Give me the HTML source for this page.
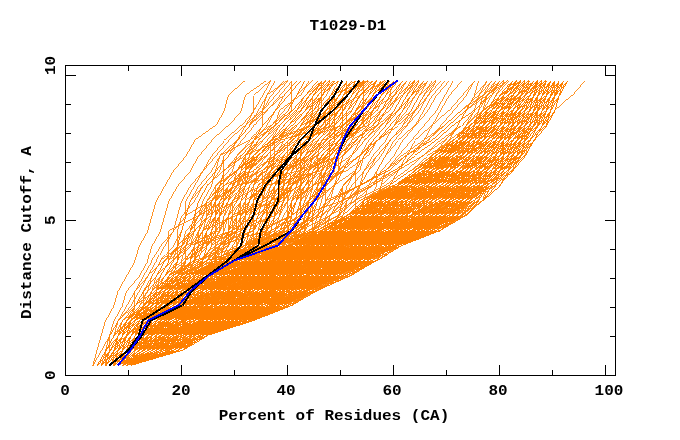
<!DOCTYPE html>
<html><head><meta charset="utf-8"><title>T1029-D1</title>
<style>
html,body{margin:0;padding:0;background:#fff;}
body{width:680px;height:440px;overflow:hidden;position:relative;font-family:"Liberation Mono",monospace;font-weight:bold;color:#000;}
svg{position:absolute;left:0;top:0;}
.t{position:absolute;white-space:pre;line-height:1;}
.t{will-change:transform;}
.big{font-size:14px;}
.big.c{transform:translateX(-50%) scaleX(1.143);}
.big.rot{transform-origin:0 0;transform:rotate(-90deg) scaleX(1.143);}
</style></head><body>
<svg width="680" height="440" viewBox="0 0 680 440" shape-rendering="crispEdges">
<g fill="none" stroke="#ff8000" stroke-width="0.85">
<polyline points="117.9,365.5 130.6,350.5 143.3,335.5 151.8,320.5 181.5,305.5 202.7,290.5 219.7,275.5 253.6,260.5 287.5,245.5 321.4,230.5 346.9,215.5 363.8,200.5 393.5,185.5 414.7,170.5 431.7,155.5 452.9,140.5 469.8,125.5 482.5,110.5 499.5,95.5 512.2,80.5"/>
<polyline points="117.9,365.5 134.9,350.5 143.3,335.5 151.8,320.5 198.5,305.5 202.7,290.5 232.4,275.5 266.3,260.5 300.2,245.5 334.1,230.5 351.1,215.5 368.1,200.5 393.5,185.5 414.7,170.5 440.1,155.5 461.3,140.5 474.1,125.5 486.8,110.5 499.5,95.5 512.2,80.5"/>
<polyline points="117.9,365.5 139.1,350.5 143.3,335.5 151.8,320.5 181.5,305.5 194.2,290.5 219.7,275.5 253.6,260.5 287.5,245.5 321.4,230.5 355.3,215.5 363.8,200.5 393.5,185.5 414.7,170.5 435.9,155.5 457.1,140.5 469.8,125.5 486.8,110.5 499.5,95.5 516.5,80.5"/>
<polyline points="117.9,365.5 134.9,350.5 147.6,335.5 168.8,320.5 194.2,305.5 206.9,290.5 219.7,275.5 262.1,260.5 304.5,245.5 334.1,230.5 355.3,215.5 376.5,200.5 393.5,185.5 414.7,170.5 431.7,155.5 452.9,140.5 469.8,125.5 491.0,110.5 503.7,95.5 516.5,80.5"/>
<polyline points="117.9,365.5 130.6,350.5 147.6,335.5 156.1,320.5 185.7,305.5 202.7,290.5 223.9,275.5 253.6,260.5 287.5,245.5 321.4,230.5 346.9,215.5 368.1,200.5 393.5,185.5 418.9,170.5 431.7,155.5 452.9,140.5 469.8,125.5 482.5,110.5 499.5,95.5 512.2,80.5"/>
<polyline points="117.9,365.5 130.6,350.5 139.1,335.5 168.8,320.5 185.7,305.5 219.7,290.5 219.7,275.5 253.6,260.5 287.5,245.5 321.4,230.5 346.9,215.5 368.1,200.5 393.5,185.5 414.7,170.5 435.9,155.5 457.1,140.5 469.8,125.5 482.5,110.5 499.5,95.5 512.2,80.5"/>
<polyline points="117.9,365.5 139.1,350.5 147.6,335.5 151.8,320.5 185.7,305.5 211.2,290.5 219.7,275.5 253.6,260.5 287.5,245.5 321.4,230.5 346.9,215.5 363.8,200.5 393.5,185.5 414.7,170.5 431.7,155.5 452.9,140.5 469.8,125.5 482.5,110.5 499.5,95.5 512.2,80.5"/>
<polyline points="117.9,365.5 134.9,350.5 151.8,335.5 160.3,320.5 181.5,305.5 194.2,290.5 223.9,275.5 266.3,260.5 291.7,245.5 321.4,230.5 346.9,215.5 368.1,200.5 393.5,185.5 418.9,170.5 435.9,155.5 452.9,140.5 469.8,125.5 486.8,110.5 499.5,95.5 512.2,80.5"/>
<polyline points="117.9,365.5 130.6,350.5 139.1,335.5 156.1,320.5 194.2,305.5 198.5,290.5 228.1,275.5 253.6,260.5 304.5,245.5 342.6,230.5 359.6,215.5 372.3,200.5 397.7,185.5 414.7,170.5 435.9,155.5 457.1,140.5 469.8,125.5 482.5,110.5 499.5,95.5 512.2,80.5"/>
<polyline points="117.9,365.5 134.9,350.5 147.6,335.5 151.8,320.5 181.5,305.5 206.9,290.5 228.1,275.5 253.6,260.5 287.5,245.5 321.4,230.5 346.9,215.5 363.8,200.5 393.5,185.5 414.7,170.5 431.7,155.5 452.9,140.5 469.8,125.5 482.5,110.5 499.5,95.5 512.2,80.5"/>
<polyline points="117.9,365.5 139.1,350.5 151.8,335.5 160.3,320.5 202.7,305.5 202.7,290.5 219.7,275.5 266.3,260.5 287.5,245.5 321.4,230.5 346.9,215.5 363.8,200.5 393.5,185.5 414.7,170.5 431.7,155.5 452.9,140.5 469.8,125.5 482.5,110.5 499.5,95.5 512.2,80.5"/>
<polyline points="117.9,365.5 130.6,350.5 139.1,335.5 156.1,320.5 194.2,305.5 198.5,290.5 240.9,275.5 270.5,260.5 308.7,245.5 325.7,230.5 346.9,215.5 372.3,200.5 393.5,185.5 418.9,170.5 440.1,155.5 452.9,140.5 474.1,125.5 491.0,110.5 508.0,95.5 516.5,80.5"/>
<polyline points="117.9,365.5 130.6,350.5 139.1,335.5 151.8,320.5 185.7,305.5 194.2,290.5 232.4,275.5 257.8,260.5 291.7,245.5 321.4,230.5 346.9,215.5 363.8,200.5 393.5,185.5 414.7,170.5 431.7,155.5 452.9,140.5 469.8,125.5 482.5,110.5 499.5,95.5 512.2,80.5"/>
<polyline points="117.9,365.5 130.6,350.5 143.3,335.5 151.8,320.5 185.7,305.5 194.2,290.5 228.1,275.5 257.8,260.5 287.5,245.5 325.7,230.5 346.9,215.5 363.8,200.5 393.5,185.5 414.7,170.5 435.9,155.5 457.1,140.5 474.1,125.5 486.8,110.5 503.7,95.5 516.5,80.5"/>
<polyline points="117.9,365.5 139.1,350.5 147.6,335.5 160.3,320.5 181.5,305.5 194.2,290.5 219.7,275.5 262.1,260.5 291.7,245.5 329.9,230.5 363.8,215.5 368.1,200.5 397.7,185.5 414.7,170.5 435.9,155.5 457.1,140.5 474.1,125.5 491.0,110.5 499.5,95.5 512.2,80.5"/>
<polyline points="117.9,365.5 143.3,350.5 147.6,335.5 156.1,320.5 190.0,305.5 202.7,290.5 219.7,275.5 253.6,260.5 296.0,245.5 321.4,230.5 346.9,215.5 363.8,200.5 397.7,185.5 414.7,170.5 431.7,155.5 452.9,140.5 469.8,125.5 482.5,110.5 499.5,95.5 512.2,80.5"/>
<polyline points="117.9,365.5 130.6,350.5 139.1,335.5 151.8,320.5 181.5,305.5 194.2,290.5 219.7,275.5 253.6,260.5 287.5,245.5 321.4,230.5 355.3,215.5 363.8,200.5 393.5,185.5 414.7,170.5 435.9,155.5 452.9,140.5 474.1,125.5 486.8,110.5 499.5,95.5 512.2,80.5"/>
<polyline points="117.9,365.5 134.9,350.5 143.3,335.5 160.3,320.5 190.0,305.5 198.5,290.5 219.7,275.5 266.3,260.5 287.5,245.5 329.9,230.5 351.1,215.5 368.1,200.5 393.5,185.5 414.7,170.5 435.9,155.5 461.3,140.5 478.3,125.5 491.0,110.5 503.7,95.5 516.5,80.5"/>
<polyline points="117.9,365.5 130.6,350.5 147.6,335.5 156.1,320.5 181.5,305.5 194.2,290.5 219.7,275.5 253.6,260.5 287.5,245.5 321.4,230.5 346.9,215.5 363.8,200.5 397.7,185.5 418.9,170.5 435.9,155.5 452.9,140.5 469.8,125.5 482.5,110.5 499.5,95.5 512.2,80.5"/>
<polyline points="117.9,365.5 134.9,350.5 151.8,335.5 156.1,320.5 181.5,305.5 202.7,290.5 232.4,275.5 257.8,260.5 296.0,245.5 321.4,230.5 346.9,215.5 368.1,200.5 393.5,185.5 414.7,170.5 435.9,155.5 452.9,140.5 469.8,125.5 482.5,110.5 499.5,95.5 516.5,80.5"/>
<polyline points="117.9,365.5 139.1,350.5 147.6,335.5 164.5,320.5 202.7,305.5 228.1,290.5 232.4,275.5 253.6,260.5 291.7,245.5 329.9,230.5 368.1,215.5 376.5,200.5 393.5,185.5 414.7,170.5 431.7,155.5 452.9,140.5 469.8,125.5 482.5,110.5 499.5,95.5 512.2,80.5"/>
<polyline points="117.9,365.5 130.6,350.5 139.1,335.5 151.8,320.5 181.5,305.5 198.5,290.5 240.9,275.5 274.8,260.5 291.7,245.5 325.7,230.5 359.6,215.5 363.8,200.5 393.5,185.5 414.7,170.5 440.1,155.5 457.1,140.5 474.1,125.5 491.0,110.5 503.7,95.5 516.5,80.5"/>
<polyline points="117.9,365.5 130.6,350.5 143.3,335.5 156.1,320.5 181.5,305.5 194.2,290.5 219.7,275.5 253.6,260.5 287.5,245.5 321.4,230.5 351.1,215.5 372.3,200.5 397.7,185.5 427.4,170.5 444.4,155.5 465.6,140.5 478.3,125.5 495.3,110.5 512.2,95.5 520.7,80.5"/>
<polyline points="117.9,365.5 130.6,350.5 139.1,335.5 160.3,320.5 185.7,305.5 194.2,290.5 219.7,275.5 253.6,260.5 287.5,245.5 321.4,230.5 346.9,215.5 363.8,200.5 393.5,185.5 414.7,170.5 431.7,155.5 452.9,140.5 469.8,125.5 482.5,110.5 499.5,95.5 516.5,80.5"/>
<polyline points="117.9,365.5 130.6,350.5 143.3,335.5 173.0,320.5 194.2,305.5 198.5,290.5 240.9,275.5 262.1,260.5 312.9,245.5 346.9,230.5 363.8,215.5 385.0,200.5 402.0,185.5 418.9,170.5 435.9,155.5 457.1,140.5 478.3,125.5 491.0,110.5 503.7,95.5 512.2,80.5"/>
<polyline points="117.9,365.5 134.9,350.5 139.1,335.5 156.1,320.5 181.5,305.5 198.5,290.5 240.9,275.5 262.1,260.5 291.7,245.5 321.4,230.5 346.9,215.5 372.3,200.5 397.7,185.5 423.2,170.5 431.7,155.5 457.1,140.5 474.1,125.5 486.8,110.5 503.7,95.5 512.2,80.5"/>
<polyline points="117.9,365.5 130.6,350.5 139.1,335.5 151.8,320.5 181.5,305.5 194.2,290.5 219.7,275.5 257.8,260.5 296.0,245.5 325.7,230.5 351.1,215.5 363.8,200.5 393.5,185.5 418.9,170.5 435.9,155.5 452.9,140.5 469.8,125.5 482.5,110.5 499.5,95.5 516.5,80.5"/>
<polyline points="117.9,365.5 130.6,350.5 139.1,335.5 151.8,320.5 181.5,305.5 206.9,290.5 232.4,275.5 266.3,260.5 296.0,245.5 321.4,230.5 351.1,215.5 368.1,200.5 402.0,185.5 427.4,170.5 435.9,155.5 452.9,140.5 469.8,125.5 482.5,110.5 499.5,95.5 512.2,80.5"/>
<polyline points="117.9,365.5 130.6,350.5 139.1,335.5 156.1,320.5 181.5,305.5 198.5,290.5 228.1,275.5 257.8,260.5 312.9,245.5 346.9,230.5 355.3,215.5 372.3,200.5 397.7,185.5 423.2,170.5 435.9,155.5 457.1,140.5 478.3,125.5 491.0,110.5 503.7,95.5 520.7,80.5"/>
<polyline points="117.9,365.5 130.6,350.5 139.1,335.5 156.1,320.5 181.5,305.5 194.2,290.5 228.1,275.5 253.6,260.5 291.7,245.5 329.9,230.5 351.1,215.5 380.8,200.5 402.0,185.5 423.2,170.5 435.9,155.5 461.3,140.5 478.3,125.5 491.0,110.5 503.7,95.5 520.7,80.5"/>
<polyline points="117.9,365.5 130.6,350.5 139.1,335.5 151.8,320.5 181.5,305.5 194.2,290.5 219.7,275.5 262.1,260.5 296.0,245.5 346.9,230.5 359.6,215.5 376.5,200.5 397.7,185.5 418.9,170.5 444.4,155.5 461.3,140.5 474.1,125.5 486.8,110.5 499.5,95.5 516.5,80.5"/>
<polyline points="117.9,365.5 143.3,350.5 147.6,335.5 151.8,320.5 185.7,305.5 194.2,290.5 219.7,275.5 253.6,260.5 287.5,245.5 321.4,230.5 351.1,215.5 368.1,200.5 393.5,185.5 414.7,170.5 435.9,155.5 452.9,140.5 469.8,125.5 486.8,110.5 499.5,95.5 512.2,80.5"/>
<polyline points="117.9,365.5 134.9,350.5 151.8,335.5 168.8,320.5 194.2,305.5 211.2,290.5 232.4,275.5 253.6,260.5 287.5,245.5 321.4,230.5 346.9,215.5 363.8,200.5 397.7,185.5 418.9,170.5 435.9,155.5 452.9,140.5 469.8,125.5 486.8,110.5 499.5,95.5 516.5,80.5"/>
<polyline points="117.9,365.5 130.6,350.5 143.3,335.5 160.3,320.5 198.5,305.5 206.9,290.5 228.1,275.5 257.8,260.5 296.0,245.5 321.4,230.5 351.1,215.5 372.3,200.5 402.0,185.5 418.9,170.5 440.1,155.5 457.1,140.5 469.8,125.5 482.5,110.5 499.5,95.5 512.2,80.5"/>
<polyline points="117.9,365.5 134.9,350.5 151.8,335.5 160.3,320.5 190.0,305.5 211.2,290.5 236.6,275.5 279.0,260.5 308.7,245.5 338.4,230.5 346.9,215.5 368.1,200.5 393.5,185.5 414.7,170.5 435.9,155.5 457.1,140.5 474.1,125.5 495.3,110.5 503.7,95.5 512.2,80.5"/>
<polyline points="122.1,365.5 139.1,350.5 151.8,335.5 156.1,320.5 181.5,305.5 194.2,290.5 228.1,275.5 253.6,260.5 287.5,245.5 321.4,230.5 346.9,215.5 363.8,200.5 393.5,185.5 414.7,170.5 431.7,155.5 452.9,140.5 469.8,125.5 482.5,110.5 499.5,95.5 512.2,80.5"/>
<polyline points="117.9,365.5 130.6,350.5 139.1,335.5 151.8,320.5 181.5,305.5 194.2,290.5 219.7,275.5 253.6,260.5 287.5,245.5 321.4,230.5 346.9,215.5 363.8,200.5 393.5,185.5 418.9,170.5 440.1,155.5 457.1,140.5 469.8,125.5 486.8,110.5 499.5,95.5 516.5,80.5"/>
<polyline points="117.9,365.5 130.6,350.5 143.3,335.5 151.8,320.5 181.5,305.5 194.2,290.5 219.7,275.5 253.6,260.5 291.7,245.5 325.7,230.5 346.9,215.5 363.8,200.5 393.5,185.5 414.7,170.5 431.7,155.5 452.9,140.5 474.1,125.5 491.0,110.5 508.0,95.5 520.7,80.5"/>
<polyline points="117.9,365.5 143.3,350.5 151.8,335.5 168.8,320.5 185.7,305.5 202.7,290.5 232.4,275.5 266.3,260.5 296.0,245.5 325.7,230.5 346.9,215.5 363.8,200.5 397.7,185.5 418.9,170.5 435.9,155.5 452.9,140.5 474.1,125.5 486.8,110.5 503.7,95.5 512.2,80.5"/>
<polyline points="117.9,365.5 130.6,350.5 139.1,335.5 151.8,320.5 181.5,305.5 194.2,290.5 219.7,275.5 253.6,260.5 291.7,245.5 334.1,230.5 359.6,215.5 368.1,200.5 397.7,185.5 418.9,170.5 440.1,155.5 461.3,140.5 474.1,125.5 491.0,110.5 503.7,95.5 516.5,80.5"/>
<polyline points="117.9,365.5 130.6,350.5 139.1,335.5 168.8,320.5 202.7,305.5 219.7,290.5 228.1,275.5 257.8,260.5 287.5,245.5 325.7,230.5 351.1,215.5 385.0,200.5 402.0,185.5 418.9,170.5 440.1,155.5 452.9,140.5 469.8,125.5 491.0,110.5 503.7,95.5 520.7,80.5"/>
<polyline points="117.9,365.5 130.6,350.5 143.3,335.5 168.8,320.5 185.7,305.5 206.9,290.5 236.6,275.5 253.6,260.5 291.7,245.5 334.1,230.5 351.1,215.5 380.8,200.5 397.7,185.5 427.4,170.5 444.4,155.5 457.1,140.5 474.1,125.5 486.8,110.5 503.7,95.5 520.7,80.5"/>
<polyline points="117.9,365.5 130.6,350.5 147.6,335.5 164.5,320.5 190.0,305.5 202.7,290.5 219.7,275.5 262.1,260.5 287.5,245.5 321.4,230.5 346.9,215.5 372.3,200.5 406.2,185.5 427.4,170.5 448.6,155.5 465.6,140.5 478.3,125.5 486.8,110.5 503.7,95.5 516.5,80.5"/>
<polyline points="117.9,365.5 134.9,350.5 147.6,335.5 173.0,320.5 202.7,305.5 202.7,290.5 232.4,275.5 262.1,260.5 291.7,245.5 342.6,230.5 363.8,215.5 380.8,200.5 406.2,185.5 431.7,170.5 444.4,155.5 457.1,140.5 474.1,125.5 486.8,110.5 499.5,95.5 512.2,80.5"/>
<polyline points="117.9,365.5 130.6,350.5 139.1,335.5 151.8,320.5 181.5,305.5 194.2,290.5 228.1,275.5 253.6,260.5 287.5,245.5 321.4,230.5 346.9,215.5 368.1,200.5 393.5,185.5 414.7,170.5 435.9,155.5 452.9,140.5 474.1,125.5 486.8,110.5 503.7,95.5 516.5,80.5"/>
<polyline points="117.9,365.5 130.6,350.5 139.1,335.5 151.8,320.5 181.5,305.5 194.2,290.5 219.7,275.5 257.8,260.5 304.5,245.5 342.6,230.5 363.8,215.5 376.5,200.5 406.2,185.5 435.9,170.5 448.6,155.5 461.3,140.5 482.5,125.5 495.3,110.5 512.2,95.5 529.2,80.5"/>
<polyline points="117.9,365.5 139.1,350.5 151.8,335.5 151.8,320.5 181.5,305.5 194.2,290.5 219.7,275.5 257.8,260.5 300.2,245.5 338.4,230.5 351.1,215.5 368.1,200.5 402.0,185.5 418.9,170.5 435.9,155.5 461.3,140.5 478.3,125.5 486.8,110.5 499.5,95.5 516.5,80.5"/>
<polyline points="117.9,365.5 130.6,350.5 139.1,335.5 160.3,320.5 181.5,305.5 198.5,290.5 223.9,275.5 266.3,260.5 300.2,245.5 342.6,230.5 359.6,215.5 389.3,200.5 414.7,185.5 427.4,170.5 440.1,155.5 465.6,140.5 474.1,125.5 491.0,110.5 508.0,95.5 520.7,80.5"/>
<polyline points="117.9,365.5 130.6,350.5 143.3,335.5 160.3,320.5 185.7,305.5 202.7,290.5 228.1,275.5 253.6,260.5 287.5,245.5 338.4,230.5 351.1,215.5 385.0,200.5 410.5,185.5 431.7,170.5 444.4,155.5 465.6,140.5 478.3,125.5 491.0,110.5 499.5,95.5 520.7,80.5"/>
<polyline points="117.9,365.5 134.9,350.5 139.1,335.5 156.1,320.5 181.5,305.5 194.2,290.5 219.7,275.5 257.8,260.5 287.5,245.5 334.1,230.5 355.3,215.5 376.5,200.5 393.5,185.5 418.9,170.5 435.9,155.5 457.1,140.5 469.8,125.5 491.0,110.5 499.5,95.5 516.5,80.5"/>
<polyline points="117.9,365.5 143.3,350.5 143.3,335.5 173.0,320.5 185.7,305.5 194.2,290.5 228.1,275.5 274.8,260.5 296.0,245.5 321.4,230.5 346.9,215.5 376.5,200.5 402.0,185.5 427.4,170.5 444.4,155.5 461.3,140.5 482.5,125.5 495.3,110.5 508.0,95.5 520.7,80.5"/>
<polyline points="117.9,365.5 139.1,350.5 143.3,335.5 164.5,320.5 181.5,305.5 194.2,290.5 228.1,275.5 257.8,260.5 291.7,245.5 325.7,230.5 346.9,215.5 363.8,200.5 393.5,185.5 414.7,170.5 431.7,155.5 452.9,140.5 469.8,125.5 482.5,110.5 499.5,95.5 512.2,80.5"/>
<polyline points="117.9,365.5 134.9,350.5 143.3,335.5 151.8,320.5 181.5,305.5 198.5,290.5 219.7,275.5 266.3,260.5 300.2,245.5 329.9,230.5 346.9,215.5 376.5,200.5 393.5,185.5 423.2,170.5 440.1,155.5 457.1,140.5 474.1,125.5 486.8,110.5 503.7,95.5 520.7,80.5"/>
<polyline points="117.9,365.5 134.9,350.5 139.1,335.5 151.8,320.5 181.5,305.5 194.2,290.5 219.7,275.5 266.3,260.5 300.2,245.5 329.9,230.5 346.9,215.5 368.1,200.5 402.0,185.5 423.2,170.5 444.4,155.5 457.1,140.5 482.5,125.5 495.3,110.5 512.2,95.5 529.2,80.5"/>
<polyline points="117.9,365.5 134.9,350.5 143.3,335.5 156.1,320.5 185.7,305.5 206.9,290.5 240.9,275.5 274.8,260.5 304.5,245.5 334.1,230.5 359.6,215.5 372.3,200.5 406.2,185.5 427.4,170.5 448.6,155.5 465.6,140.5 482.5,125.5 491.0,110.5 508.0,95.5 524.9,80.5"/>
<polyline points="117.9,365.5 134.9,350.5 147.6,335.5 151.8,320.5 181.5,305.5 194.2,290.5 219.7,275.5 262.1,260.5 300.2,245.5 334.1,230.5 355.3,215.5 376.5,200.5 402.0,185.5 418.9,170.5 444.4,155.5 461.3,140.5 478.3,125.5 495.3,110.5 503.7,95.5 520.7,80.5"/>
<polyline points="117.9,365.5 139.1,350.5 156.1,335.5 177.3,320.5 198.5,305.5 228.1,290.5 257.8,275.5 287.5,260.5 308.7,245.5 321.4,230.5 346.9,215.5 363.8,200.5 397.7,185.5 418.9,170.5 440.1,155.5 452.9,140.5 469.8,125.5 482.5,110.5 499.5,95.5 512.2,80.5"/>
<polyline points="117.9,365.5 130.6,350.5 143.3,335.5 168.8,320.5 202.7,305.5 211.2,290.5 228.1,275.5 274.8,260.5 308.7,245.5 342.6,230.5 368.1,215.5 372.3,200.5 397.7,185.5 418.9,170.5 435.9,155.5 461.3,140.5 474.1,125.5 491.0,110.5 503.7,95.5 516.5,80.5"/>
<polyline points="122.1,365.5 143.3,350.5 143.3,335.5 156.1,320.5 185.7,305.5 211.2,290.5 249.3,275.5 274.8,260.5 308.7,245.5 329.9,230.5 351.1,215.5 372.3,200.5 393.5,185.5 414.7,170.5 431.7,155.5 457.1,140.5 474.1,125.5 486.8,110.5 503.7,95.5 516.5,80.5"/>
<polyline points="117.9,365.5 139.1,350.5 147.6,335.5 164.5,320.5 198.5,305.5 198.5,290.5 219.7,275.5 262.1,260.5 287.5,245.5 325.7,230.5 351.1,215.5 363.8,200.5 397.7,185.5 423.2,170.5 444.4,155.5 461.3,140.5 478.3,125.5 491.0,110.5 508.0,95.5 516.5,80.5"/>
<polyline points="117.9,365.5 134.9,350.5 151.8,335.5 164.5,320.5 194.2,305.5 211.2,290.5 236.6,275.5 279.0,260.5 291.7,245.5 334.1,230.5 351.1,215.5 363.8,200.5 402.0,185.5 423.2,170.5 435.9,155.5 457.1,140.5 469.8,125.5 482.5,110.5 499.5,95.5 516.5,80.5"/>
<polyline points="117.9,365.5 143.3,350.5 156.1,335.5 168.8,320.5 198.5,305.5 206.9,290.5 232.4,275.5 270.5,260.5 291.7,245.5 329.9,230.5 359.6,215.5 385.0,200.5 406.2,185.5 431.7,170.5 448.6,155.5 461.3,140.5 474.1,125.5 486.8,110.5 499.5,95.5 512.2,80.5"/>
<polyline points="117.9,365.5 143.3,350.5 164.5,335.5 181.5,320.5 190.0,305.5 206.9,290.5 240.9,275.5 270.5,260.5 291.7,245.5 325.7,230.5 359.6,215.5 376.5,200.5 402.0,185.5 418.9,170.5 435.9,155.5 452.9,140.5 469.8,125.5 486.8,110.5 499.5,95.5 516.5,80.5"/>
<polyline points="122.1,365.5 143.3,350.5 151.8,335.5 173.0,320.5 202.7,305.5 211.2,290.5 228.1,275.5 266.3,260.5 304.5,245.5 342.6,230.5 355.3,215.5 368.1,200.5 393.5,185.5 414.7,170.5 435.9,155.5 461.3,140.5 469.8,125.5 482.5,110.5 499.5,95.5 512.2,80.5"/>
<polyline points="117.9,365.5 130.6,350.5 139.1,335.5 151.8,320.5 181.5,305.5 194.2,290.5 228.1,275.5 266.3,260.5 296.0,245.5 329.9,230.5 355.3,215.5 376.5,200.5 402.0,185.5 423.2,170.5 448.6,155.5 461.3,140.5 478.3,125.5 495.3,110.5 512.2,95.5 524.9,80.5"/>
<polyline points="117.9,365.5 143.3,350.5 143.3,335.5 156.1,320.5 185.7,305.5 211.2,290.5 240.9,275.5 274.8,260.5 317.2,245.5 342.6,230.5 359.6,215.5 385.0,200.5 414.7,185.5 427.4,170.5 444.4,155.5 461.3,140.5 478.3,125.5 491.0,110.5 508.0,95.5 516.5,80.5"/>
<polyline points="117.9,365.5 134.9,350.5 147.6,335.5 173.0,320.5 198.5,305.5 219.7,290.5 240.9,275.5 262.1,260.5 308.7,245.5 338.4,230.5 363.8,215.5 376.5,200.5 402.0,185.5 431.7,170.5 444.4,155.5 465.6,140.5 478.3,125.5 491.0,110.5 508.0,95.5 516.5,80.5"/>
<polyline points="117.9,365.5 143.3,350.5 156.1,335.5 168.8,320.5 198.5,305.5 206.9,290.5 232.4,275.5 262.1,260.5 300.2,245.5 338.4,230.5 363.8,215.5 385.0,200.5 410.5,185.5 423.2,170.5 440.1,155.5 457.1,140.5 474.1,125.5 486.8,110.5 499.5,95.5 512.2,80.5"/>
<polyline points="117.9,365.5 134.9,350.5 151.8,335.5 177.3,320.5 190.0,305.5 219.7,290.5 245.1,275.5 274.8,260.5 287.5,245.5 329.9,230.5 372.3,215.5 376.5,200.5 406.2,185.5 427.4,170.5 448.6,155.5 461.3,140.5 478.3,125.5 491.0,110.5 508.0,95.5 516.5,80.5"/>
<polyline points="117.9,365.5 134.9,350.5 147.6,335.5 168.8,320.5 194.2,305.5 206.9,290.5 232.4,275.5 266.3,260.5 300.2,245.5 334.1,230.5 355.3,215.5 380.8,200.5 406.2,185.5 423.2,170.5 444.4,155.5 465.6,140.5 482.5,125.5 495.3,110.5 508.0,95.5 520.7,80.5"/>
<polyline points="117.9,365.5 130.6,350.5 143.3,335.5 160.3,320.5 194.2,305.5 223.9,290.5 249.3,275.5 283.3,260.5 304.5,245.5 338.4,230.5 376.5,215.5 385.0,200.5 410.5,185.5 427.4,170.5 444.4,155.5 457.1,140.5 474.1,125.5 482.5,110.5 499.5,95.5 516.5,80.5"/>
<polyline points="117.9,365.5 139.1,350.5 147.6,335.5 151.8,320.5 181.5,305.5 206.9,290.5 236.6,275.5 279.0,260.5 321.4,245.5 342.6,230.5 363.8,215.5 376.5,200.5 397.7,185.5 423.2,170.5 444.4,155.5 457.1,140.5 469.8,125.5 486.8,110.5 499.5,95.5 516.5,80.5"/>
<polyline points="117.9,365.5 134.9,350.5 143.3,335.5 177.3,320.5 206.9,305.5 223.9,290.5 236.6,275.5 266.3,260.5 321.4,245.5 351.1,230.5 372.3,215.5 376.5,200.5 406.2,185.5 431.7,170.5 448.6,155.5 461.3,140.5 474.1,125.5 486.8,110.5 503.7,95.5 516.5,80.5"/>
<polyline points="117.9,365.5 130.6,350.5 151.8,335.5 173.0,320.5 194.2,305.5 211.2,290.5 236.6,275.5 270.5,260.5 308.7,245.5 329.9,230.5 346.9,215.5 372.3,200.5 402.0,185.5 418.9,170.5 444.4,155.5 461.3,140.5 474.1,125.5 491.0,110.5 508.0,95.5 520.7,80.5"/>
<polyline points="117.9,365.5 139.1,350.5 151.8,335.5 160.3,320.5 185.7,305.5 198.5,290.5 232.4,275.5 266.3,260.5 287.5,245.5 334.1,230.5 355.3,215.5 372.3,200.5 410.5,185.5 427.4,170.5 448.6,155.5 461.3,140.5 478.3,125.5 491.0,110.5 503.7,95.5 520.7,80.5"/>
<polyline points="117.9,365.5 134.9,350.5 143.3,335.5 160.3,320.5 194.2,305.5 206.9,290.5 236.6,275.5 270.5,260.5 304.5,245.5 346.9,230.5 355.3,215.5 368.1,200.5 393.5,185.5 423.2,170.5 448.6,155.5 465.6,140.5 478.3,125.5 495.3,110.5 508.0,95.5 520.7,80.5"/>
<polyline points="117.9,365.5 139.1,350.5 151.8,335.5 173.0,320.5 194.2,305.5 211.2,290.5 236.6,275.5 274.8,260.5 296.0,245.5 338.4,230.5 359.6,215.5 380.8,200.5 406.2,185.5 427.4,170.5 440.1,155.5 465.6,140.5 474.1,125.5 486.8,110.5 503.7,95.5 520.7,80.5"/>
<polyline points="117.9,365.5 134.9,350.5 147.6,335.5 168.8,320.5 202.7,305.5 215.4,290.5 228.1,275.5 279.0,260.5 317.2,245.5 338.4,230.5 359.6,215.5 363.8,200.5 393.5,185.5 414.7,170.5 435.9,155.5 457.1,140.5 469.8,125.5 482.5,110.5 499.5,95.5 516.5,80.5"/>
<polyline points="117.9,365.5 139.1,350.5 143.3,335.5 151.8,320.5 181.5,305.5 215.4,290.5 249.3,275.5 274.8,260.5 300.2,245.5 329.9,230.5 376.5,215.5 385.0,200.5 410.5,185.5 431.7,170.5 452.9,155.5 469.8,140.5 482.5,125.5 495.3,110.5 508.0,95.5 520.7,80.5"/>
<polyline points="117.9,365.5 139.1,350.5 143.3,335.5 151.8,320.5 181.5,305.5 194.2,290.5 228.1,275.5 253.6,260.5 312.9,245.5 334.1,230.5 359.6,215.5 376.5,200.5 402.0,185.5 427.4,170.5 440.1,155.5 457.1,140.5 478.3,125.5 491.0,110.5 508.0,95.5 516.5,80.5"/>
<polyline points="122.1,365.5 147.6,350.5 160.3,335.5 181.5,320.5 215.4,305.5 215.4,290.5 236.6,275.5 287.5,260.5 308.7,245.5 338.4,230.5 372.3,215.5 389.3,200.5 410.5,185.5 418.9,170.5 444.4,155.5 461.3,140.5 474.1,125.5 486.8,110.5 503.7,95.5 520.7,80.5"/>
<polyline points="117.9,365.5 134.9,350.5 147.6,335.5 164.5,320.5 202.7,305.5 219.7,290.5 240.9,275.5 283.3,260.5 321.4,245.5 346.9,230.5 368.1,215.5 380.8,200.5 406.2,185.5 423.2,170.5 448.6,155.5 461.3,140.5 474.1,125.5 495.3,110.5 508.0,95.5 524.9,80.5"/>
<polyline points="117.9,365.5 134.9,350.5 147.6,335.5 168.8,320.5 202.7,305.5 215.4,290.5 236.6,275.5 266.3,260.5 296.0,245.5 321.4,230.5 351.1,215.5 368.1,200.5 406.2,185.5 431.7,170.5 448.6,155.5 465.6,140.5 482.5,125.5 491.0,110.5 503.7,95.5 516.5,80.5"/>
<polyline points="117.9,365.5 134.9,350.5 156.1,335.5 177.3,320.5 211.2,305.5 215.4,290.5 253.6,275.5 287.5,260.5 312.9,245.5 346.9,230.5 372.3,215.5 385.0,200.5 406.2,185.5 431.7,170.5 448.6,155.5 457.1,140.5 478.3,125.5 495.3,110.5 508.0,95.5 520.7,80.5"/>
<polyline points="117.9,365.5 139.1,350.5 156.1,335.5 173.0,320.5 194.2,305.5 219.7,290.5 240.9,275.5 279.0,260.5 300.2,245.5 329.9,230.5 363.8,215.5 385.0,200.5 410.5,185.5 431.7,170.5 448.6,155.5 465.6,140.5 482.5,125.5 495.3,110.5 508.0,95.5 520.7,80.5"/>
<polyline points="117.9,365.5 134.9,350.5 139.1,335.5 164.5,320.5 185.7,305.5 194.2,290.5 223.9,275.5 257.8,260.5 300.2,245.5 338.4,230.5 368.1,215.5 393.5,200.5 414.7,185.5 431.7,170.5 444.4,155.5 461.3,140.5 474.1,125.5 491.0,110.5 512.2,95.5 520.7,80.5"/>
<polyline points="117.9,365.5 134.9,350.5 143.3,335.5 156.1,320.5 185.7,305.5 198.5,290.5 236.6,275.5 270.5,260.5 300.2,245.5 334.1,230.5 355.3,215.5 380.8,200.5 410.5,185.5 431.7,170.5 452.9,155.5 469.8,140.5 482.5,125.5 499.5,110.5 508.0,95.5 520.7,80.5"/>
<polyline points="117.9,365.5 143.3,350.5 143.3,335.5 160.3,320.5 181.5,305.5 198.5,290.5 223.9,275.5 266.3,260.5 304.5,245.5 334.1,230.5 355.3,215.5 385.0,200.5 414.7,185.5 431.7,170.5 444.4,155.5 461.3,140.5 478.3,125.5 495.3,110.5 508.0,95.5 520.7,80.5"/>
<polyline points="117.9,365.5 147.6,350.5 156.1,335.5 164.5,320.5 202.7,305.5 215.4,290.5 223.9,275.5 257.8,260.5 296.0,245.5 329.9,230.5 351.1,215.5 372.3,200.5 410.5,185.5 435.9,170.5 444.4,155.5 465.6,140.5 478.3,125.5 495.3,110.5 503.7,95.5 520.7,80.5"/>
<polyline points="122.1,365.5 143.3,350.5 160.3,335.5 173.0,320.5 198.5,305.5 223.9,290.5 240.9,275.5 283.3,260.5 308.7,245.5 329.9,230.5 351.1,215.5 368.1,200.5 402.0,185.5 427.4,170.5 448.6,155.5 465.6,140.5 482.5,125.5 491.0,110.5 503.7,95.5 520.7,80.5"/>
<polyline points="122.1,365.5 139.1,350.5 151.8,335.5 173.0,320.5 198.5,305.5 211.2,290.5 240.9,275.5 270.5,260.5 317.2,245.5 355.3,230.5 376.5,215.5 389.3,200.5 414.7,185.5 435.9,170.5 448.6,155.5 457.1,140.5 474.1,125.5 486.8,110.5 503.7,95.5 516.5,80.5"/>
<polyline points="117.9,365.5 130.6,350.5 139.1,335.5 151.8,320.5 185.7,305.5 215.4,290.5 240.9,275.5 287.5,260.5 296.0,245.5 338.4,230.5 355.3,215.5 368.1,200.5 410.5,185.5 435.9,170.5 448.6,155.5 461.3,140.5 478.3,125.5 486.8,110.5 503.7,95.5 516.5,80.5"/>
<polyline points="117.9,365.5 139.1,350.5 151.8,335.5 173.0,320.5 194.2,305.5 206.9,290.5 236.6,275.5 266.3,260.5 304.5,245.5 342.6,230.5 380.8,215.5 385.0,200.5 406.2,185.5 423.2,170.5 444.4,155.5 465.6,140.5 482.5,125.5 491.0,110.5 508.0,95.5 524.9,80.5"/>
<polyline points="117.9,365.5 134.9,350.5 151.8,335.5 177.3,320.5 206.9,305.5 223.9,290.5 257.8,275.5 279.0,260.5 312.9,245.5 329.9,230.5 359.6,215.5 380.8,200.5 406.2,185.5 435.9,170.5 452.9,155.5 465.6,140.5 478.3,125.5 495.3,110.5 503.7,95.5 520.7,80.5"/>
<polyline points="117.9,365.5 139.1,350.5 147.6,335.5 168.8,320.5 198.5,305.5 219.7,290.5 249.3,275.5 283.3,260.5 317.2,245.5 363.8,230.5 402.0,215.5 402.0,200.5 418.9,185.5 431.7,170.5 448.6,155.5 465.6,140.5 478.3,125.5 491.0,110.5 503.7,95.5 516.5,80.5"/>
<polyline points="117.9,365.5 143.3,350.5 151.8,335.5 151.8,320.5 181.5,305.5 198.5,290.5 232.4,275.5 274.8,260.5 300.2,245.5 338.4,230.5 359.6,215.5 385.0,200.5 406.2,185.5 427.4,170.5 448.6,155.5 465.6,140.5 482.5,125.5 495.3,110.5 508.0,95.5 520.7,80.5"/>
<polyline points="117.9,365.5 139.1,350.5 147.6,335.5 164.5,320.5 202.7,305.5 223.9,290.5 236.6,275.5 279.0,260.5 325.7,245.5 359.6,230.5 389.3,215.5 397.7,200.5 406.2,185.5 431.7,170.5 448.6,155.5 461.3,140.5 474.1,125.5 491.0,110.5 508.0,95.5 520.7,80.5"/>
<polyline points="117.9,365.5 143.3,350.5 151.8,335.5 173.0,320.5 194.2,305.5 206.9,290.5 219.7,275.5 266.3,260.5 300.2,245.5 334.1,230.5 363.8,215.5 380.8,200.5 406.2,185.5 427.4,170.5 444.4,155.5 461.3,140.5 478.3,125.5 491.0,110.5 503.7,95.5 516.5,80.5"/>
<polyline points="122.1,365.5 143.3,350.5 143.3,335.5 173.0,320.5 194.2,305.5 211.2,290.5 245.1,275.5 287.5,260.5 304.5,245.5 325.7,230.5 351.1,215.5 368.1,200.5 402.0,185.5 423.2,170.5 440.1,155.5 461.3,140.5 474.1,125.5 486.8,110.5 508.0,95.5 516.5,80.5"/>
<polyline points="117.9,365.5 139.1,350.5 151.8,335.5 160.3,320.5 202.7,305.5 211.2,290.5 232.4,275.5 279.0,260.5 312.9,245.5 342.6,230.5 368.1,215.5 389.3,200.5 406.2,185.5 418.9,170.5 448.6,155.5 461.3,140.5 478.3,125.5 499.5,110.5 508.0,95.5 524.9,80.5"/>
<polyline points="117.9,365.5 134.9,350.5 143.3,335.5 160.3,320.5 181.5,305.5 194.2,290.5 219.7,275.5 266.3,260.5 296.0,245.5 329.9,230.5 355.3,215.5 380.8,200.5 406.2,185.5 427.4,170.5 448.6,155.5 461.3,140.5 482.5,125.5 491.0,110.5 512.2,95.5 524.9,80.5"/>
<polyline points="117.9,365.5 139.1,350.5 156.1,335.5 173.0,320.5 202.7,305.5 236.6,290.5 266.3,275.5 291.7,260.5 308.7,245.5 346.9,230.5 372.3,215.5 380.8,200.5 406.2,185.5 423.2,170.5 448.6,155.5 465.6,140.5 486.8,125.5 499.5,110.5 512.2,95.5 524.9,80.5"/>
<polyline points="117.9,365.5 134.9,350.5 147.6,335.5 168.8,320.5 202.7,305.5 215.4,290.5 240.9,275.5 266.3,260.5 304.5,245.5 334.1,230.5 368.1,215.5 380.8,200.5 410.5,185.5 431.7,170.5 440.1,155.5 457.1,140.5 474.1,125.5 491.0,110.5 508.0,95.5 520.7,80.5"/>
<polyline points="122.1,365.5 139.1,350.5 160.3,335.5 177.3,320.5 211.2,305.5 219.7,290.5 253.6,275.5 287.5,260.5 312.9,245.5 346.9,230.5 363.8,215.5 385.0,200.5 414.7,185.5 427.4,170.5 435.9,155.5 452.9,140.5 469.8,125.5 486.8,110.5 499.5,95.5 512.2,80.5"/>
<polyline points="122.1,365.5 143.3,350.5 147.6,335.5 164.5,320.5 215.4,305.5 215.4,290.5 232.4,275.5 283.3,260.5 308.7,245.5 346.9,230.5 376.5,215.5 393.5,200.5 414.7,185.5 435.9,170.5 452.9,155.5 469.8,140.5 486.8,125.5 499.5,110.5 512.2,95.5 524.9,80.5"/>
<polyline points="122.1,365.5 143.3,350.5 156.1,335.5 168.8,320.5 202.7,305.5 215.4,290.5 228.1,275.5 270.5,260.5 296.0,245.5 338.4,230.5 376.5,215.5 389.3,200.5 414.7,185.5 435.9,170.5 448.6,155.5 461.3,140.5 478.3,125.5 495.3,110.5 503.7,95.5 520.7,80.5"/>
<polyline points="117.9,365.5 143.3,350.5 143.3,335.5 160.3,320.5 185.7,305.5 202.7,290.5 236.6,275.5 287.5,260.5 312.9,245.5 342.6,230.5 363.8,215.5 380.8,200.5 397.7,185.5 431.7,170.5 448.6,155.5 465.6,140.5 491.0,125.5 499.5,110.5 508.0,95.5 524.9,80.5"/>
<polyline points="117.9,365.5 130.6,350.5 139.1,335.5 151.8,320.5 190.0,305.5 194.2,290.5 219.7,275.5 253.6,260.5 300.2,245.5 329.9,230.5 359.6,215.5 372.3,200.5 406.2,185.5 431.7,170.5 452.9,155.5 469.8,140.5 482.5,125.5 499.5,110.5 516.5,95.5 524.9,80.5"/>
<polyline points="122.1,365.5 139.1,350.5 151.8,335.5 164.5,320.5 198.5,305.5 211.2,290.5 232.4,275.5 283.3,260.5 321.4,245.5 334.1,230.5 368.1,215.5 389.3,200.5 418.9,185.5 435.9,170.5 448.6,155.5 469.8,140.5 482.5,125.5 491.0,110.5 503.7,95.5 520.7,80.5"/>
<polyline points="117.9,365.5 143.3,350.5 156.1,335.5 173.0,320.5 194.2,305.5 206.9,290.5 232.4,275.5 257.8,260.5 296.0,245.5 334.1,230.5 359.6,215.5 380.8,200.5 406.2,185.5 431.7,170.5 448.6,155.5 469.8,140.5 486.8,125.5 499.5,110.5 512.2,95.5 520.7,80.5"/>
<polyline points="122.1,365.5 143.3,350.5 164.5,335.5 177.3,320.5 211.2,305.5 219.7,290.5 253.6,275.5 283.3,260.5 317.2,245.5 351.1,230.5 363.8,215.5 385.0,200.5 402.0,185.5 423.2,170.5 452.9,155.5 465.6,140.5 478.3,125.5 491.0,110.5 503.7,95.5 520.7,80.5"/>
<polyline points="117.9,365.5 143.3,350.5 151.8,335.5 156.1,320.5 198.5,305.5 211.2,290.5 249.3,275.5 287.5,260.5 304.5,245.5 346.9,230.5 363.8,215.5 380.8,200.5 402.0,185.5 423.2,170.5 448.6,155.5 465.6,140.5 478.3,125.5 495.3,110.5 512.2,95.5 524.9,80.5"/>
<polyline points="117.9,365.5 143.3,350.5 151.8,335.5 168.8,320.5 202.7,305.5 202.7,290.5 232.4,275.5 253.6,260.5 287.5,245.5 338.4,230.5 363.8,215.5 380.8,200.5 410.5,185.5 440.1,170.5 457.1,155.5 465.6,140.5 486.8,125.5 503.7,110.5 512.2,95.5 524.9,80.5"/>
<polyline points="122.1,365.5 147.6,350.5 156.1,335.5 181.5,320.5 211.2,305.5 240.9,290.5 253.6,275.5 283.3,260.5 291.7,245.5 338.4,230.5 359.6,215.5 372.3,200.5 402.0,185.5 427.4,170.5 448.6,155.5 469.8,140.5 478.3,125.5 491.0,110.5 508.0,95.5 516.5,80.5"/>
<polyline points="117.9,365.5 139.1,350.5 164.5,335.5 185.7,320.5 206.9,305.5 211.2,290.5 219.7,275.5 262.1,260.5 304.5,245.5 346.9,230.5 376.5,215.5 385.0,200.5 406.2,185.5 431.7,170.5 448.6,155.5 465.6,140.5 478.3,125.5 491.0,110.5 503.7,95.5 512.2,80.5"/>
<polyline points="117.9,365.5 139.1,350.5 151.8,335.5 160.3,320.5 190.0,305.5 215.4,290.5 240.9,275.5 270.5,260.5 304.5,245.5 338.4,230.5 372.3,215.5 385.0,200.5 410.5,185.5 431.7,170.5 452.9,155.5 469.8,140.5 486.8,125.5 495.3,110.5 508.0,95.5 520.7,80.5"/>
<polyline points="117.9,365.5 143.3,350.5 151.8,335.5 173.0,320.5 215.4,305.5 228.1,290.5 236.6,275.5 262.1,260.5 304.5,245.5 351.1,230.5 376.5,215.5 393.5,200.5 406.2,185.5 423.2,170.5 448.6,155.5 461.3,140.5 478.3,125.5 495.3,110.5 503.7,95.5 516.5,80.5"/>
<polyline points="122.1,365.5 143.3,350.5 164.5,335.5 181.5,320.5 219.7,305.5 228.1,290.5 266.3,275.5 287.5,260.5 321.4,245.5 363.8,230.5 393.5,215.5 393.5,200.5 406.2,185.5 423.2,170.5 444.4,155.5 461.3,140.5 478.3,125.5 499.5,110.5 512.2,95.5 520.7,80.5"/>
<polyline points="117.9,365.5 143.3,350.5 156.1,335.5 177.3,320.5 211.2,305.5 223.9,290.5 245.1,275.5 283.3,260.5 308.7,245.5 338.4,230.5 368.1,215.5 389.3,200.5 402.0,185.5 427.4,170.5 452.9,155.5 465.6,140.5 482.5,125.5 495.3,110.5 512.2,95.5 524.9,80.5"/>
<polyline points="122.1,365.5 139.1,350.5 156.1,335.5 164.5,320.5 202.7,305.5 215.4,290.5 249.3,275.5 291.7,260.5 325.7,245.5 342.6,230.5 363.8,215.5 372.3,200.5 402.0,185.5 423.2,170.5 448.6,155.5 465.6,140.5 478.3,125.5 491.0,110.5 503.7,95.5 516.5,80.5"/>
<polyline points="122.1,365.5 139.1,350.5 151.8,335.5 185.7,320.5 202.7,305.5 215.4,290.5 245.1,275.5 279.0,260.5 300.2,245.5 342.6,230.5 363.8,215.5 385.0,200.5 402.0,185.5 427.4,170.5 448.6,155.5 469.8,140.5 486.8,125.5 499.5,110.5 508.0,95.5 516.5,80.5"/>
<polyline points="122.1,365.5 143.3,350.5 164.5,335.5 194.2,320.5 215.4,305.5 223.9,290.5 249.3,275.5 283.3,260.5 312.9,245.5 342.6,230.5 363.8,215.5 385.0,200.5 414.7,185.5 431.7,170.5 448.6,155.5 469.8,140.5 482.5,125.5 486.8,110.5 503.7,95.5 516.5,80.5"/>
<polyline points="117.9,365.5 134.9,350.5 156.1,335.5 168.8,320.5 202.7,305.5 223.9,290.5 245.1,275.5 279.0,260.5 312.9,245.5 355.3,230.5 380.8,215.5 389.3,200.5 414.7,185.5 435.9,170.5 457.1,155.5 474.1,140.5 491.0,125.5 503.7,110.5 516.5,95.5 529.2,80.5"/>
<polyline points="122.1,365.5 143.3,350.5 164.5,335.5 198.5,320.5 223.9,305.5 249.3,290.5 262.1,275.5 283.3,260.5 321.4,245.5 342.6,230.5 368.1,215.5 389.3,200.5 402.0,185.5 427.4,170.5 448.6,155.5 457.1,140.5 474.1,125.5 491.0,110.5 503.7,95.5 516.5,80.5"/>
<polyline points="117.9,365.5 139.1,350.5 151.8,335.5 173.0,320.5 202.7,305.5 232.4,290.5 257.8,275.5 279.0,260.5 312.9,245.5 342.6,230.5 376.5,215.5 393.5,200.5 418.9,185.5 440.1,170.5 461.3,155.5 474.1,140.5 491.0,125.5 499.5,110.5 516.5,95.5 529.2,80.5"/>
<polyline points="117.9,365.5 134.9,350.5 147.6,335.5 177.3,320.5 215.4,305.5 228.1,290.5 249.3,275.5 287.5,260.5 329.9,245.5 372.3,230.5 372.3,215.5 397.7,200.5 423.2,185.5 435.9,170.5 452.9,155.5 469.8,140.5 478.3,125.5 495.3,110.5 508.0,95.5 520.7,80.5"/>
<polyline points="117.9,365.5 139.1,350.5 156.1,335.5 168.8,320.5 185.7,305.5 198.5,290.5 219.7,275.5 253.6,260.5 300.2,245.5 338.4,230.5 359.6,215.5 389.3,200.5 414.7,185.5 435.9,170.5 461.3,155.5 474.1,140.5 491.0,125.5 503.7,110.5 520.7,95.5 529.2,80.5"/>
<polyline points="117.9,365.5 139.1,350.5 160.3,335.5 168.8,320.5 194.2,305.5 215.4,290.5 240.9,275.5 287.5,260.5 321.4,245.5 355.3,230.5 385.0,215.5 402.0,200.5 423.2,185.5 444.4,170.5 461.3,155.5 474.1,140.5 491.0,125.5 508.0,110.5 520.7,95.5 524.9,80.5"/>
<polyline points="122.1,365.5 139.1,350.5 156.1,335.5 185.7,320.5 228.1,305.5 240.9,290.5 253.6,275.5 270.5,260.5 308.7,245.5 334.1,230.5 363.8,215.5 393.5,200.5 423.2,185.5 431.7,170.5 444.4,155.5 465.6,140.5 478.3,125.5 495.3,110.5 508.0,95.5 520.7,80.5"/>
<polyline points="117.9,365.5 143.3,350.5 151.8,335.5 160.3,320.5 181.5,305.5 206.9,290.5 228.1,275.5 279.0,260.5 317.2,245.5 329.9,230.5 346.9,215.5 372.3,200.5 406.2,185.5 427.4,170.5 448.6,155.5 461.3,140.5 478.3,125.5 495.3,110.5 508.0,95.5 524.9,80.5"/>
<polyline points="117.9,365.5 139.1,350.5 143.3,335.5 168.8,320.5 194.2,305.5 219.7,290.5 262.1,275.5 287.5,260.5 312.9,245.5 351.1,230.5 359.6,215.5 376.5,200.5 410.5,185.5 431.7,170.5 461.3,155.5 482.5,140.5 491.0,125.5 508.0,110.5 516.5,95.5 533.4,80.5"/>
<polyline points="117.9,365.5 139.1,350.5 160.3,335.5 181.5,320.5 211.2,305.5 232.4,290.5 240.9,275.5 283.3,260.5 321.4,245.5 351.1,230.5 376.5,215.5 393.5,200.5 414.7,185.5 440.1,170.5 461.3,155.5 469.8,140.5 482.5,125.5 491.0,110.5 508.0,95.5 524.9,80.5"/>
<polyline points="117.9,365.5 139.1,350.5 147.6,335.5 156.1,320.5 206.9,305.5 228.1,290.5 257.8,275.5 283.3,260.5 317.2,245.5 355.3,230.5 368.1,215.5 385.0,200.5 406.2,185.5 435.9,170.5 457.1,155.5 474.1,140.5 491.0,125.5 499.5,110.5 512.2,95.5 529.2,80.5"/>
<polyline points="117.9,365.5 130.6,350.5 139.1,335.5 173.0,320.5 198.5,305.5 223.9,290.5 249.3,275.5 291.7,260.5 317.2,245.5 342.6,230.5 368.1,215.5 380.8,200.5 410.5,185.5 440.1,170.5 465.6,155.5 474.1,140.5 491.0,125.5 503.7,110.5 516.5,95.5 529.2,80.5"/>
<polyline points="117.9,365.5 134.9,350.5 151.8,335.5 168.8,320.5 202.7,305.5 202.7,290.5 232.4,275.5 266.3,260.5 312.9,245.5 351.1,230.5 359.6,215.5 376.5,200.5 406.2,185.5 427.4,170.5 444.4,155.5 461.3,140.5 482.5,125.5 495.3,110.5 508.0,95.5 524.9,80.5"/>
<polyline points="117.9,365.5 130.6,350.5 151.8,335.5 164.5,320.5 202.7,305.5 219.7,290.5 253.6,275.5 283.3,260.5 325.7,245.5 372.3,230.5 385.0,215.5 402.0,200.5 418.9,185.5 440.1,170.5 457.1,155.5 474.1,140.5 491.0,125.5 503.7,110.5 516.5,95.5 524.9,80.5"/>
<polyline points="122.1,365.5 147.6,350.5 168.8,335.5 194.2,320.5 228.1,305.5 228.1,290.5 245.1,275.5 283.3,260.5 308.7,245.5 351.1,230.5 385.0,215.5 402.0,200.5 418.9,185.5 435.9,170.5 452.9,155.5 465.6,140.5 478.3,125.5 495.3,110.5 508.0,95.5 520.7,80.5"/>
<polyline points="117.9,365.5 139.1,350.5 160.3,335.5 177.3,320.5 190.0,305.5 194.2,290.5 219.7,275.5 253.6,260.5 291.7,245.5 342.6,230.5 359.6,215.5 376.5,200.5 397.7,185.5 427.4,170.5 448.6,155.5 465.6,140.5 482.5,125.5 495.3,110.5 512.2,95.5 524.9,80.5"/>
<polyline points="122.1,365.5 147.6,350.5 156.1,335.5 177.3,320.5 223.9,305.5 240.9,290.5 245.1,275.5 283.3,260.5 312.9,245.5 346.9,230.5 363.8,215.5 389.3,200.5 414.7,185.5 427.4,170.5 444.4,155.5 465.6,140.5 482.5,125.5 499.5,110.5 508.0,95.5 524.9,80.5"/>
<polyline points="122.1,365.5 139.1,350.5 147.6,335.5 168.8,320.5 202.7,305.5 202.7,290.5 228.1,275.5 291.7,260.5 317.2,245.5 355.3,230.5 376.5,215.5 393.5,200.5 410.5,185.5 427.4,170.5 452.9,155.5 469.8,140.5 482.5,125.5 499.5,110.5 512.2,95.5 520.7,80.5"/>
<polyline points="122.1,365.5 143.3,350.5 160.3,335.5 185.7,320.5 206.9,305.5 232.4,290.5 257.8,275.5 304.5,260.5 334.1,245.5 359.6,230.5 372.3,215.5 393.5,200.5 414.7,185.5 431.7,170.5 457.1,155.5 469.8,140.5 478.3,125.5 495.3,110.5 508.0,95.5 520.7,80.5"/>
<polyline points="122.1,365.5 147.6,350.5 156.1,335.5 177.3,320.5 206.9,305.5 206.9,290.5 240.9,275.5 270.5,260.5 308.7,245.5 346.9,230.5 376.5,215.5 393.5,200.5 423.2,185.5 440.1,170.5 448.6,155.5 465.6,140.5 482.5,125.5 495.3,110.5 512.2,95.5 520.7,80.5"/>
<polyline points="117.9,365.5 134.9,350.5 156.1,335.5 168.8,320.5 198.5,305.5 236.6,290.5 262.1,275.5 287.5,260.5 329.9,245.5 355.3,230.5 363.8,215.5 380.8,200.5 402.0,185.5 427.4,170.5 452.9,155.5 469.8,140.5 482.5,125.5 495.3,110.5 508.0,95.5 516.5,80.5"/>
<polyline points="122.1,365.5 143.3,350.5 160.3,335.5 181.5,320.5 219.7,305.5 240.9,290.5 249.3,275.5 287.5,260.5 308.7,245.5 338.4,230.5 355.3,215.5 372.3,200.5 402.0,185.5 427.4,170.5 448.6,155.5 461.3,140.5 478.3,125.5 491.0,110.5 512.2,95.5 520.7,80.5"/>
<polyline points="122.1,365.5 139.1,350.5 156.1,335.5 173.0,320.5 190.0,305.5 206.9,290.5 245.1,275.5 287.5,260.5 325.7,245.5 351.1,230.5 368.1,215.5 389.3,200.5 414.7,185.5 431.7,170.5 444.4,155.5 469.8,140.5 482.5,125.5 499.5,110.5 512.2,95.5 524.9,80.5"/>
<polyline points="122.1,365.5 143.3,350.5 151.8,335.5 168.8,320.5 185.7,305.5 202.7,290.5 245.1,275.5 279.0,260.5 308.7,245.5 346.9,230.5 368.1,215.5 393.5,200.5 414.7,185.5 431.7,170.5 448.6,155.5 465.6,140.5 486.8,125.5 495.3,110.5 508.0,95.5 524.9,80.5"/>
<polyline points="122.1,365.5 143.3,350.5 147.6,335.5 168.8,320.5 185.7,305.5 211.2,290.5 245.1,275.5 274.8,260.5 308.7,245.5 338.4,230.5 372.3,215.5 393.5,200.5 418.9,185.5 435.9,170.5 452.9,155.5 465.6,140.5 482.5,125.5 499.5,110.5 512.2,95.5 524.9,80.5"/>
<polyline points="117.9,365.5 134.9,350.5 151.8,335.5 160.3,320.5 194.2,305.5 228.1,290.5 253.6,275.5 270.5,260.5 308.7,245.5 342.6,230.5 376.5,215.5 393.5,200.5 414.7,185.5 440.1,170.5 461.3,155.5 469.8,140.5 495.3,125.5 503.7,110.5 516.5,95.5 529.2,80.5"/>
<polyline points="117.9,365.5 139.1,350.5 151.8,335.5 160.3,320.5 190.0,305.5 202.7,290.5 228.1,275.5 283.3,260.5 308.7,245.5 355.3,230.5 385.0,215.5 393.5,200.5 418.9,185.5 444.4,170.5 457.1,155.5 474.1,140.5 491.0,125.5 503.7,110.5 516.5,95.5 524.9,80.5"/>
<polyline points="122.1,365.5 143.3,350.5 156.1,335.5 168.8,320.5 202.7,305.5 215.4,290.5 240.9,275.5 274.8,260.5 312.9,245.5 342.6,230.5 376.5,215.5 389.3,200.5 427.4,185.5 440.1,170.5 465.6,155.5 474.1,140.5 482.5,125.5 495.3,110.5 512.2,95.5 524.9,80.5"/>
<polyline points="122.1,365.5 134.9,350.5 151.8,335.5 177.3,320.5 202.7,305.5 219.7,290.5 236.6,275.5 279.0,260.5 300.2,245.5 338.4,230.5 376.5,215.5 402.0,200.5 418.9,185.5 440.1,170.5 461.3,155.5 474.1,140.5 491.0,125.5 499.5,110.5 516.5,95.5 524.9,80.5"/>
<polyline points="122.1,365.5 147.6,350.5 160.3,335.5 194.2,320.5 228.1,305.5 236.6,290.5 262.1,275.5 283.3,260.5 325.7,245.5 351.1,230.5 368.1,215.5 393.5,200.5 423.2,185.5 444.4,170.5 457.1,155.5 474.1,140.5 486.8,125.5 503.7,110.5 512.2,95.5 524.9,80.5"/>
<polyline points="122.1,365.5 147.6,350.5 164.5,335.5 181.5,320.5 215.4,305.5 228.1,290.5 253.6,275.5 279.0,260.5 325.7,245.5 334.1,230.5 376.5,215.5 389.3,200.5 410.5,185.5 431.7,170.5 444.4,155.5 465.6,140.5 482.5,125.5 491.0,110.5 503.7,95.5 520.7,80.5"/>
<polyline points="117.9,365.5 139.1,350.5 151.8,335.5 164.5,320.5 211.2,305.5 228.1,290.5 253.6,275.5 283.3,260.5 317.2,245.5 351.1,230.5 380.8,215.5 393.5,200.5 418.9,185.5 440.1,170.5 457.1,155.5 474.1,140.5 491.0,125.5 503.7,110.5 512.2,95.5 524.9,80.5"/>
<polyline points="122.1,365.5 147.6,350.5 156.1,335.5 168.8,320.5 194.2,305.5 202.7,290.5 236.6,275.5 279.0,260.5 312.9,245.5 346.9,230.5 376.5,215.5 389.3,200.5 406.2,185.5 431.7,170.5 452.9,155.5 469.8,140.5 482.5,125.5 495.3,110.5 508.0,95.5 524.9,80.5"/>
<polyline points="122.1,365.5 143.3,350.5 160.3,335.5 190.0,320.5 215.4,305.5 223.9,290.5 253.6,275.5 287.5,260.5 329.9,245.5 363.8,230.5 380.8,215.5 393.5,200.5 414.7,185.5 431.7,170.5 448.6,155.5 469.8,140.5 491.0,125.5 503.7,110.5 516.5,95.5 529.2,80.5"/>
<polyline points="122.1,365.5 143.3,350.5 164.5,335.5 185.7,320.5 198.5,305.5 219.7,290.5 236.6,275.5 291.7,260.5 308.7,245.5 342.6,230.5 363.8,215.5 380.8,200.5 414.7,185.5 435.9,170.5 457.1,155.5 474.1,140.5 491.0,125.5 508.0,110.5 516.5,95.5 529.2,80.5"/>
<polyline points="117.9,365.5 139.1,350.5 160.3,335.5 177.3,320.5 206.9,305.5 219.7,290.5 240.9,275.5 283.3,260.5 312.9,245.5 329.9,230.5 351.1,215.5 380.8,200.5 414.7,185.5 435.9,170.5 448.6,155.5 469.8,140.5 486.8,125.5 503.7,110.5 516.5,95.5 529.2,80.5"/>
<polyline points="117.9,365.5 139.1,350.5 147.6,335.5 177.3,320.5 215.4,305.5 240.9,290.5 253.6,275.5 287.5,260.5 304.5,245.5 334.1,230.5 363.8,215.5 385.0,200.5 414.7,185.5 427.4,170.5 448.6,155.5 469.8,140.5 491.0,125.5 503.7,110.5 512.2,95.5 524.9,80.5"/>
<polyline points="122.1,365.5 147.6,350.5 156.1,335.5 168.8,320.5 198.5,305.5 206.9,290.5 245.1,275.5 283.3,260.5 308.7,245.5 351.1,230.5 368.1,215.5 389.3,200.5 423.2,185.5 440.1,170.5 461.3,155.5 478.3,140.5 495.3,125.5 503.7,110.5 516.5,95.5 533.4,80.5"/>
<polyline points="122.1,365.5 147.6,350.5 160.3,335.5 177.3,320.5 190.0,305.5 206.9,290.5 236.6,275.5 266.3,260.5 312.9,245.5 359.6,230.5 376.5,215.5 376.5,200.5 410.5,185.5 435.9,170.5 452.9,155.5 474.1,140.5 486.8,125.5 499.5,110.5 512.2,95.5 520.7,80.5"/>
<polyline points="117.9,365.5 130.6,350.5 143.3,335.5 160.3,320.5 194.2,305.5 232.4,290.5 240.9,275.5 287.5,260.5 312.9,245.5 351.1,230.5 376.5,215.5 397.7,200.5 423.2,185.5 444.4,170.5 461.3,155.5 474.1,140.5 486.8,125.5 503.7,110.5 520.7,95.5 533.4,80.5"/>
<polyline points="117.9,365.5 143.3,350.5 160.3,335.5 173.0,320.5 206.9,305.5 232.4,290.5 257.8,275.5 287.5,260.5 308.7,245.5 359.6,230.5 380.8,215.5 397.7,200.5 427.4,185.5 448.6,170.5 465.6,155.5 482.5,140.5 491.0,125.5 499.5,110.5 512.2,95.5 524.9,80.5"/>
<polyline points="117.9,365.5 130.6,350.5 147.6,335.5 160.3,320.5 185.7,305.5 211.2,290.5 240.9,275.5 279.0,260.5 304.5,245.5 329.9,230.5 368.1,215.5 397.7,200.5 418.9,185.5 444.4,170.5 457.1,155.5 474.1,140.5 491.0,125.5 503.7,110.5 520.7,95.5 533.4,80.5"/>
<polyline points="122.1,365.5 147.6,350.5 164.5,335.5 177.3,320.5 202.7,305.5 206.9,290.5 236.6,275.5 279.0,260.5 308.7,245.5 363.8,230.5 376.5,215.5 393.5,200.5 410.5,185.5 440.1,170.5 461.3,155.5 478.3,140.5 491.0,125.5 508.0,110.5 520.7,95.5 529.2,80.5"/>
<polyline points="122.1,365.5 147.6,350.5 160.3,335.5 185.7,320.5 223.9,305.5 228.1,290.5 257.8,275.5 300.2,260.5 342.6,245.5 376.5,230.5 389.3,215.5 389.3,200.5 414.7,185.5 435.9,170.5 448.6,155.5 465.6,140.5 482.5,125.5 495.3,110.5 508.0,95.5 524.9,80.5"/>
<polyline points="122.1,365.5 143.3,350.5 164.5,335.5 185.7,320.5 198.5,305.5 219.7,290.5 236.6,275.5 262.1,260.5 308.7,245.5 346.9,230.5 368.1,215.5 389.3,200.5 414.7,185.5 435.9,170.5 452.9,155.5 465.6,140.5 478.3,125.5 491.0,110.5 503.7,95.5 512.2,80.5"/>
<polyline points="122.1,365.5 147.6,350.5 151.8,335.5 185.7,320.5 215.4,305.5 232.4,290.5 257.8,275.5 274.8,260.5 321.4,245.5 359.6,230.5 368.1,215.5 385.0,200.5 418.9,185.5 435.9,170.5 457.1,155.5 474.1,140.5 495.3,125.5 503.7,110.5 512.2,95.5 524.9,80.5"/>
<polyline points="122.1,365.5 143.3,350.5 156.1,335.5 181.5,320.5 211.2,305.5 228.1,290.5 257.8,275.5 291.7,260.5 321.4,245.5 338.4,230.5 368.1,215.5 393.5,200.5 423.2,185.5 440.1,170.5 461.3,155.5 474.1,140.5 491.0,125.5 503.7,110.5 516.5,95.5 529.2,80.5"/>
<polyline points="122.1,365.5 143.3,350.5 156.1,335.5 177.3,320.5 206.9,305.5 228.1,290.5 240.9,275.5 274.8,260.5 321.4,245.5 372.3,230.5 376.5,215.5 389.3,200.5 406.2,185.5 431.7,170.5 448.6,155.5 469.8,140.5 482.5,125.5 499.5,110.5 512.2,95.5 520.7,80.5"/>
<polyline points="117.9,365.5 143.3,350.5 156.1,335.5 177.3,320.5 185.7,305.5 211.2,290.5 223.9,275.5 266.3,260.5 296.0,245.5 338.4,230.5 359.6,215.5 397.7,200.5 431.7,185.5 448.6,170.5 461.3,155.5 478.3,140.5 491.0,125.5 503.7,110.5 516.5,95.5 529.2,80.5"/>
<polyline points="117.9,365.5 139.1,350.5 156.1,335.5 173.0,320.5 211.2,305.5 223.9,290.5 249.3,275.5 296.0,260.5 317.2,245.5 346.9,230.5 380.8,215.5 402.0,200.5 423.2,185.5 444.4,170.5 461.3,155.5 482.5,140.5 495.3,125.5 503.7,110.5 520.7,95.5 529.2,80.5"/>
<polyline points="122.1,365.5 143.3,350.5 160.3,335.5 173.0,320.5 198.5,305.5 206.9,290.5 240.9,275.5 274.8,260.5 304.5,245.5 338.4,230.5 372.3,215.5 402.0,200.5 418.9,185.5 440.1,170.5 457.1,155.5 469.8,140.5 491.0,125.5 499.5,110.5 516.5,95.5 524.9,80.5"/>
<polyline points="117.9,365.5 143.3,350.5 143.3,335.5 164.5,320.5 194.2,305.5 215.4,290.5 249.3,275.5 279.0,260.5 308.7,245.5 334.1,230.5 351.1,215.5 385.0,200.5 418.9,185.5 435.9,170.5 465.6,155.5 482.5,140.5 495.3,125.5 508.0,110.5 520.7,95.5 529.2,80.5"/>
<polyline points="122.1,365.5 147.6,350.5 164.5,335.5 185.7,320.5 202.7,305.5 219.7,290.5 240.9,275.5 262.1,260.5 300.2,245.5 342.6,230.5 372.3,215.5 389.3,200.5 406.2,185.5 423.2,170.5 444.4,155.5 469.8,140.5 482.5,125.5 495.3,110.5 508.0,95.5 524.9,80.5"/>
<polyline points="122.1,365.5 147.6,350.5 160.3,335.5 181.5,320.5 206.9,305.5 223.9,290.5 257.8,275.5 287.5,260.5 338.4,245.5 368.1,230.5 380.8,215.5 397.7,200.5 418.9,185.5 444.4,170.5 461.3,155.5 478.3,140.5 486.8,125.5 508.0,110.5 516.5,95.5 524.9,80.5"/>
<polyline points="122.1,365.5 147.6,350.5 160.3,335.5 181.5,320.5 219.7,305.5 228.1,290.5 249.3,275.5 283.3,260.5 312.9,245.5 346.9,230.5 380.8,215.5 402.0,200.5 423.2,185.5 440.1,170.5 461.3,155.5 478.3,140.5 491.0,125.5 499.5,110.5 512.2,95.5 524.9,80.5"/>
<polyline points="122.1,365.5 147.6,350.5 160.3,335.5 181.5,320.5 215.4,305.5 232.4,290.5 249.3,275.5 287.5,260.5 300.2,245.5 346.9,230.5 372.3,215.5 389.3,200.5 410.5,185.5 435.9,170.5 452.9,155.5 469.8,140.5 482.5,125.5 495.3,110.5 508.0,95.5 524.9,80.5"/>
<polyline points="122.1,365.5 143.3,350.5 160.3,335.5 177.3,320.5 202.7,305.5 240.9,290.5 270.5,275.5 304.5,260.5 329.9,245.5 359.6,230.5 385.0,215.5 406.2,200.5 418.9,185.5 444.4,170.5 461.3,155.5 478.3,140.5 491.0,125.5 512.2,110.5 520.7,95.5 529.2,80.5"/>
<polyline points="117.9,365.5 134.9,350.5 160.3,335.5 190.0,320.5 194.2,305.5 228.1,290.5 245.1,275.5 287.5,260.5 329.9,245.5 355.3,230.5 372.3,215.5 389.3,200.5 418.9,185.5 444.4,170.5 457.1,155.5 478.3,140.5 486.8,125.5 499.5,110.5 512.2,95.5 529.2,80.5"/>
<polyline points="122.1,365.5 147.6,350.5 164.5,335.5 181.5,320.5 223.9,305.5 236.6,290.5 262.1,275.5 291.7,260.5 317.2,245.5 346.9,230.5 372.3,215.5 389.3,200.5 414.7,185.5 444.4,170.5 461.3,155.5 474.1,140.5 486.8,125.5 499.5,110.5 512.2,95.5 529.2,80.5"/>
<polyline points="122.1,365.5 147.6,350.5 160.3,335.5 181.5,320.5 215.4,305.5 236.6,290.5 262.1,275.5 279.0,260.5 308.7,245.5 351.1,230.5 376.5,215.5 393.5,200.5 418.9,185.5 435.9,170.5 457.1,155.5 478.3,140.5 486.8,125.5 499.5,110.5 512.2,95.5 520.7,80.5"/>
<polyline points="117.9,365.5 143.3,350.5 151.8,335.5 177.3,320.5 215.4,305.5 232.4,290.5 249.3,275.5 296.0,260.5 334.1,245.5 355.3,230.5 376.5,215.5 397.7,200.5 418.9,185.5 452.9,170.5 465.6,155.5 482.5,140.5 495.3,125.5 512.2,110.5 520.7,95.5 533.4,80.5"/>
<polyline points="122.1,365.5 139.1,350.5 160.3,335.5 185.7,320.5 211.2,305.5 245.1,290.5 262.1,275.5 296.0,260.5 304.5,245.5 342.6,230.5 372.3,215.5 397.7,200.5 423.2,185.5 444.4,170.5 457.1,155.5 469.8,140.5 495.3,125.5 508.0,110.5 512.2,95.5 524.9,80.5"/>
<polyline points="122.1,365.5 147.6,350.5 156.1,335.5 173.0,320.5 215.4,305.5 232.4,290.5 266.3,275.5 296.0,260.5 334.1,245.5 355.3,230.5 393.5,215.5 393.5,200.5 427.4,185.5 440.1,170.5 461.3,155.5 474.1,140.5 491.0,125.5 508.0,110.5 512.2,95.5 524.9,80.5"/>
<polyline points="122.1,365.5 143.3,350.5 156.1,335.5 177.3,320.5 185.7,305.5 206.9,290.5 240.9,275.5 266.3,260.5 312.9,245.5 359.6,230.5 376.5,215.5 385.0,200.5 414.7,185.5 435.9,170.5 457.1,155.5 478.3,140.5 491.0,125.5 508.0,110.5 520.7,95.5 533.4,80.5"/>
<polyline points="117.9,365.5 143.3,350.5 160.3,335.5 190.0,320.5 215.4,305.5 228.1,290.5 274.8,275.5 304.5,260.5 321.4,245.5 346.9,230.5 372.3,215.5 389.3,200.5 418.9,185.5 435.9,170.5 448.6,155.5 465.6,140.5 482.5,125.5 495.3,110.5 512.2,95.5 524.9,80.5"/>
<polyline points="122.1,365.5 147.6,350.5 160.3,335.5 181.5,320.5 206.9,305.5 219.7,290.5 245.1,275.5 274.8,260.5 291.7,245.5 334.1,230.5 359.6,215.5 389.3,200.5 423.2,185.5 452.9,170.5 465.6,155.5 486.8,140.5 495.3,125.5 503.7,110.5 520.7,95.5 533.4,80.5"/>
<polyline points="117.9,365.5 139.1,350.5 151.8,335.5 177.3,320.5 223.9,305.5 245.1,290.5 270.5,275.5 296.0,260.5 325.7,245.5 359.6,230.5 376.5,215.5 397.7,200.5 414.7,185.5 440.1,170.5 452.9,155.5 478.3,140.5 495.3,125.5 508.0,110.5 516.5,95.5 529.2,80.5"/>
<polyline points="122.1,365.5 151.8,350.5 156.1,335.5 185.7,320.5 194.2,305.5 223.9,290.5 253.6,275.5 257.8,260.5 304.5,245.5 363.8,230.5 376.5,215.5 393.5,200.5 418.9,185.5 440.1,170.5 457.1,155.5 474.1,140.5 491.0,125.5 508.0,110.5 520.7,95.5 529.2,80.5"/>
<polyline points="117.9,365.5 139.1,350.5 160.3,335.5 173.0,320.5 202.7,305.5 232.4,290.5 249.3,275.5 296.0,260.5 338.4,245.5 380.8,230.5 410.5,215.5 418.9,200.5 431.7,185.5 444.4,170.5 461.3,155.5 474.1,140.5 495.3,125.5 508.0,110.5 516.5,95.5 524.9,80.5"/>
<polyline points="122.1,365.5 147.6,350.5 164.5,335.5 185.7,320.5 215.4,305.5 228.1,290.5 257.8,275.5 287.5,260.5 317.2,245.5 351.1,230.5 385.0,215.5 402.0,200.5 427.4,185.5 448.6,170.5 457.1,155.5 469.8,140.5 491.0,125.5 499.5,110.5 516.5,95.5 524.9,80.5"/>
<polyline points="122.1,365.5 147.6,350.5 160.3,335.5 185.7,320.5 219.7,305.5 232.4,290.5 266.3,275.5 300.2,260.5 329.9,245.5 359.6,230.5 389.3,215.5 402.0,200.5 418.9,185.5 435.9,170.5 457.1,155.5 478.3,140.5 491.0,125.5 503.7,110.5 516.5,95.5 529.2,80.5"/>
<polyline points="122.1,365.5 147.6,350.5 160.3,335.5 181.5,320.5 219.7,305.5 236.6,290.5 262.1,275.5 296.0,260.5 321.4,245.5 376.5,230.5 385.0,215.5 397.7,200.5 427.4,185.5 444.4,170.5 465.6,155.5 478.3,140.5 482.5,125.5 499.5,110.5 508.0,95.5 529.2,80.5"/>
<polyline points="122.1,365.5 151.8,350.5 168.8,335.5 198.5,320.5 223.9,305.5 249.3,290.5 279.0,275.5 308.7,260.5 338.4,245.5 368.1,230.5 380.8,215.5 397.7,200.5 414.7,185.5 435.9,170.5 448.6,155.5 465.6,140.5 478.3,125.5 491.0,110.5 512.2,95.5 520.7,80.5"/>
<polyline points="122.1,365.5 139.1,350.5 147.6,335.5 173.0,320.5 202.7,305.5 228.1,290.5 266.3,275.5 296.0,260.5 346.9,245.5 359.6,230.5 380.8,215.5 397.7,200.5 423.2,185.5 444.4,170.5 465.6,155.5 482.5,140.5 495.3,125.5 508.0,110.5 520.7,95.5 529.2,80.5"/>
<polyline points="122.1,365.5 143.3,350.5 156.1,335.5 177.3,320.5 194.2,305.5 219.7,290.5 270.5,275.5 283.3,260.5 334.1,245.5 359.6,230.5 389.3,215.5 397.7,200.5 427.4,185.5 444.4,170.5 465.6,155.5 478.3,140.5 495.3,125.5 508.0,110.5 516.5,95.5 524.9,80.5"/>
<polyline points="122.1,365.5 147.6,350.5 168.8,335.5 202.7,320.5 219.7,305.5 223.9,290.5 257.8,275.5 296.0,260.5 317.2,245.5 359.6,230.5 393.5,215.5 410.5,200.5 431.7,185.5 452.9,170.5 461.3,155.5 474.1,140.5 486.8,125.5 495.3,110.5 516.5,95.5 529.2,80.5"/>
<polyline points="122.1,365.5 151.8,350.5 160.3,335.5 185.7,320.5 219.7,305.5 228.1,290.5 240.9,275.5 287.5,260.5 338.4,245.5 359.6,230.5 372.3,215.5 385.0,200.5 414.7,185.5 440.1,170.5 465.6,155.5 482.5,140.5 491.0,125.5 503.7,110.5 516.5,95.5 529.2,80.5"/>
<polyline points="122.1,365.5 151.8,350.5 164.5,335.5 185.7,320.5 219.7,305.5 249.3,290.5 262.1,275.5 296.0,260.5 308.7,245.5 355.3,230.5 385.0,215.5 397.7,200.5 410.5,185.5 435.9,170.5 457.1,155.5 469.8,140.5 478.3,125.5 495.3,110.5 508.0,95.5 516.5,80.5"/>
<polyline points="122.1,365.5 151.8,350.5 168.8,335.5 181.5,320.5 206.9,305.5 236.6,290.5 274.8,275.5 308.7,260.5 334.1,245.5 355.3,230.5 385.0,215.5 397.7,200.5 423.2,185.5 431.7,170.5 452.9,155.5 465.6,140.5 486.8,125.5 503.7,110.5 516.5,95.5 529.2,80.5"/>
<polyline points="122.1,365.5 143.3,350.5 151.8,335.5 168.8,320.5 198.5,305.5 215.4,290.5 249.3,275.5 287.5,260.5 321.4,245.5 359.6,230.5 380.8,215.5 402.0,200.5 423.2,185.5 444.4,170.5 461.3,155.5 478.3,140.5 491.0,125.5 508.0,110.5 516.5,95.5 533.4,80.5"/>
<polyline points="126.4,365.5 156.1,350.5 173.0,335.5 190.0,320.5 211.2,305.5 223.9,290.5 257.8,275.5 296.0,260.5 329.9,245.5 355.3,230.5 389.3,215.5 423.2,200.5 427.4,185.5 444.4,170.5 461.3,155.5 474.1,140.5 486.8,125.5 499.5,110.5 512.2,95.5 524.9,80.5"/>
<polyline points="122.1,365.5 147.6,350.5 168.8,335.5 206.9,320.5 236.6,305.5 245.1,290.5 283.3,275.5 312.9,260.5 334.1,245.5 363.8,230.5 389.3,215.5 402.0,200.5 418.9,185.5 440.1,170.5 457.1,155.5 478.3,140.5 491.0,125.5 495.3,110.5 512.2,95.5 520.7,80.5"/>
<polyline points="122.1,365.5 147.6,350.5 173.0,335.5 202.7,320.5 228.1,305.5 240.9,290.5 262.1,275.5 287.5,260.5 321.4,245.5 380.8,230.5 397.7,215.5 414.7,200.5 427.4,185.5 440.1,170.5 461.3,155.5 474.1,140.5 486.8,125.5 503.7,110.5 512.2,95.5 524.9,80.5"/>
<polyline points="122.1,365.5 139.1,350.5 160.3,335.5 177.3,320.5 198.5,305.5 215.4,290.5 249.3,275.5 287.5,260.5 325.7,245.5 359.6,230.5 385.0,215.5 397.7,200.5 427.4,185.5 444.4,170.5 461.3,155.5 478.3,140.5 495.3,125.5 503.7,110.5 520.7,95.5 529.2,80.5"/>
<polyline points="117.9,365.5 147.6,350.5 160.3,335.5 181.5,320.5 211.2,305.5 228.1,290.5 245.1,275.5 279.0,260.5 321.4,245.5 351.1,230.5 380.8,215.5 389.3,200.5 418.9,185.5 444.4,170.5 461.3,155.5 478.3,140.5 495.3,125.5 503.7,110.5 520.7,95.5 533.4,80.5"/>
<polyline points="122.1,365.5 143.3,350.5 156.1,335.5 190.0,320.5 206.9,305.5 206.9,290.5 228.1,275.5 270.5,260.5 321.4,245.5 363.8,230.5 389.3,215.5 397.7,200.5 427.4,185.5 444.4,170.5 461.3,155.5 482.5,140.5 491.0,125.5 503.7,110.5 516.5,95.5 529.2,80.5"/>
<polyline points="122.1,365.5 147.6,350.5 160.3,335.5 185.7,320.5 206.9,305.5 236.6,290.5 253.6,275.5 283.3,260.5 329.9,245.5 372.3,230.5 393.5,215.5 410.5,200.5 431.7,185.5 448.6,170.5 465.6,155.5 478.3,140.5 491.0,125.5 503.7,110.5 516.5,95.5 529.2,80.5"/>
<polyline points="122.1,365.5 139.1,350.5 151.8,335.5 185.7,320.5 215.4,305.5 228.1,290.5 270.5,275.5 291.7,260.5 312.9,245.5 359.6,230.5 376.5,215.5 397.7,200.5 414.7,185.5 440.1,170.5 457.1,155.5 469.8,140.5 482.5,125.5 495.3,110.5 512.2,95.5 524.9,80.5"/>
<polyline points="126.4,365.5 151.8,350.5 168.8,335.5 202.7,320.5 219.7,305.5 232.4,290.5 274.8,275.5 304.5,260.5 312.9,245.5 342.6,230.5 380.8,215.5 397.7,200.5 418.9,185.5 440.1,170.5 457.1,155.5 478.3,140.5 491.0,125.5 495.3,110.5 503.7,95.5 520.7,80.5"/>
<polyline points="122.1,365.5 143.3,350.5 151.8,335.5 185.7,320.5 211.2,305.5 232.4,290.5 253.6,275.5 291.7,260.5 321.4,245.5 368.1,230.5 397.7,215.5 406.2,200.5 427.4,185.5 448.6,170.5 461.3,155.5 478.3,140.5 499.5,125.5 512.2,110.5 520.7,95.5 529.2,80.5"/>
<polyline points="122.1,365.5 147.6,350.5 168.8,335.5 181.5,320.5 198.5,305.5 223.9,290.5 236.6,275.5 270.5,260.5 317.2,245.5 351.1,230.5 385.0,215.5 397.7,200.5 423.2,185.5 448.6,170.5 461.3,155.5 478.3,140.5 491.0,125.5 508.0,110.5 520.7,95.5 537.7,80.5"/>
<polyline points="122.1,365.5 143.3,350.5 156.1,335.5 181.5,320.5 223.9,305.5 249.3,290.5 257.8,275.5 300.2,260.5 317.2,245.5 338.4,230.5 359.6,215.5 389.3,200.5 418.9,185.5 440.1,170.5 465.6,155.5 482.5,140.5 495.3,125.5 508.0,110.5 516.5,95.5 529.2,80.5"/>
<polyline points="122.1,365.5 147.6,350.5 160.3,335.5 181.5,320.5 198.5,305.5 228.1,290.5 240.9,275.5 279.0,260.5 312.9,245.5 342.6,230.5 380.8,215.5 397.7,200.5 423.2,185.5 440.1,170.5 465.6,155.5 486.8,140.5 499.5,125.5 508.0,110.5 520.7,95.5 529.2,80.5"/>
<polyline points="122.1,365.5 147.6,350.5 156.1,335.5 185.7,320.5 202.7,305.5 240.9,290.5 249.3,275.5 274.8,260.5 308.7,245.5 355.3,230.5 389.3,215.5 402.0,200.5 431.7,185.5 448.6,170.5 461.3,155.5 478.3,140.5 491.0,125.5 503.7,110.5 516.5,95.5 529.2,80.5"/>
<polyline points="122.1,365.5 143.3,350.5 168.8,335.5 202.7,320.5 232.4,305.5 253.6,290.5 279.0,275.5 291.7,260.5 325.7,245.5 368.1,230.5 393.5,215.5 418.9,200.5 427.4,185.5 448.6,170.5 469.8,155.5 486.8,140.5 499.5,125.5 503.7,110.5 516.5,95.5 529.2,80.5"/>
<polyline points="122.1,365.5 151.8,350.5 160.3,335.5 185.7,320.5 223.9,305.5 232.4,290.5 257.8,275.5 283.3,260.5 325.7,245.5 342.6,230.5 368.1,215.5 397.7,200.5 427.4,185.5 435.9,170.5 457.1,155.5 478.3,140.5 491.0,125.5 508.0,110.5 520.7,95.5 533.4,80.5"/>
<polyline points="122.1,365.5 147.6,350.5 160.3,335.5 181.5,320.5 228.1,305.5 228.1,290.5 253.6,275.5 291.7,260.5 317.2,245.5 346.9,230.5 368.1,215.5 393.5,200.5 418.9,185.5 440.1,170.5 461.3,155.5 482.5,140.5 491.0,125.5 503.7,110.5 520.7,95.5 533.4,80.5"/>
<polyline points="122.1,365.5 143.3,350.5 160.3,335.5 177.3,320.5 206.9,305.5 215.4,290.5 240.9,275.5 274.8,260.5 308.7,245.5 355.3,230.5 368.1,215.5 397.7,200.5 414.7,185.5 435.9,170.5 457.1,155.5 469.8,140.5 486.8,125.5 499.5,110.5 520.7,95.5 533.4,80.5"/>
<polyline points="122.1,365.5 143.3,350.5 160.3,335.5 185.7,320.5 223.9,305.5 245.1,290.5 257.8,275.5 304.5,260.5 329.9,245.5 372.3,230.5 393.5,215.5 406.2,200.5 427.4,185.5 448.6,170.5 469.8,155.5 478.3,140.5 491.0,125.5 503.7,110.5 516.5,95.5 529.2,80.5"/>
<polyline points="122.1,365.5 151.8,350.5 168.8,335.5 194.2,320.5 223.9,305.5 228.1,290.5 266.3,275.5 300.2,260.5 329.9,245.5 380.8,230.5 406.2,215.5 414.7,200.5 435.9,185.5 457.1,170.5 469.8,155.5 482.5,140.5 491.0,125.5 503.7,110.5 520.7,95.5 529.2,80.5"/>
<polyline points="122.1,365.5 147.6,350.5 160.3,335.5 181.5,320.5 215.4,305.5 249.3,290.5 266.3,275.5 283.3,260.5 325.7,245.5 368.1,230.5 389.3,215.5 406.2,200.5 423.2,185.5 444.4,170.5 465.6,155.5 482.5,140.5 495.3,125.5 508.0,110.5 520.7,95.5 533.4,80.5"/>
<polyline points="122.1,365.5 156.1,350.5 173.0,335.5 194.2,320.5 215.4,305.5 245.1,290.5 262.1,275.5 296.0,260.5 329.9,245.5 376.5,230.5 402.0,215.5 410.5,200.5 431.7,185.5 452.9,170.5 461.3,155.5 474.1,140.5 486.8,125.5 495.3,110.5 508.0,95.5 520.7,80.5"/>
<polyline points="122.1,365.5 151.8,350.5 160.3,335.5 181.5,320.5 223.9,305.5 236.6,290.5 270.5,275.5 296.0,260.5 321.4,245.5 351.1,230.5 380.8,215.5 406.2,200.5 423.2,185.5 444.4,170.5 461.3,155.5 478.3,140.5 495.3,125.5 508.0,110.5 520.7,95.5 529.2,80.5"/>
<polyline points="122.1,365.5 147.6,350.5 164.5,335.5 190.0,320.5 202.7,305.5 236.6,290.5 262.1,275.5 321.4,260.5 338.4,245.5 359.6,230.5 380.8,215.5 397.7,200.5 423.2,185.5 448.6,170.5 465.6,155.5 478.3,140.5 491.0,125.5 508.0,110.5 516.5,95.5 529.2,80.5"/>
<polyline points="122.1,365.5 143.3,350.5 160.3,335.5 185.7,320.5 202.7,305.5 228.1,290.5 270.5,275.5 300.2,260.5 325.7,245.5 372.3,230.5 380.8,215.5 385.0,200.5 410.5,185.5 435.9,170.5 461.3,155.5 478.3,140.5 491.0,125.5 508.0,110.5 524.9,95.5 533.4,80.5"/>
<polyline points="122.1,365.5 143.3,350.5 164.5,335.5 190.0,320.5 211.2,305.5 228.1,290.5 257.8,275.5 274.8,260.5 329.9,245.5 372.3,230.5 393.5,215.5 414.7,200.5 431.7,185.5 448.6,170.5 465.6,155.5 482.5,140.5 499.5,125.5 512.2,110.5 520.7,95.5 533.4,80.5"/>
<polyline points="122.1,365.5 147.6,350.5 160.3,335.5 181.5,320.5 223.9,305.5 236.6,290.5 257.8,275.5 300.2,260.5 325.7,245.5 363.8,230.5 393.5,215.5 397.7,200.5 418.9,185.5 444.4,170.5 457.1,155.5 474.1,140.5 486.8,125.5 499.5,110.5 516.5,95.5 529.2,80.5"/>
<polyline points="122.1,365.5 147.6,350.5 156.1,335.5 177.3,320.5 232.4,305.5 249.3,290.5 257.8,275.5 291.7,260.5 325.7,245.5 363.8,230.5 376.5,215.5 402.0,200.5 427.4,185.5 444.4,170.5 461.3,155.5 478.3,140.5 495.3,125.5 508.0,110.5 520.7,95.5 537.7,80.5"/>
<polyline points="122.1,365.5 147.6,350.5 156.1,335.5 185.7,320.5 219.7,305.5 236.6,290.5 253.6,275.5 279.0,260.5 312.9,245.5 363.8,230.5 389.3,215.5 406.2,200.5 427.4,185.5 452.9,170.5 461.3,155.5 482.5,140.5 495.3,125.5 512.2,110.5 524.9,95.5 533.4,80.5"/>
<polyline points="122.1,365.5 143.3,350.5 151.8,335.5 181.5,320.5 202.7,305.5 219.7,290.5 257.8,275.5 296.0,260.5 325.7,245.5 372.3,230.5 397.7,215.5 414.7,200.5 431.7,185.5 448.6,170.5 465.6,155.5 482.5,140.5 495.3,125.5 508.0,110.5 520.7,95.5 529.2,80.5"/>
<polyline points="122.1,365.5 143.3,350.5 164.5,335.5 185.7,320.5 215.4,305.5 236.6,290.5 262.1,275.5 304.5,260.5 329.9,245.5 363.8,230.5 393.5,215.5 402.0,200.5 431.7,185.5 452.9,170.5 474.1,155.5 486.8,140.5 499.5,125.5 512.2,110.5 520.7,95.5 533.4,80.5"/>
<polyline points="122.1,365.5 143.3,350.5 160.3,335.5 181.5,320.5 211.2,305.5 228.1,290.5 257.8,275.5 296.0,260.5 325.7,245.5 346.9,230.5 376.5,215.5 393.5,200.5 418.9,185.5 440.1,170.5 461.3,155.5 482.5,140.5 495.3,125.5 508.0,110.5 516.5,95.5 529.2,80.5"/>
<polyline points="122.1,365.5 151.8,350.5 160.3,335.5 177.3,320.5 232.4,305.5 240.9,290.5 253.6,275.5 283.3,260.5 312.9,245.5 346.9,230.5 380.8,215.5 393.5,200.5 418.9,185.5 448.6,170.5 461.3,155.5 474.1,140.5 491.0,125.5 503.7,110.5 516.5,95.5 524.9,80.5"/>
<polyline points="122.1,365.5 156.1,350.5 168.8,335.5 202.7,320.5 240.9,305.5 245.1,290.5 287.5,275.5 308.7,260.5 329.9,245.5 368.1,230.5 402.0,215.5 410.5,200.5 427.4,185.5 448.6,170.5 465.6,155.5 478.3,140.5 491.0,125.5 503.7,110.5 516.5,95.5 529.2,80.5"/>
<polyline points="122.1,365.5 147.6,350.5 160.3,335.5 177.3,320.5 198.5,305.5 223.9,290.5 249.3,275.5 283.3,260.5 317.2,245.5 355.3,230.5 397.7,215.5 406.2,200.5 427.4,185.5 448.6,170.5 461.3,155.5 478.3,140.5 491.0,125.5 503.7,110.5 516.5,95.5 529.2,80.5"/>
<polyline points="122.1,365.5 156.1,350.5 164.5,335.5 194.2,320.5 228.1,305.5 236.6,290.5 262.1,275.5 308.7,260.5 342.6,245.5 376.5,230.5 393.5,215.5 414.7,200.5 444.4,185.5 457.1,170.5 469.8,155.5 486.8,140.5 499.5,125.5 508.0,110.5 520.7,95.5 533.4,80.5"/>
<polyline points="122.1,365.5 147.6,350.5 160.3,335.5 181.5,320.5 215.4,305.5 240.9,290.5 262.1,275.5 287.5,260.5 321.4,245.5 376.5,230.5 397.7,215.5 414.7,200.5 435.9,185.5 452.9,170.5 465.6,155.5 486.8,140.5 495.3,125.5 508.0,110.5 520.7,95.5 529.2,80.5"/>
<polyline points="122.1,365.5 147.6,350.5 168.8,335.5 194.2,320.5 236.6,305.5 240.9,290.5 266.3,275.5 287.5,260.5 329.9,245.5 359.6,230.5 380.8,215.5 397.7,200.5 427.4,185.5 448.6,170.5 465.6,155.5 478.3,140.5 495.3,125.5 508.0,110.5 516.5,95.5 529.2,80.5"/>
<polyline points="122.1,365.5 156.1,350.5 168.8,335.5 190.0,320.5 215.4,305.5 240.9,290.5 270.5,275.5 279.0,260.5 304.5,245.5 351.1,230.5 385.0,215.5 406.2,200.5 431.7,185.5 444.4,170.5 461.3,155.5 478.3,140.5 499.5,125.5 508.0,110.5 520.7,95.5 529.2,80.5"/>
<polyline points="122.1,365.5 151.8,350.5 164.5,335.5 190.0,320.5 215.4,305.5 232.4,290.5 257.8,275.5 300.2,260.5 342.6,245.5 368.1,230.5 397.7,215.5 410.5,200.5 431.7,185.5 444.4,170.5 461.3,155.5 478.3,140.5 495.3,125.5 508.0,110.5 520.7,95.5 529.2,80.5"/>
<polyline points="122.1,365.5 151.8,350.5 164.5,335.5 190.0,320.5 211.2,305.5 228.1,290.5 279.0,275.5 300.2,260.5 308.7,245.5 346.9,230.5 376.5,215.5 397.7,200.5 418.9,185.5 440.1,170.5 461.3,155.5 478.3,140.5 491.0,125.5 503.7,110.5 516.5,95.5 529.2,80.5"/>
<polyline points="122.1,365.5 139.1,350.5 156.1,335.5 190.0,320.5 219.7,305.5 232.4,290.5 240.9,275.5 287.5,260.5 329.9,245.5 376.5,230.5 385.0,215.5 402.0,200.5 431.7,185.5 452.9,170.5 465.6,155.5 482.5,140.5 495.3,125.5 508.0,110.5 520.7,95.5 533.4,80.5"/>
<polyline points="122.1,365.5 156.1,350.5 177.3,335.5 198.5,320.5 228.1,305.5 262.1,290.5 287.5,275.5 312.9,260.5 334.1,245.5 380.8,230.5 406.2,215.5 418.9,200.5 427.4,185.5 448.6,170.5 469.8,155.5 486.8,140.5 499.5,125.5 508.0,110.5 516.5,95.5 533.4,80.5"/>
<polyline points="122.1,365.5 151.8,350.5 160.3,335.5 181.5,320.5 223.9,305.5 249.3,290.5 274.8,275.5 308.7,260.5 325.7,245.5 372.3,230.5 389.3,215.5 402.0,200.5 418.9,185.5 444.4,170.5 465.6,155.5 491.0,140.5 499.5,125.5 512.2,110.5 524.9,95.5 537.7,80.5"/>
<polyline points="122.1,365.5 151.8,350.5 160.3,335.5 185.7,320.5 211.2,305.5 228.1,290.5 253.6,275.5 283.3,260.5 329.9,245.5 346.9,230.5 385.0,215.5 397.7,200.5 431.7,185.5 452.9,170.5 461.3,155.5 478.3,140.5 495.3,125.5 503.7,110.5 516.5,95.5 529.2,80.5"/>
<polyline points="122.1,365.5 147.6,350.5 160.3,335.5 181.5,320.5 206.9,305.5 236.6,290.5 262.1,275.5 300.2,260.5 338.4,245.5 376.5,230.5 397.7,215.5 414.7,200.5 431.7,185.5 444.4,170.5 465.6,155.5 486.8,140.5 499.5,125.5 508.0,110.5 520.7,95.5 529.2,80.5"/>
<polyline points="126.4,365.5 160.3,350.5 168.8,335.5 206.9,320.5 228.1,305.5 240.9,290.5 283.3,275.5 321.4,260.5 329.9,245.5 372.3,230.5 389.3,215.5 410.5,200.5 435.9,185.5 457.1,170.5 474.1,155.5 482.5,140.5 499.5,125.5 512.2,110.5 520.7,95.5 537.7,80.5"/>
<polyline points="122.1,365.5 147.6,350.5 173.0,335.5 198.5,320.5 240.9,305.5 240.9,290.5 253.6,275.5 274.8,260.5 321.4,245.5 372.3,230.5 393.5,215.5 418.9,200.5 448.6,185.5 461.3,170.5 469.8,155.5 486.8,140.5 499.5,125.5 508.0,110.5 520.7,95.5 533.4,80.5"/>
<polyline points="122.1,365.5 160.3,350.5 164.5,335.5 177.3,320.5 215.4,305.5 232.4,290.5 266.3,275.5 296.0,260.5 329.9,245.5 359.6,230.5 393.5,215.5 418.9,200.5 431.7,185.5 448.6,170.5 469.8,155.5 478.3,140.5 486.8,125.5 503.7,110.5 516.5,95.5 529.2,80.5"/>
<polyline points="122.1,365.5 151.8,350.5 168.8,335.5 190.0,320.5 206.9,305.5 219.7,290.5 262.1,275.5 287.5,260.5 334.1,245.5 363.8,230.5 393.5,215.5 414.7,200.5 427.4,185.5 440.1,170.5 461.3,155.5 478.3,140.5 495.3,125.5 503.7,110.5 516.5,95.5 524.9,80.5"/>
<polyline points="122.1,365.5 143.3,350.5 156.1,335.5 185.7,320.5 215.4,305.5 240.9,290.5 257.8,275.5 312.9,260.5 338.4,245.5 363.8,230.5 389.3,215.5 410.5,200.5 418.9,185.5 448.6,170.5 465.6,155.5 482.5,140.5 499.5,125.5 512.2,110.5 524.9,95.5 533.4,80.5"/>
<polyline points="122.1,365.5 151.8,350.5 164.5,335.5 190.0,320.5 228.1,305.5 236.6,290.5 266.3,275.5 300.2,260.5 329.9,245.5 363.8,230.5 389.3,215.5 406.2,200.5 423.2,185.5 448.6,170.5 465.6,155.5 482.5,140.5 499.5,125.5 508.0,110.5 524.9,95.5 533.4,80.5"/>
<polyline points="122.1,365.5 151.8,350.5 156.1,335.5 177.3,320.5 215.4,305.5 232.4,290.5 266.3,275.5 308.7,260.5 346.9,245.5 380.8,230.5 393.5,215.5 414.7,200.5 435.9,185.5 448.6,170.5 465.6,155.5 482.5,140.5 495.3,125.5 508.0,110.5 524.9,95.5 533.4,80.5"/>
<polyline points="122.1,365.5 147.6,350.5 160.3,335.5 181.5,320.5 211.2,305.5 232.4,290.5 249.3,275.5 274.8,260.5 325.7,245.5 346.9,230.5 380.8,215.5 410.5,200.5 431.7,185.5 448.6,170.5 465.6,155.5 486.8,140.5 499.5,125.5 516.5,110.5 520.7,95.5 537.7,80.5"/>
<polyline points="122.1,365.5 151.8,350.5 177.3,335.5 206.9,320.5 228.1,305.5 245.1,290.5 279.0,275.5 304.5,260.5 321.4,245.5 359.6,230.5 376.5,215.5 402.0,200.5 423.2,185.5 440.1,170.5 461.3,155.5 478.3,140.5 491.0,125.5 508.0,110.5 516.5,95.5 529.2,80.5"/>
<polyline points="122.1,365.5 139.1,350.5 164.5,335.5 194.2,320.5 223.9,305.5 249.3,290.5 270.5,275.5 304.5,260.5 329.9,245.5 372.3,230.5 397.7,215.5 414.7,200.5 440.1,185.5 461.3,170.5 474.1,155.5 491.0,140.5 499.5,125.5 508.0,110.5 524.9,95.5 533.4,80.5"/>
<polyline points="122.1,365.5 156.1,350.5 173.0,335.5 194.2,320.5 232.4,305.5 245.1,290.5 287.5,275.5 325.7,260.5 342.6,245.5 380.8,230.5 393.5,215.5 414.7,200.5 431.7,185.5 452.9,170.5 465.6,155.5 478.3,140.5 491.0,125.5 508.0,110.5 512.2,95.5 529.2,80.5"/>
<polyline points="122.1,365.5 151.8,350.5 168.8,335.5 194.2,320.5 211.2,305.5 245.1,290.5 266.3,275.5 300.2,260.5 325.7,245.5 363.8,230.5 380.8,215.5 397.7,200.5 427.4,185.5 452.9,170.5 469.8,155.5 482.5,140.5 499.5,125.5 508.0,110.5 524.9,95.5 533.4,80.5"/>
<polyline points="122.1,365.5 151.8,350.5 160.3,335.5 202.7,320.5 228.1,305.5 236.6,290.5 262.1,275.5 279.0,260.5 321.4,245.5 346.9,230.5 389.3,215.5 410.5,200.5 435.9,185.5 461.3,170.5 474.1,155.5 486.8,140.5 503.7,125.5 516.5,110.5 529.2,95.5 537.7,80.5"/>
<polyline points="122.1,365.5 156.1,350.5 164.5,335.5 202.7,320.5 223.9,305.5 249.3,290.5 274.8,275.5 308.7,260.5 338.4,245.5 402.0,230.5 414.7,215.5 423.2,200.5 435.9,185.5 457.1,170.5 474.1,155.5 486.8,140.5 503.7,125.5 512.2,110.5 524.9,95.5 529.2,80.5"/>
<polyline points="126.4,365.5 151.8,350.5 173.0,335.5 190.0,320.5 232.4,305.5 262.1,290.5 283.3,275.5 300.2,260.5 329.9,245.5 355.3,230.5 389.3,215.5 410.5,200.5 431.7,185.5 457.1,170.5 474.1,155.5 486.8,140.5 499.5,125.5 508.0,110.5 524.9,95.5 533.4,80.5"/>
<polyline points="122.1,365.5 156.1,350.5 168.8,335.5 202.7,320.5 228.1,305.5 240.9,290.5 279.0,275.5 312.9,260.5 325.7,245.5 355.3,230.5 393.5,215.5 406.2,200.5 440.1,185.5 452.9,170.5 469.8,155.5 486.8,140.5 499.5,125.5 508.0,110.5 520.7,95.5 533.4,80.5"/>
<polyline points="122.1,365.5 143.3,350.5 160.3,335.5 181.5,320.5 219.7,305.5 240.9,290.5 262.1,275.5 300.2,260.5 312.9,245.5 346.9,230.5 380.8,215.5 402.0,200.5 427.4,185.5 448.6,170.5 474.1,155.5 486.8,140.5 503.7,125.5 516.5,110.5 529.2,95.5 537.7,80.5"/>
<polyline points="122.1,365.5 156.1,350.5 164.5,335.5 190.0,320.5 232.4,305.5 253.6,290.5 274.8,275.5 304.5,260.5 338.4,245.5 385.0,230.5 406.2,215.5 414.7,200.5 435.9,185.5 452.9,170.5 465.6,155.5 482.5,140.5 499.5,125.5 512.2,110.5 524.9,95.5 537.7,80.5"/>
<polyline points="122.1,365.5 151.8,350.5 168.8,335.5 185.7,320.5 223.9,305.5 232.4,290.5 257.8,275.5 312.9,260.5 351.1,245.5 376.5,230.5 389.3,215.5 406.2,200.5 435.9,185.5 448.6,170.5 465.6,155.5 478.3,140.5 499.5,125.5 516.5,110.5 529.2,95.5 537.7,80.5"/>
<polyline points="122.1,365.5 147.6,350.5 147.6,335.5 177.3,320.5 215.4,305.5 236.6,290.5 279.0,275.5 312.9,260.5 342.6,245.5 380.8,230.5 402.0,215.5 427.4,200.5 440.1,185.5 457.1,170.5 478.3,155.5 491.0,140.5 499.5,125.5 508.0,110.5 516.5,95.5 529.2,80.5"/>
<polyline points="122.1,365.5 151.8,350.5 164.5,335.5 181.5,320.5 206.9,305.5 240.9,290.5 249.3,275.5 300.2,260.5 346.9,245.5 372.3,230.5 393.5,215.5 410.5,200.5 440.1,185.5 461.3,170.5 482.5,155.5 491.0,140.5 503.7,125.5 512.2,110.5 524.9,95.5 537.7,80.5"/>
<polyline points="122.1,365.5 156.1,350.5 168.8,335.5 202.7,320.5 228.1,305.5 249.3,290.5 257.8,275.5 283.3,260.5 325.7,245.5 363.8,230.5 393.5,215.5 406.2,200.5 418.9,185.5 448.6,170.5 461.3,155.5 478.3,140.5 495.3,125.5 508.0,110.5 520.7,95.5 529.2,80.5"/>
<polyline points="126.4,365.5 151.8,350.5 164.5,335.5 181.5,320.5 211.2,305.5 228.1,290.5 274.8,275.5 304.5,260.5 338.4,245.5 372.3,230.5 393.5,215.5 418.9,200.5 435.9,185.5 461.3,170.5 474.1,155.5 486.8,140.5 499.5,125.5 516.5,110.5 529.2,95.5 537.7,80.5"/>
<polyline points="122.1,365.5 147.6,350.5 164.5,335.5 173.0,320.5 211.2,305.5 223.9,290.5 274.8,275.5 312.9,260.5 346.9,245.5 376.5,230.5 402.0,215.5 414.7,200.5 435.9,185.5 457.1,170.5 469.8,155.5 486.8,140.5 503.7,125.5 508.0,110.5 520.7,95.5 537.7,80.5"/>
<polyline points="122.1,365.5 156.1,350.5 168.8,335.5 181.5,320.5 223.9,305.5 245.1,290.5 262.1,275.5 291.7,260.5 334.1,245.5 368.1,230.5 372.3,215.5 402.0,200.5 427.4,185.5 452.9,170.5 474.1,155.5 486.8,140.5 499.5,125.5 503.7,110.5 516.5,95.5 529.2,80.5"/>
<polyline points="122.1,365.5 156.1,350.5 168.8,335.5 185.7,320.5 219.7,305.5 236.6,290.5 266.3,275.5 312.9,260.5 338.4,245.5 376.5,230.5 406.2,215.5 423.2,200.5 444.4,185.5 457.1,170.5 474.1,155.5 486.8,140.5 503.7,125.5 512.2,110.5 520.7,95.5 533.4,80.5"/>
<polyline points="122.1,365.5 151.8,350.5 173.0,335.5 177.3,320.5 206.9,305.5 236.6,290.5 270.5,275.5 304.5,260.5 325.7,245.5 380.8,230.5 389.3,215.5 410.5,200.5 435.9,185.5 457.1,170.5 469.8,155.5 486.8,140.5 499.5,125.5 512.2,110.5 524.9,95.5 533.4,80.5"/>
<polyline points="122.1,365.5 156.1,350.5 173.0,335.5 206.9,320.5 232.4,305.5 245.1,290.5 279.0,275.5 321.4,260.5 342.6,245.5 389.3,230.5 402.0,215.5 427.4,200.5 448.6,185.5 465.6,170.5 474.1,155.5 486.8,140.5 499.5,125.5 508.0,110.5 520.7,95.5 533.4,80.5"/>
<polyline points="122.1,365.5 151.8,350.5 181.5,335.5 206.9,320.5 232.4,305.5 249.3,290.5 274.8,275.5 317.2,260.5 342.6,245.5 393.5,230.5 414.7,215.5 423.2,200.5 440.1,185.5 452.9,170.5 465.6,155.5 478.3,140.5 486.8,125.5 503.7,110.5 520.7,95.5 529.2,80.5"/>
<polyline points="122.1,365.5 156.1,350.5 173.0,335.5 177.3,320.5 202.7,305.5 228.1,290.5 257.8,275.5 296.0,260.5 329.9,245.5 372.3,230.5 406.2,215.5 414.7,200.5 435.9,185.5 448.6,170.5 457.1,155.5 482.5,140.5 499.5,125.5 512.2,110.5 520.7,95.5 537.7,80.5"/>
<polyline points="122.1,365.5 151.8,350.5 168.8,335.5 198.5,320.5 223.9,305.5 240.9,290.5 283.3,275.5 304.5,260.5 346.9,245.5 380.8,230.5 410.5,215.5 427.4,200.5 444.4,185.5 461.3,170.5 474.1,155.5 491.0,140.5 499.5,125.5 516.5,110.5 524.9,95.5 537.7,80.5"/>
<polyline points="122.1,365.5 156.1,350.5 160.3,335.5 190.0,320.5 223.9,305.5 249.3,290.5 274.8,275.5 317.2,260.5 338.4,245.5 376.5,230.5 385.0,215.5 402.0,200.5 431.7,185.5 452.9,170.5 469.8,155.5 482.5,140.5 499.5,125.5 512.2,110.5 524.9,95.5 537.7,80.5"/>
<polyline points="126.4,365.5 151.8,350.5 168.8,335.5 190.0,320.5 215.4,305.5 249.3,290.5 279.0,275.5 317.2,260.5 342.6,245.5 372.3,230.5 397.7,215.5 406.2,200.5 431.7,185.5 444.4,170.5 461.3,155.5 478.3,140.5 495.3,125.5 508.0,110.5 516.5,95.5 529.2,80.5"/>
<polyline points="122.1,365.5 151.8,350.5 181.5,335.5 202.7,320.5 236.6,305.5 249.3,290.5 249.3,275.5 287.5,260.5 312.9,245.5 355.3,230.5 389.3,215.5 414.7,200.5 440.1,185.5 461.3,170.5 478.3,155.5 486.8,140.5 499.5,125.5 512.2,110.5 524.9,95.5 537.7,80.5"/>
<polyline points="122.1,365.5 156.1,350.5 168.8,335.5 198.5,320.5 223.9,305.5 240.9,290.5 253.6,275.5 308.7,260.5 342.6,245.5 368.1,230.5 385.0,215.5 402.0,200.5 431.7,185.5 448.6,170.5 469.8,155.5 482.5,140.5 495.3,125.5 508.0,110.5 520.7,95.5 533.4,80.5"/>
<polyline points="122.1,365.5 151.8,350.5 173.0,335.5 202.7,320.5 219.7,305.5 245.1,290.5 253.6,275.5 279.0,260.5 334.1,245.5 372.3,230.5 389.3,215.5 406.2,200.5 435.9,185.5 457.1,170.5 469.8,155.5 491.0,140.5 499.5,125.5 508.0,110.5 520.7,95.5 533.4,80.5"/>
<polyline points="122.1,365.5 143.3,350.5 164.5,335.5 185.7,320.5 223.9,305.5 253.6,290.5 270.5,275.5 287.5,260.5 325.7,245.5 355.3,230.5 385.0,215.5 410.5,200.5 440.1,185.5 465.6,170.5 478.3,155.5 499.5,140.5 503.7,125.5 516.5,110.5 524.9,95.5 537.7,80.5"/>
<polyline points="122.1,365.5 151.8,350.5 181.5,335.5 219.7,320.5 240.9,305.5 245.1,290.5 270.5,275.5 300.2,260.5 329.9,245.5 372.3,230.5 402.0,215.5 410.5,200.5 431.7,185.5 452.9,170.5 474.1,155.5 491.0,140.5 499.5,125.5 516.5,110.5 524.9,95.5 537.7,80.5"/>
<polyline points="122.1,365.5 151.8,350.5 168.8,335.5 206.9,320.5 253.6,305.5 253.6,290.5 270.5,275.5 296.0,260.5 329.9,245.5 376.5,230.5 397.7,215.5 423.2,200.5 448.6,185.5 465.6,170.5 474.1,155.5 491.0,140.5 508.0,125.5 516.5,110.5 524.9,95.5 537.7,80.5"/>
<polyline points="126.4,365.5 160.3,350.5 181.5,335.5 194.2,320.5 223.9,305.5 240.9,290.5 253.6,275.5 296.0,260.5 338.4,245.5 363.8,230.5 389.3,215.5 410.5,200.5 435.9,185.5 452.9,170.5 465.6,155.5 482.5,140.5 495.3,125.5 503.7,110.5 516.5,95.5 529.2,80.5"/>
<polyline points="126.4,365.5 151.8,350.5 156.1,335.5 185.7,320.5 228.1,305.5 249.3,290.5 266.3,275.5 300.2,260.5 338.4,245.5 368.1,230.5 393.5,215.5 414.7,200.5 435.9,185.5 457.1,170.5 469.8,155.5 482.5,140.5 495.3,125.5 512.2,110.5 529.2,95.5 537.7,80.5"/>
<polyline points="122.1,365.5 151.8,350.5 168.8,335.5 198.5,320.5 240.9,305.5 257.8,290.5 274.8,275.5 308.7,260.5 329.9,245.5 351.1,230.5 393.5,215.5 410.5,200.5 448.6,185.5 465.6,170.5 482.5,155.5 495.3,140.5 508.0,125.5 520.7,110.5 533.4,95.5 541.9,80.5"/>
<polyline points="122.1,365.5 147.6,350.5 181.5,335.5 198.5,320.5 236.6,305.5 266.3,290.5 266.3,275.5 308.7,260.5 338.4,245.5 372.3,230.5 393.5,215.5 414.7,200.5 440.1,185.5 457.1,170.5 469.8,155.5 486.8,140.5 499.5,125.5 508.0,110.5 524.9,95.5 537.7,80.5"/>
<polyline points="122.1,365.5 151.8,350.5 168.8,335.5 194.2,320.5 211.2,305.5 236.6,290.5 253.6,275.5 287.5,260.5 321.4,245.5 376.5,230.5 402.0,215.5 418.9,200.5 440.1,185.5 457.1,170.5 474.1,155.5 491.0,140.5 503.7,125.5 516.5,110.5 524.9,95.5 537.7,80.5"/>
<polyline points="122.1,365.5 151.8,350.5 173.0,335.5 202.7,320.5 223.9,305.5 245.1,290.5 296.0,275.5 325.7,260.5 355.3,245.5 406.2,230.5 414.7,215.5 427.4,200.5 448.6,185.5 465.6,170.5 482.5,155.5 491.0,140.5 503.7,125.5 512.2,110.5 529.2,95.5 541.9,80.5"/>
<polyline points="122.1,365.5 147.6,350.5 173.0,335.5 194.2,320.5 219.7,305.5 245.1,290.5 279.0,275.5 300.2,260.5 334.1,245.5 376.5,230.5 397.7,215.5 414.7,200.5 435.9,185.5 452.9,170.5 474.1,155.5 495.3,140.5 508.0,125.5 520.7,110.5 529.2,95.5 537.7,80.5"/>
<polyline points="122.1,365.5 156.1,350.5 168.8,335.5 190.0,320.5 223.9,305.5 240.9,290.5 274.8,275.5 304.5,260.5 334.1,245.5 368.1,230.5 393.5,215.5 406.2,200.5 435.9,185.5 457.1,170.5 469.8,155.5 478.3,140.5 491.0,125.5 508.0,110.5 520.7,95.5 533.4,80.5"/>
<polyline points="122.1,365.5 151.8,350.5 173.0,335.5 206.9,320.5 236.6,305.5 257.8,290.5 287.5,275.5 317.2,260.5 342.6,245.5 368.1,230.5 385.0,215.5 418.9,200.5 435.9,185.5 448.6,170.5 474.1,155.5 486.8,140.5 495.3,125.5 503.7,110.5 520.7,95.5 529.2,80.5"/>
<polyline points="122.1,365.5 151.8,350.5 164.5,335.5 194.2,320.5 219.7,305.5 249.3,290.5 287.5,275.5 312.9,260.5 334.1,245.5 380.8,230.5 397.7,215.5 427.4,200.5 448.6,185.5 465.6,170.5 474.1,155.5 486.8,140.5 503.7,125.5 512.2,110.5 524.9,95.5 541.9,80.5"/>
<polyline points="122.1,365.5 143.3,350.5 147.6,335.5 185.7,320.5 228.1,305.5 257.8,290.5 287.5,275.5 308.7,260.5 329.9,245.5 363.8,230.5 389.3,215.5 410.5,200.5 444.4,185.5 461.3,170.5 478.3,155.5 491.0,140.5 508.0,125.5 520.7,110.5 529.2,95.5 537.7,80.5"/>
<polyline points="122.1,365.5 147.6,350.5 168.8,335.5 185.7,320.5 215.4,305.5 240.9,290.5 257.8,275.5 308.7,260.5 342.6,245.5 376.5,230.5 406.2,215.5 418.9,200.5 440.1,185.5 461.3,170.5 478.3,155.5 495.3,140.5 503.7,125.5 520.7,110.5 533.4,95.5 541.9,80.5"/>
<polyline points="122.1,365.5 151.8,350.5 164.5,335.5 190.0,320.5 228.1,305.5 240.9,290.5 270.5,275.5 291.7,260.5 334.1,245.5 359.6,230.5 380.8,215.5 402.0,200.5 431.7,185.5 457.1,170.5 474.1,155.5 491.0,140.5 503.7,125.5 520.7,110.5 529.2,95.5 537.7,80.5"/>
<polyline points="122.1,365.5 147.6,350.5 168.8,335.5 194.2,320.5 236.6,305.5 249.3,290.5 274.8,275.5 317.2,260.5 338.4,245.5 351.1,230.5 380.8,215.5 402.0,200.5 427.4,185.5 452.9,170.5 474.1,155.5 491.0,140.5 503.7,125.5 512.2,110.5 524.9,95.5 537.7,80.5"/>
<polyline points="126.4,365.5 156.1,350.5 181.5,335.5 206.9,320.5 232.4,305.5 232.4,290.5 270.5,275.5 296.0,260.5 329.9,245.5 376.5,230.5 402.0,215.5 423.2,200.5 435.9,185.5 457.1,170.5 474.1,155.5 486.8,140.5 499.5,125.5 508.0,110.5 524.9,95.5 537.7,80.5"/>
<polyline points="122.1,365.5 156.1,350.5 168.8,335.5 198.5,320.5 223.9,305.5 232.4,290.5 274.8,275.5 304.5,260.5 325.7,245.5 368.1,230.5 397.7,215.5 414.7,200.5 440.1,185.5 465.6,170.5 474.1,155.5 491.0,140.5 508.0,125.5 516.5,110.5 524.9,95.5 537.7,80.5"/>
<polyline points="122.1,365.5 143.3,350.5 160.3,335.5 194.2,320.5 249.3,305.5 257.8,290.5 279.0,275.5 308.7,260.5 338.4,245.5 363.8,230.5 393.5,215.5 410.5,200.5 431.7,185.5 457.1,170.5 469.8,155.5 486.8,140.5 499.5,125.5 512.2,110.5 520.7,95.5 533.4,80.5"/>
<polyline points="122.1,365.5 156.1,350.5 177.3,335.5 194.2,320.5 232.4,305.5 245.1,290.5 274.8,275.5 308.7,260.5 342.6,245.5 376.5,230.5 406.2,215.5 423.2,200.5 448.6,185.5 461.3,170.5 482.5,155.5 495.3,140.5 508.0,125.5 520.7,110.5 529.2,95.5 541.9,80.5"/>
<polyline points="122.1,365.5 156.1,350.5 173.0,335.5 202.7,320.5 236.6,305.5 249.3,290.5 279.0,275.5 304.5,260.5 317.2,245.5 363.8,230.5 385.0,215.5 406.2,200.5 431.7,185.5 457.1,170.5 474.1,155.5 486.8,140.5 503.7,125.5 512.2,110.5 524.9,95.5 537.7,80.5"/>
<polyline points="126.4,365.5 156.1,350.5 168.8,335.5 198.5,320.5 232.4,305.5 240.9,290.5 279.0,275.5 296.0,260.5 338.4,245.5 376.5,230.5 380.8,215.5 402.0,200.5 427.4,185.5 448.6,170.5 469.8,155.5 482.5,140.5 499.5,125.5 516.5,110.5 524.9,95.5 537.7,80.5"/>
<polyline points="122.1,365.5 156.1,350.5 181.5,335.5 202.7,320.5 223.9,305.5 228.1,290.5 245.1,275.5 283.3,260.5 325.7,245.5 355.3,230.5 393.5,215.5 410.5,200.5 431.7,185.5 452.9,170.5 474.1,155.5 491.0,140.5 503.7,125.5 512.2,110.5 524.9,95.5 533.4,80.5"/>
<polyline points="122.1,365.5 151.8,350.5 164.5,335.5 181.5,320.5 219.7,305.5 228.1,290.5 266.3,275.5 312.9,260.5 334.1,245.5 368.1,230.5 393.5,215.5 423.2,200.5 444.4,185.5 461.3,170.5 478.3,155.5 491.0,140.5 508.0,125.5 516.5,110.5 529.2,95.5 541.9,80.5"/>
<polyline points="126.4,365.5 156.1,350.5 173.0,335.5 202.7,320.5 240.9,305.5 262.1,290.5 296.0,275.5 325.7,260.5 363.8,245.5 402.0,230.5 406.2,215.5 410.5,200.5 440.1,185.5 457.1,170.5 474.1,155.5 491.0,140.5 503.7,125.5 516.5,110.5 524.9,95.5 537.7,80.5"/>
<polyline points="126.4,365.5 164.5,350.5 185.7,335.5 211.2,320.5 215.4,305.5 249.3,290.5 266.3,275.5 300.2,260.5 329.9,245.5 372.3,230.5 397.7,215.5 414.7,200.5 431.7,185.5 452.9,170.5 469.8,155.5 486.8,140.5 503.7,125.5 516.5,110.5 529.2,95.5 541.9,80.5"/>
<polyline points="126.4,365.5 156.1,350.5 173.0,335.5 206.9,320.5 232.4,305.5 240.9,290.5 270.5,275.5 308.7,260.5 334.1,245.5 368.1,230.5 402.0,215.5 418.9,200.5 435.9,185.5 452.9,170.5 474.1,155.5 486.8,140.5 503.7,125.5 508.0,110.5 520.7,95.5 533.4,80.5"/>
<polyline points="126.4,365.5 160.3,350.5 173.0,335.5 194.2,320.5 228.1,305.5 245.1,290.5 274.8,275.5 317.2,260.5 342.6,245.5 389.3,230.5 414.7,215.5 435.9,200.5 457.1,185.5 465.6,170.5 474.1,155.5 486.8,140.5 503.7,125.5 516.5,110.5 529.2,95.5 537.7,80.5"/>
<polyline points="122.1,365.5 160.3,350.5 173.0,335.5 198.5,320.5 240.9,305.5 257.8,290.5 287.5,275.5 321.4,260.5 355.3,245.5 389.3,230.5 418.9,215.5 435.9,200.5 448.6,185.5 465.6,170.5 486.8,155.5 495.3,140.5 508.0,125.5 516.5,110.5 533.4,95.5 541.9,80.5"/>
<polyline points="122.1,365.5 151.8,350.5 173.0,335.5 202.7,320.5 240.9,305.5 240.9,290.5 283.3,275.5 321.4,260.5 359.6,245.5 393.5,230.5 418.9,215.5 435.9,200.5 448.6,185.5 465.6,170.5 486.8,155.5 495.3,140.5 508.0,125.5 520.7,110.5 533.4,95.5 541.9,80.5"/>
<polyline points="122.1,365.5 156.1,350.5 177.3,335.5 211.2,320.5 249.3,305.5 253.6,290.5 279.0,275.5 300.2,260.5 338.4,245.5 368.1,230.5 410.5,215.5 423.2,200.5 444.4,185.5 465.6,170.5 482.5,155.5 491.0,140.5 503.7,125.5 520.7,110.5 529.2,95.5 541.9,80.5"/>
<polyline points="126.4,365.5 164.5,350.5 173.0,335.5 194.2,320.5 228.1,305.5 270.5,290.5 287.5,275.5 317.2,260.5 346.9,245.5 385.0,230.5 423.2,215.5 423.2,200.5 444.4,185.5 461.3,170.5 474.1,155.5 486.8,140.5 499.5,125.5 508.0,110.5 524.9,95.5 533.4,80.5"/>
<polyline points="122.1,365.5 147.6,350.5 160.3,335.5 194.2,320.5 236.6,305.5 240.9,290.5 283.3,275.5 321.4,260.5 355.3,245.5 385.0,230.5 406.2,215.5 423.2,200.5 440.1,185.5 461.3,170.5 482.5,155.5 495.3,140.5 508.0,125.5 520.7,110.5 529.2,95.5 541.9,80.5"/>
<polyline points="122.1,365.5 151.8,350.5 160.3,335.5 185.7,320.5 215.4,305.5 232.4,290.5 262.1,275.5 304.5,260.5 338.4,245.5 359.6,230.5 389.3,215.5 410.5,200.5 444.4,185.5 457.1,170.5 478.3,155.5 491.0,140.5 512.2,125.5 524.9,110.5 533.4,95.5 541.9,80.5"/>
<polyline points="122.1,365.5 151.8,350.5 168.8,335.5 198.5,320.5 245.1,305.5 245.1,290.5 262.1,275.5 308.7,260.5 338.4,245.5 368.1,230.5 393.5,215.5 414.7,200.5 440.1,185.5 465.6,170.5 482.5,155.5 499.5,140.5 503.7,125.5 516.5,110.5 524.9,95.5 537.7,80.5"/>
<polyline points="122.1,365.5 160.3,350.5 173.0,335.5 211.2,320.5 240.9,305.5 249.3,290.5 274.8,275.5 296.0,260.5 342.6,245.5 380.8,230.5 410.5,215.5 435.9,200.5 448.6,185.5 461.3,170.5 486.8,155.5 491.0,140.5 508.0,125.5 516.5,110.5 529.2,95.5 546.1,80.5"/>
<polyline points="122.1,365.5 156.1,350.5 168.8,335.5 202.7,320.5 228.1,305.5 274.8,290.5 287.5,275.5 317.2,260.5 351.1,245.5 380.8,230.5 397.7,215.5 423.2,200.5 452.9,185.5 461.3,170.5 474.1,155.5 495.3,140.5 508.0,125.5 516.5,110.5 529.2,95.5 537.7,80.5"/>
<polyline points="122.1,365.5 151.8,350.5 173.0,335.5 190.0,320.5 228.1,305.5 249.3,290.5 279.0,275.5 312.9,260.5 346.9,245.5 385.0,230.5 418.9,215.5 418.9,200.5 440.1,185.5 461.3,170.5 482.5,155.5 495.3,140.5 512.2,125.5 516.5,110.5 529.2,95.5 537.7,80.5"/>
<polyline points="122.1,365.5 151.8,350.5 164.5,335.5 198.5,320.5 228.1,305.5 240.9,290.5 279.0,275.5 308.7,260.5 338.4,245.5 368.1,230.5 402.0,215.5 423.2,200.5 448.6,185.5 469.8,170.5 478.3,155.5 491.0,140.5 508.0,125.5 524.9,110.5 533.4,95.5 546.1,80.5"/>
<polyline points="122.1,365.5 151.8,350.5 160.3,335.5 190.0,320.5 211.2,305.5 245.1,290.5 274.8,275.5 304.5,260.5 342.6,245.5 385.0,230.5 402.0,215.5 427.4,200.5 444.4,185.5 461.3,170.5 478.3,155.5 491.0,140.5 508.0,125.5 516.5,110.5 520.7,95.5 533.4,80.5"/>
<polyline points="122.1,365.5 156.1,350.5 173.0,335.5 211.2,320.5 236.6,305.5 249.3,290.5 283.3,275.5 317.2,260.5 346.9,245.5 372.3,230.5 410.5,215.5 427.4,200.5 448.6,185.5 469.8,170.5 482.5,155.5 495.3,140.5 508.0,125.5 520.7,110.5 529.2,95.5 537.7,80.5"/>
<polyline points="122.1,365.5 151.8,350.5 177.3,335.5 211.2,320.5 240.9,305.5 240.9,290.5 274.8,275.5 291.7,260.5 317.2,245.5 359.6,230.5 406.2,215.5 418.9,200.5 448.6,185.5 469.8,170.5 486.8,155.5 503.7,140.5 512.2,125.5 529.2,110.5 537.7,95.5 546.1,80.5"/>
<polyline points="122.1,365.5 156.1,350.5 173.0,335.5 206.9,320.5 240.9,305.5 240.9,290.5 270.5,275.5 304.5,260.5 338.4,245.5 380.8,230.5 410.5,215.5 427.4,200.5 440.1,185.5 457.1,170.5 478.3,155.5 491.0,140.5 508.0,125.5 524.9,110.5 533.4,95.5 541.9,80.5"/>
<polyline points="122.1,365.5 160.3,350.5 173.0,335.5 198.5,320.5 232.4,305.5 253.6,290.5 300.2,275.5 321.4,260.5 346.9,245.5 385.0,230.5 414.7,215.5 427.4,200.5 457.1,185.5 469.8,170.5 478.3,155.5 491.0,140.5 508.0,125.5 516.5,110.5 524.9,95.5 541.9,80.5"/>
<polyline points="122.1,365.5 151.8,350.5 168.8,335.5 198.5,320.5 232.4,305.5 249.3,290.5 279.0,275.5 317.2,260.5 338.4,245.5 376.5,230.5 406.2,215.5 427.4,200.5 448.6,185.5 461.3,170.5 474.1,155.5 491.0,140.5 508.0,125.5 512.2,110.5 524.9,95.5 537.7,80.5"/>
<polyline points="126.4,365.5 160.3,350.5 177.3,335.5 198.5,320.5 240.9,305.5 279.0,290.5 304.5,275.5 317.2,260.5 346.9,245.5 380.8,230.5 393.5,215.5 406.2,200.5 431.7,185.5 452.9,170.5 469.8,155.5 491.0,140.5 508.0,125.5 520.7,110.5 529.2,95.5 541.9,80.5"/>
<polyline points="122.1,365.5 151.8,350.5 168.8,335.5 190.0,320.5 232.4,305.5 249.3,290.5 270.5,275.5 300.2,260.5 342.6,245.5 385.0,230.5 397.7,215.5 423.2,200.5 444.4,185.5 461.3,170.5 478.3,155.5 499.5,140.5 512.2,125.5 520.7,110.5 533.4,95.5 541.9,80.5"/>
<polyline points="122.1,365.5 151.8,350.5 181.5,335.5 219.7,320.5 240.9,305.5 257.8,290.5 283.3,275.5 317.2,260.5 346.9,245.5 372.3,230.5 402.0,215.5 418.9,200.5 435.9,185.5 461.3,170.5 478.3,155.5 495.3,140.5 503.7,125.5 516.5,110.5 533.4,95.5 541.9,80.5"/>
<polyline points="122.1,365.5 160.3,350.5 177.3,335.5 223.9,320.5 236.6,305.5 245.1,290.5 279.0,275.5 317.2,260.5 342.6,245.5 376.5,230.5 402.0,215.5 423.2,200.5 440.1,185.5 461.3,170.5 482.5,155.5 499.5,140.5 512.2,125.5 524.9,110.5 529.2,95.5 541.9,80.5"/>
<polyline points="122.1,365.5 151.8,350.5 168.8,335.5 202.7,320.5 236.6,305.5 274.8,290.5 312.9,275.5 342.6,260.5 355.3,245.5 397.7,230.5 435.9,215.5 448.6,200.5 457.1,185.5 465.6,170.5 486.8,155.5 499.5,140.5 512.2,125.5 524.9,110.5 533.4,95.5 541.9,80.5"/>
<polyline points="122.1,365.5 156.1,350.5 173.0,335.5 202.7,320.5 232.4,305.5 245.1,290.5 274.8,275.5 325.7,260.5 351.1,245.5 389.3,230.5 423.2,215.5 427.4,200.5 444.4,185.5 474.1,170.5 482.5,155.5 491.0,140.5 512.2,125.5 516.5,110.5 529.2,95.5 541.9,80.5"/>
<polyline points="122.1,365.5 160.3,350.5 168.8,335.5 194.2,320.5 232.4,305.5 262.1,290.5 283.3,275.5 312.9,260.5 342.6,245.5 389.3,230.5 406.2,215.5 423.2,200.5 440.1,185.5 461.3,170.5 474.1,155.5 495.3,140.5 503.7,125.5 512.2,110.5 524.9,95.5 533.4,80.5"/>
<polyline points="126.4,365.5 147.6,350.5 177.3,335.5 202.7,320.5 240.9,305.5 257.8,290.5 279.0,275.5 317.2,260.5 355.3,245.5 389.3,230.5 402.0,215.5 423.2,200.5 444.4,185.5 457.1,170.5 478.3,155.5 491.0,140.5 503.7,125.5 516.5,110.5 529.2,95.5 537.7,80.5"/>
<polyline points="126.4,365.5 160.3,350.5 181.5,335.5 206.9,320.5 240.9,305.5 249.3,290.5 283.3,275.5 312.9,260.5 338.4,245.5 376.5,230.5 410.5,215.5 427.4,200.5 444.4,185.5 469.8,170.5 482.5,155.5 491.0,140.5 508.0,125.5 516.5,110.5 529.2,95.5 537.7,80.5"/>
<polyline points="126.4,365.5 160.3,350.5 177.3,335.5 190.0,320.5 228.1,305.5 253.6,290.5 287.5,275.5 312.9,260.5 342.6,245.5 380.8,230.5 410.5,215.5 427.4,200.5 448.6,185.5 465.6,170.5 478.3,155.5 491.0,140.5 508.0,125.5 520.7,110.5 533.4,95.5 541.9,80.5"/>
<polyline points="122.1,365.5 156.1,350.5 177.3,335.5 198.5,320.5 236.6,305.5 253.6,290.5 287.5,275.5 312.9,260.5 334.1,245.5 376.5,230.5 393.5,215.5 410.5,200.5 435.9,185.5 461.3,170.5 482.5,155.5 495.3,140.5 512.2,125.5 524.9,110.5 533.4,95.5 537.7,80.5"/>
<polyline points="126.4,365.5 160.3,350.5 173.0,335.5 206.9,320.5 228.1,305.5 274.8,290.5 300.2,275.5 317.2,260.5 351.1,245.5 397.7,230.5 418.9,215.5 431.7,200.5 452.9,185.5 465.6,170.5 482.5,155.5 495.3,140.5 503.7,125.5 516.5,110.5 524.9,95.5 537.7,80.5"/>
<polyline points="122.1,365.5 151.8,350.5 164.5,335.5 202.7,320.5 240.9,305.5 257.8,290.5 291.7,275.5 329.9,260.5 342.6,245.5 380.8,230.5 406.2,215.5 427.4,200.5 448.6,185.5 461.3,170.5 482.5,155.5 499.5,140.5 512.2,125.5 520.7,110.5 529.2,95.5 541.9,80.5"/>
<polyline points="122.1,365.5 156.1,350.5 181.5,335.5 198.5,320.5 236.6,305.5 240.9,290.5 279.0,275.5 321.4,260.5 351.1,245.5 380.8,230.5 402.0,215.5 414.7,200.5 440.1,185.5 457.1,170.5 469.8,155.5 491.0,140.5 508.0,125.5 520.7,110.5 529.2,95.5 541.9,80.5"/>
<polyline points="126.4,365.5 160.3,350.5 173.0,335.5 198.5,320.5 232.4,305.5 257.8,290.5 262.1,275.5 296.0,260.5 329.9,245.5 376.5,230.5 410.5,215.5 423.2,200.5 440.1,185.5 461.3,170.5 474.1,155.5 491.0,140.5 503.7,125.5 516.5,110.5 524.9,95.5 537.7,80.5"/>
<polyline points="126.4,365.5 164.5,350.5 177.3,335.5 194.2,320.5 236.6,305.5 253.6,290.5 266.3,275.5 296.0,260.5 346.9,245.5 397.7,230.5 427.4,215.5 444.4,200.5 457.1,185.5 474.1,170.5 482.5,155.5 491.0,140.5 503.7,125.5 516.5,110.5 524.9,95.5 537.7,80.5"/>
<polyline points="126.4,365.5 156.1,350.5 173.0,335.5 206.9,320.5 240.9,305.5 257.8,290.5 300.2,275.5 321.4,260.5 355.3,245.5 389.3,230.5 410.5,215.5 423.2,200.5 440.1,185.5 465.6,170.5 478.3,155.5 491.0,140.5 503.7,125.5 512.2,110.5 524.9,95.5 533.4,80.5"/>
<polyline points="122.1,365.5 151.8,350.5 160.3,335.5 194.2,320.5 228.1,305.5 257.8,290.5 304.5,275.5 329.9,260.5 346.9,245.5 389.3,230.5 410.5,215.5 427.4,200.5 444.4,185.5 461.3,170.5 486.8,155.5 495.3,140.5 512.2,125.5 524.9,110.5 533.4,95.5 541.9,80.5"/>
<polyline points="122.1,365.5 143.3,350.5 164.5,335.5 194.2,320.5 240.9,305.5 262.1,290.5 291.7,275.5 317.2,260.5 346.9,245.5 393.5,230.5 410.5,215.5 418.9,200.5 435.9,185.5 457.1,170.5 478.3,155.5 495.3,140.5 508.0,125.5 520.7,110.5 533.4,95.5 541.9,80.5"/>
<polyline points="122.1,365.5 156.1,350.5 173.0,335.5 198.5,320.5 240.9,305.5 257.8,290.5 274.8,275.5 308.7,260.5 338.4,245.5 368.1,230.5 385.0,215.5 397.7,200.5 431.7,185.5 461.3,170.5 474.1,155.5 491.0,140.5 499.5,125.5 516.5,110.5 524.9,95.5 546.1,80.5"/>
<polyline points="122.1,365.5 160.3,350.5 173.0,335.5 206.9,320.5 228.1,305.5 245.1,290.5 266.3,275.5 321.4,260.5 355.3,245.5 385.0,230.5 406.2,215.5 414.7,200.5 431.7,185.5 457.1,170.5 478.3,155.5 495.3,140.5 508.0,125.5 520.7,110.5 529.2,95.5 537.7,80.5"/>
<polyline points="126.4,365.5 164.5,350.5 181.5,335.5 206.9,320.5 232.4,305.5 240.9,290.5 291.7,275.5 321.4,260.5 355.3,245.5 397.7,230.5 418.9,215.5 444.4,200.5 461.3,185.5 469.8,170.5 478.3,155.5 495.3,140.5 516.5,125.5 520.7,110.5 529.2,95.5 537.7,80.5"/>
<polyline points="126.4,365.5 160.3,350.5 181.5,335.5 215.4,320.5 240.9,305.5 257.8,290.5 291.7,275.5 317.2,260.5 342.6,245.5 363.8,230.5 393.5,215.5 402.0,200.5 435.9,185.5 457.1,170.5 478.3,155.5 495.3,140.5 508.0,125.5 520.7,110.5 529.2,95.5 537.7,80.5"/>
<polyline points="122.1,365.5 160.3,350.5 173.0,335.5 194.2,320.5 232.4,305.5 262.1,290.5 291.7,275.5 325.7,260.5 359.6,245.5 393.5,230.5 410.5,215.5 427.4,200.5 452.9,185.5 469.8,170.5 486.8,155.5 499.5,140.5 516.5,125.5 524.9,110.5 533.4,95.5 546.1,80.5"/>
<polyline points="122.1,365.5 156.1,350.5 168.8,335.5 198.5,320.5 211.2,305.5 240.9,290.5 270.5,275.5 329.9,260.5 342.6,245.5 380.8,230.5 406.2,215.5 427.4,200.5 448.6,185.5 465.6,170.5 478.3,155.5 495.3,140.5 508.0,125.5 520.7,110.5 529.2,95.5 546.1,80.5"/>
<polyline points="126.4,365.5 160.3,350.5 177.3,335.5 202.7,320.5 228.1,305.5 253.6,290.5 270.5,275.5 308.7,260.5 338.4,245.5 380.8,230.5 402.0,215.5 427.4,200.5 448.6,185.5 465.6,170.5 478.3,155.5 495.3,140.5 512.2,125.5 512.2,110.5 524.9,95.5 537.7,80.5"/>
<polyline points="126.4,365.5 156.1,350.5 173.0,335.5 198.5,320.5 249.3,305.5 262.1,290.5 279.0,275.5 317.2,260.5 342.6,245.5 376.5,230.5 402.0,215.5 431.7,200.5 448.6,185.5 469.8,170.5 486.8,155.5 503.7,140.5 516.5,125.5 529.2,110.5 537.7,95.5 546.1,80.5"/>
<polyline points="126.4,365.5 156.1,350.5 181.5,335.5 211.2,320.5 253.6,305.5 257.8,290.5 296.0,275.5 321.4,260.5 346.9,245.5 385.0,230.5 410.5,215.5 431.7,200.5 448.6,185.5 465.6,170.5 482.5,155.5 499.5,140.5 516.5,125.5 524.9,110.5 533.4,95.5 541.9,80.5"/>
<polyline points="122.1,365.5 151.8,350.5 168.8,335.5 190.0,320.5 232.4,305.5 245.1,290.5 270.5,275.5 304.5,260.5 342.6,245.5 372.3,230.5 397.7,215.5 418.9,200.5 448.6,185.5 457.1,170.5 482.5,155.5 495.3,140.5 503.7,125.5 520.7,110.5 533.4,95.5 537.7,80.5"/>
<polyline points="126.4,365.5 160.3,350.5 181.5,335.5 211.2,320.5 228.1,305.5 236.6,290.5 262.1,275.5 312.9,260.5 334.1,245.5 376.5,230.5 402.0,215.5 418.9,200.5 444.4,185.5 461.3,170.5 478.3,155.5 495.3,140.5 508.0,125.5 516.5,110.5 529.2,95.5 537.7,80.5"/>
<polyline points="122.1,365.5 156.1,350.5 173.0,335.5 202.7,320.5 245.1,305.5 257.8,290.5 296.0,275.5 321.4,260.5 342.6,245.5 372.3,230.5 406.2,215.5 418.9,200.5 440.1,185.5 461.3,170.5 478.3,155.5 491.0,140.5 503.7,125.5 516.5,110.5 529.2,95.5 541.9,80.5"/>
<polyline points="126.4,365.5 164.5,350.5 181.5,335.5 206.9,320.5 245.1,305.5 253.6,290.5 279.0,275.5 325.7,260.5 342.6,245.5 376.5,230.5 393.5,215.5 418.9,200.5 440.1,185.5 465.6,170.5 482.5,155.5 495.3,140.5 503.7,125.5 516.5,110.5 524.9,95.5 537.7,80.5"/>
<polyline points="122.1,365.5 151.8,350.5 177.3,335.5 202.7,320.5 240.9,305.5 257.8,290.5 274.8,275.5 304.5,260.5 329.9,245.5 363.8,230.5 389.3,215.5 418.9,200.5 448.6,185.5 474.1,170.5 495.3,155.5 508.0,140.5 512.2,125.5 524.9,110.5 537.7,95.5 546.1,80.5"/>
<polyline points="126.4,365.5 168.8,350.5 181.5,335.5 219.7,320.5 249.3,305.5 270.5,290.5 279.0,275.5 304.5,260.5 342.6,245.5 389.3,230.5 410.5,215.5 423.2,200.5 444.4,185.5 465.6,170.5 482.5,155.5 495.3,140.5 503.7,125.5 516.5,110.5 524.9,95.5 537.7,80.5"/>
<polyline points="122.1,365.5 156.1,350.5 181.5,335.5 194.2,320.5 223.9,305.5 249.3,290.5 287.5,275.5 300.2,260.5 338.4,245.5 402.0,230.5 431.7,215.5 452.9,200.5 465.6,185.5 482.5,170.5 499.5,155.5 508.0,140.5 520.7,125.5 529.2,110.5 537.7,95.5 546.1,80.5"/>
<polyline points="126.4,365.5 160.3,350.5 181.5,335.5 206.9,320.5 245.1,305.5 266.3,290.5 300.2,275.5 329.9,260.5 342.6,245.5 380.8,230.5 402.0,215.5 418.9,200.5 440.1,185.5 465.6,170.5 482.5,155.5 495.3,140.5 508.0,125.5 520.7,110.5 529.2,95.5 541.9,80.5"/>
<polyline points="126.4,365.5 151.8,350.5 168.8,335.5 198.5,320.5 236.6,305.5 266.3,290.5 296.0,275.5 325.7,260.5 368.1,245.5 402.0,230.5 410.5,215.5 418.9,200.5 435.9,185.5 457.1,170.5 474.1,155.5 486.8,140.5 508.0,125.5 520.7,110.5 529.2,95.5 541.9,80.5"/>
<polyline points="126.4,365.5 164.5,350.5 190.0,335.5 232.4,320.5 257.8,305.5 262.1,290.5 291.7,275.5 317.2,260.5 342.6,245.5 385.0,230.5 393.5,215.5 418.9,200.5 431.7,185.5 461.3,170.5 478.3,155.5 491.0,140.5 508.0,125.5 524.9,110.5 533.4,95.5 541.9,80.5"/>
<polyline points="126.4,365.5 164.5,350.5 181.5,335.5 215.4,320.5 245.1,305.5 270.5,290.5 291.7,275.5 317.2,260.5 351.1,245.5 393.5,230.5 431.7,215.5 448.6,200.5 461.3,185.5 478.3,170.5 482.5,155.5 495.3,140.5 512.2,125.5 520.7,110.5 529.2,95.5 541.9,80.5"/>
<polyline points="126.4,365.5 151.8,350.5 177.3,335.5 206.9,320.5 240.9,305.5 262.1,290.5 287.5,275.5 308.7,260.5 334.1,245.5 376.5,230.5 402.0,215.5 414.7,200.5 440.1,185.5 457.1,170.5 474.1,155.5 495.3,140.5 508.0,125.5 520.7,110.5 529.2,95.5 541.9,80.5"/>
<polyline points="126.4,365.5 160.3,350.5 168.8,335.5 198.5,320.5 240.9,305.5 257.8,290.5 283.3,275.5 329.9,260.5 346.9,245.5 385.0,230.5 406.2,215.5 418.9,200.5 448.6,185.5 469.8,170.5 482.5,155.5 491.0,140.5 499.5,125.5 516.5,110.5 529.2,95.5 537.7,80.5"/>
<polyline points="126.4,365.5 156.1,350.5 168.8,335.5 202.7,320.5 245.1,305.5 257.8,290.5 296.0,275.5 321.4,260.5 355.3,245.5 389.3,230.5 427.4,215.5 448.6,200.5 457.1,185.5 474.1,170.5 486.8,155.5 499.5,140.5 516.5,125.5 524.9,110.5 533.4,95.5 541.9,80.5"/>
<polyline points="126.4,365.5 168.8,350.5 194.2,335.5 228.1,320.5 253.6,305.5 274.8,290.5 304.5,275.5 317.2,260.5 329.9,245.5 372.3,230.5 402.0,215.5 418.9,200.5 440.1,185.5 461.3,170.5 478.3,155.5 486.8,140.5 508.0,125.5 520.7,110.5 533.4,95.5 541.9,80.5"/>
<polyline points="122.1,365.5 156.1,350.5 181.5,335.5 219.7,320.5 249.3,305.5 262.1,290.5 287.5,275.5 334.1,260.5 359.6,245.5 385.0,230.5 410.5,215.5 427.4,200.5 452.9,185.5 469.8,170.5 482.5,155.5 499.5,140.5 508.0,125.5 520.7,110.5 533.4,95.5 546.1,80.5"/>
<polyline points="122.1,365.5 160.3,350.5 173.0,335.5 206.9,320.5 249.3,305.5 262.1,290.5 296.0,275.5 329.9,260.5 368.1,245.5 397.7,230.5 427.4,215.5 440.1,200.5 457.1,185.5 469.8,170.5 486.8,155.5 503.7,140.5 512.2,125.5 520.7,110.5 529.2,95.5 546.1,80.5"/>
<polyline points="126.4,365.5 164.5,350.5 190.0,335.5 223.9,320.5 262.1,305.5 274.8,290.5 279.0,275.5 325.7,260.5 342.6,245.5 368.1,230.5 402.0,215.5 418.9,200.5 444.4,185.5 469.8,170.5 482.5,155.5 499.5,140.5 508.0,125.5 520.7,110.5 533.4,95.5 541.9,80.5"/>
<polyline points="126.4,365.5 164.5,350.5 173.0,335.5 206.9,320.5 240.9,305.5 279.0,290.5 291.7,275.5 329.9,260.5 363.8,245.5 406.2,230.5 427.4,215.5 435.9,200.5 457.1,185.5 474.1,170.5 491.0,155.5 499.5,140.5 512.2,125.5 520.7,110.5 529.2,95.5 537.7,80.5"/>
<polyline points="126.4,365.5 164.5,350.5 181.5,335.5 202.7,320.5 228.1,305.5 253.6,290.5 274.8,275.5 321.4,260.5 359.6,245.5 393.5,230.5 423.2,215.5 435.9,200.5 452.9,185.5 469.8,170.5 474.1,155.5 491.0,140.5 503.7,125.5 512.2,110.5 529.2,95.5 537.7,80.5"/>
<polyline points="122.1,365.5 160.3,350.5 190.0,335.5 223.9,320.5 257.8,305.5 266.3,290.5 274.8,275.5 308.7,260.5 351.1,245.5 397.7,230.5 414.7,215.5 440.1,200.5 461.3,185.5 474.1,170.5 491.0,155.5 499.5,140.5 508.0,125.5 516.5,110.5 533.4,95.5 541.9,80.5"/>
<polyline points="126.4,365.5 164.5,350.5 181.5,335.5 202.7,320.5 245.1,305.5 262.1,290.5 287.5,275.5 308.7,260.5 342.6,245.5 393.5,230.5 410.5,215.5 431.7,200.5 452.9,185.5 469.8,170.5 486.8,155.5 495.3,140.5 508.0,125.5 520.7,110.5 533.4,95.5 541.9,80.5"/>
<polyline points="126.4,365.5 160.3,350.5 177.3,335.5 202.7,320.5 236.6,305.5 270.5,290.5 279.0,275.5 312.9,260.5 346.9,245.5 385.0,230.5 414.7,215.5 431.7,200.5 457.1,185.5 474.1,170.5 486.8,155.5 503.7,140.5 512.2,125.5 524.9,110.5 533.4,95.5 541.9,80.5"/>
<polyline points="126.4,365.5 173.0,350.5 185.7,335.5 211.2,320.5 245.1,305.5 266.3,290.5 291.7,275.5 329.9,260.5 346.9,245.5 406.2,230.5 418.9,215.5 431.7,200.5 457.1,185.5 474.1,170.5 486.8,155.5 503.7,140.5 508.0,125.5 516.5,110.5 529.2,95.5 541.9,80.5"/>
<polyline points="126.4,365.5 164.5,350.5 173.0,335.5 206.9,320.5 245.1,305.5 253.6,290.5 266.3,275.5 296.0,260.5 342.6,245.5 380.8,230.5 406.2,215.5 410.5,200.5 448.6,185.5 469.8,170.5 482.5,155.5 495.3,140.5 512.2,125.5 524.9,110.5 537.7,95.5 541.9,80.5"/>
<polyline points="126.4,365.5 156.1,350.5 173.0,335.5 206.9,320.5 245.1,305.5 257.8,290.5 291.7,275.5 325.7,260.5 359.6,245.5 397.7,230.5 402.0,215.5 418.9,200.5 448.6,185.5 461.3,170.5 482.5,155.5 499.5,140.5 512.2,125.5 524.9,110.5 533.4,95.5 541.9,80.5"/>
<polyline points="122.1,365.5 160.3,350.5 173.0,335.5 202.7,320.5 240.9,305.5 262.1,290.5 291.7,275.5 329.9,260.5 359.6,245.5 397.7,230.5 427.4,215.5 435.9,200.5 448.6,185.5 474.1,170.5 482.5,155.5 495.3,140.5 512.2,125.5 524.9,110.5 533.4,95.5 541.9,80.5"/>
<polyline points="126.4,365.5 160.3,350.5 181.5,335.5 198.5,320.5 236.6,305.5 287.5,290.5 312.9,275.5 312.9,260.5 351.1,245.5 389.3,230.5 414.7,215.5 440.1,200.5 457.1,185.5 478.3,170.5 491.0,155.5 508.0,140.5 516.5,125.5 524.9,110.5 529.2,95.5 546.1,80.5"/>
<polyline points="122.1,365.5 156.1,350.5 177.3,335.5 215.4,320.5 240.9,305.5 245.1,290.5 291.7,275.5 325.7,260.5 359.6,245.5 393.5,230.5 427.4,215.5 435.9,200.5 448.6,185.5 465.6,170.5 482.5,155.5 491.0,140.5 508.0,125.5 524.9,110.5 533.4,95.5 537.7,80.5"/>
<polyline points="126.4,365.5 168.8,350.5 185.7,335.5 215.4,320.5 245.1,305.5 253.6,290.5 287.5,275.5 317.2,260.5 351.1,245.5 397.7,230.5 414.7,215.5 431.7,200.5 452.9,185.5 465.6,170.5 486.8,155.5 499.5,140.5 512.2,125.5 524.9,110.5 537.7,95.5 546.1,80.5"/>
<polyline points="122.1,365.5 156.1,350.5 168.8,335.5 206.9,320.5 236.6,305.5 270.5,290.5 304.5,275.5 321.4,260.5 359.6,245.5 402.0,230.5 418.9,215.5 440.1,200.5 457.1,185.5 482.5,170.5 491.0,155.5 503.7,140.5 516.5,125.5 529.2,110.5 537.7,95.5 546.1,80.5"/>
<polyline points="122.1,365.5 164.5,350.5 168.8,335.5 202.7,320.5 245.1,305.5 283.3,290.5 296.0,275.5 312.9,260.5 346.9,245.5 389.3,230.5 406.2,215.5 427.4,200.5 452.9,185.5 469.8,170.5 491.0,155.5 499.5,140.5 516.5,125.5 524.9,110.5 537.7,95.5 546.1,80.5"/>
<polyline points="126.4,365.5 164.5,350.5 181.5,335.5 219.7,320.5 245.1,305.5 262.1,290.5 308.7,275.5 321.4,260.5 351.1,245.5 397.7,230.5 410.5,215.5 423.2,200.5 452.9,185.5 465.6,170.5 478.3,155.5 495.3,140.5 508.0,125.5 516.5,110.5 529.2,95.5 541.9,80.5"/>
<polyline points="126.4,365.5 164.5,350.5 181.5,335.5 219.7,320.5 232.4,305.5 257.8,290.5 287.5,275.5 325.7,260.5 359.6,245.5 397.7,230.5 423.2,215.5 440.1,200.5 461.3,185.5 478.3,170.5 491.0,155.5 508.0,140.5 516.5,125.5 529.2,110.5 537.7,95.5 546.1,80.5"/>
<polyline points="126.4,365.5 168.8,350.5 185.7,335.5 202.7,320.5 232.4,305.5 270.5,290.5 304.5,275.5 334.1,260.5 351.1,245.5 397.7,230.5 423.2,215.5 448.6,200.5 461.3,185.5 474.1,170.5 486.8,155.5 499.5,140.5 512.2,125.5 524.9,110.5 529.2,95.5 546.1,80.5"/>
<polyline points="126.4,365.5 156.1,350.5 181.5,335.5 202.7,320.5 245.1,305.5 262.1,290.5 287.5,275.5 312.9,260.5 342.6,245.5 380.8,230.5 414.7,215.5 435.9,200.5 465.6,185.5 482.5,170.5 491.0,155.5 508.0,140.5 516.5,125.5 529.2,110.5 541.9,95.5 546.1,80.5"/>
<polyline points="126.4,365.5 168.8,350.5 194.2,335.5 215.4,320.5 240.9,305.5 274.8,290.5 304.5,275.5 329.9,260.5 351.1,245.5 376.5,230.5 414.7,215.5 431.7,200.5 461.3,185.5 478.3,170.5 486.8,155.5 499.5,140.5 516.5,125.5 524.9,110.5 537.7,95.5 546.1,80.5"/>
<polyline points="126.4,365.5 160.3,350.5 173.0,335.5 206.9,320.5 245.1,305.5 262.1,290.5 270.5,275.5 296.0,260.5 342.6,245.5 393.5,230.5 423.2,215.5 440.1,200.5 457.1,185.5 482.5,170.5 495.3,155.5 512.2,140.5 524.9,125.5 529.2,110.5 537.7,95.5 550.4,80.5"/>
<polyline points="126.4,365.5 156.1,350.5 181.5,335.5 211.2,320.5 236.6,305.5 253.6,290.5 291.7,275.5 325.7,260.5 346.9,245.5 389.3,230.5 414.7,215.5 427.4,200.5 465.6,185.5 478.3,170.5 491.0,155.5 503.7,140.5 516.5,125.5 529.2,110.5 533.4,95.5 546.1,80.5"/>
<polyline points="126.4,365.5 173.0,350.5 185.7,335.5 219.7,320.5 253.6,305.5 283.3,290.5 308.7,275.5 325.7,260.5 351.1,245.5 393.5,230.5 414.7,215.5 435.9,200.5 448.6,185.5 469.8,170.5 491.0,155.5 495.3,140.5 508.0,125.5 520.7,110.5 533.4,95.5 541.9,80.5"/>
<polyline points="126.4,365.5 160.3,350.5 177.3,335.5 202.7,320.5 240.9,305.5 266.3,290.5 308.7,275.5 346.9,260.5 368.1,245.5 402.0,230.5 414.7,215.5 440.1,200.5 457.1,185.5 474.1,170.5 486.8,155.5 499.5,140.5 512.2,125.5 520.7,110.5 529.2,95.5 537.7,80.5"/>
<polyline points="126.4,365.5 168.8,350.5 181.5,335.5 211.2,320.5 236.6,305.5 240.9,290.5 270.5,275.5 308.7,260.5 346.9,245.5 385.0,230.5 402.0,215.5 427.4,200.5 452.9,185.5 474.1,170.5 491.0,155.5 499.5,140.5 512.2,125.5 524.9,110.5 533.4,95.5 546.1,80.5"/>
<polyline points="126.4,365.5 160.3,350.5 181.5,335.5 215.4,320.5 240.9,305.5 262.1,290.5 291.7,275.5 321.4,260.5 342.6,245.5 389.3,230.5 406.2,215.5 427.4,200.5 448.6,185.5 474.1,170.5 486.8,155.5 503.7,140.5 516.5,125.5 529.2,110.5 541.9,95.5 550.4,80.5"/>
<polyline points="126.4,365.5 164.5,350.5 177.3,335.5 215.4,320.5 249.3,305.5 279.0,290.5 296.0,275.5 325.7,260.5 359.6,245.5 406.2,230.5 418.9,215.5 440.1,200.5 452.9,185.5 469.8,170.5 486.8,155.5 503.7,140.5 512.2,125.5 520.7,110.5 529.2,95.5 541.9,80.5"/>
<polyline points="126.4,365.5 156.1,350.5 177.3,335.5 219.7,320.5 249.3,305.5 270.5,290.5 296.0,275.5 329.9,260.5 351.1,245.5 397.7,230.5 423.2,215.5 444.4,200.5 461.3,185.5 469.8,170.5 486.8,155.5 495.3,140.5 508.0,125.5 524.9,110.5 533.4,95.5 546.1,80.5"/>
<polyline points="122.1,365.5 151.8,350.5 173.0,335.5 211.2,320.5 245.1,305.5 274.8,290.5 308.7,275.5 342.6,260.5 363.8,245.5 402.0,230.5 427.4,215.5 444.4,200.5 457.1,185.5 478.3,170.5 486.8,155.5 503.7,140.5 520.7,125.5 529.2,110.5 541.9,95.5 550.4,80.5"/>
<polyline points="126.4,365.5 164.5,350.5 194.2,335.5 228.1,320.5 262.1,305.5 274.8,290.5 312.9,275.5 342.6,260.5 355.3,245.5 393.5,230.5 423.2,215.5 427.4,200.5 457.1,185.5 478.3,170.5 495.3,155.5 503.7,140.5 512.2,125.5 520.7,110.5 533.4,95.5 546.1,80.5"/>
<polyline points="122.1,365.5 160.3,350.5 181.5,335.5 206.9,320.5 245.1,305.5 257.8,290.5 279.0,275.5 304.5,260.5 342.6,245.5 385.0,230.5 414.7,215.5 444.4,200.5 461.3,185.5 478.3,170.5 495.3,155.5 508.0,140.5 516.5,125.5 524.9,110.5 533.4,95.5 546.1,80.5"/>
<polyline points="126.4,365.5 164.5,350.5 185.7,335.5 223.9,320.5 249.3,305.5 270.5,290.5 304.5,275.5 321.4,260.5 346.9,245.5 393.5,230.5 414.7,215.5 435.9,200.5 452.9,185.5 478.3,170.5 491.0,155.5 508.0,140.5 520.7,125.5 524.9,110.5 529.2,95.5 541.9,80.5"/>
<polyline points="126.4,365.5 164.5,350.5 181.5,335.5 202.7,320.5 240.9,305.5 253.6,290.5 279.0,275.5 317.2,260.5 351.1,245.5 385.0,230.5 410.5,215.5 435.9,200.5 461.3,185.5 482.5,170.5 499.5,155.5 508.0,140.5 516.5,125.5 529.2,110.5 537.7,95.5 550.4,80.5"/>
<polyline points="126.4,365.5 164.5,350.5 177.3,335.5 206.9,320.5 240.9,305.5 274.8,290.5 291.7,275.5 329.9,260.5 372.3,245.5 414.7,230.5 435.9,215.5 452.9,200.5 465.6,185.5 478.3,170.5 486.8,155.5 495.3,140.5 512.2,125.5 524.9,110.5 537.7,95.5 546.1,80.5"/>
<polyline points="126.4,365.5 164.5,350.5 190.0,335.5 236.6,320.5 257.8,305.5 291.7,290.5 312.9,275.5 342.6,260.5 372.3,245.5 406.2,230.5 431.7,215.5 444.4,200.5 461.3,185.5 478.3,170.5 499.5,155.5 503.7,140.5 512.2,125.5 520.7,110.5 533.4,95.5 537.7,80.5"/>
<polyline points="126.4,365.5 168.8,350.5 190.0,335.5 202.7,320.5 253.6,305.5 283.3,290.5 308.7,275.5 338.4,260.5 359.6,245.5 414.7,230.5 444.4,215.5 448.6,200.5 461.3,185.5 474.1,170.5 491.0,155.5 499.5,140.5 508.0,125.5 520.7,110.5 533.4,95.5 541.9,80.5"/>
<polyline points="122.1,365.5 151.8,350.5 164.5,335.5 190.0,320.5 219.7,305.5 253.6,290.5 291.7,275.5 325.7,260.5 351.1,245.5 385.0,230.5 406.2,215.5 414.7,200.5 448.6,185.5 469.8,170.5 491.0,155.5 503.7,140.5 516.5,125.5 529.2,110.5 537.7,95.5 550.4,80.5"/>
<polyline points="126.4,365.5 164.5,350.5 181.5,335.5 215.4,320.5 240.9,305.5 274.8,290.5 296.0,275.5 338.4,260.5 359.6,245.5 385.0,230.5 414.7,215.5 431.7,200.5 452.9,185.5 474.1,170.5 491.0,155.5 503.7,140.5 516.5,125.5 520.7,110.5 533.4,95.5 537.7,80.5"/>
<polyline points="126.4,365.5 160.3,350.5 181.5,335.5 211.2,320.5 232.4,305.5 240.9,290.5 287.5,275.5 329.9,260.5 355.3,245.5 402.0,230.5 427.4,215.5 435.9,200.5 461.3,185.5 474.1,170.5 491.0,155.5 508.0,140.5 516.5,125.5 529.2,110.5 537.7,95.5 546.1,80.5"/>
<polyline points="122.1,365.5 160.3,350.5 181.5,335.5 223.9,320.5 236.6,305.5 266.3,290.5 296.0,275.5 334.1,260.5 351.1,245.5 402.0,230.5 435.9,215.5 448.6,200.5 461.3,185.5 482.5,170.5 495.3,155.5 508.0,140.5 516.5,125.5 529.2,110.5 537.7,95.5 550.4,80.5"/>
<polyline points="126.4,365.5 151.8,350.5 168.8,335.5 198.5,320.5 240.9,305.5 279.0,290.5 300.2,275.5 325.7,260.5 351.1,245.5 385.0,230.5 418.9,215.5 440.1,200.5 457.1,185.5 469.8,170.5 486.8,155.5 499.5,140.5 512.2,125.5 524.9,110.5 537.7,95.5 546.1,80.5"/>
<polyline points="126.4,365.5 173.0,350.5 198.5,335.5 232.4,320.5 257.8,305.5 257.8,290.5 283.3,275.5 325.7,260.5 359.6,245.5 393.5,230.5 418.9,215.5 435.9,200.5 457.1,185.5 469.8,170.5 478.3,155.5 495.3,140.5 508.0,125.5 516.5,110.5 533.4,95.5 541.9,80.5"/>
<polyline points="126.4,365.5 156.1,350.5 181.5,335.5 215.4,320.5 253.6,305.5 266.3,290.5 296.0,275.5 329.9,260.5 346.9,245.5 389.3,230.5 418.9,215.5 431.7,200.5 457.1,185.5 474.1,170.5 482.5,155.5 499.5,140.5 516.5,125.5 529.2,110.5 533.4,95.5 541.9,80.5"/>
<polyline points="126.4,365.5 156.1,350.5 177.3,335.5 206.9,320.5 228.1,305.5 257.8,290.5 304.5,275.5 342.6,260.5 368.1,245.5 393.5,230.5 406.2,215.5 427.4,200.5 461.3,185.5 474.1,170.5 491.0,155.5 503.7,140.5 516.5,125.5 529.2,110.5 537.7,95.5 546.1,80.5"/>
<polyline points="126.4,365.5 164.5,350.5 185.7,335.5 211.2,320.5 245.1,305.5 270.5,290.5 300.2,275.5 329.9,260.5 346.9,245.5 393.5,230.5 414.7,215.5 440.1,200.5 457.1,185.5 482.5,170.5 499.5,155.5 508.0,140.5 520.7,125.5 524.9,110.5 533.4,95.5 546.1,80.5"/>
<polyline points="126.4,365.5 164.5,350.5 185.7,335.5 215.4,320.5 249.3,305.5 270.5,290.5 296.0,275.5 325.7,260.5 363.8,245.5 410.5,230.5 435.9,215.5 448.6,200.5 461.3,185.5 478.3,170.5 495.3,155.5 508.0,140.5 524.9,125.5 533.4,110.5 541.9,95.5 554.6,80.5"/>
<polyline points="126.4,365.5 164.5,350.5 190.0,335.5 219.7,320.5 257.8,305.5 283.3,290.5 304.5,275.5 325.7,260.5 363.8,245.5 402.0,230.5 418.9,215.5 440.1,200.5 461.3,185.5 474.1,170.5 482.5,155.5 499.5,140.5 516.5,125.5 524.9,110.5 537.7,95.5 546.1,80.5"/>
<polyline points="126.4,365.5 164.5,350.5 185.7,335.5 211.2,320.5 245.1,305.5 274.8,290.5 312.9,275.5 338.4,260.5 359.6,245.5 393.5,230.5 427.4,215.5 457.1,200.5 465.6,185.5 482.5,170.5 491.0,155.5 503.7,140.5 524.9,125.5 533.4,110.5 541.9,95.5 550.4,80.5"/>
<polyline points="126.4,365.5 168.8,350.5 185.7,335.5 219.7,320.5 257.8,305.5 270.5,290.5 300.2,275.5 334.1,260.5 363.8,245.5 397.7,230.5 427.4,215.5 440.1,200.5 457.1,185.5 478.3,170.5 495.3,155.5 508.0,140.5 516.5,125.5 524.9,110.5 537.7,95.5 546.1,80.5"/>
<polyline points="126.4,365.5 164.5,350.5 181.5,335.5 211.2,320.5 236.6,305.5 262.1,290.5 300.2,275.5 321.4,260.5 342.6,245.5 393.5,230.5 402.0,215.5 418.9,200.5 448.6,185.5 469.8,170.5 482.5,155.5 499.5,140.5 516.5,125.5 524.9,110.5 537.7,95.5 550.4,80.5"/>
<polyline points="126.4,365.5 164.5,350.5 181.5,335.5 215.4,320.5 257.8,305.5 291.7,290.5 304.5,275.5 329.9,260.5 359.6,245.5 406.2,230.5 423.2,215.5 444.4,200.5 457.1,185.5 469.8,170.5 482.5,155.5 491.0,140.5 508.0,125.5 516.5,110.5 529.2,95.5 541.9,80.5"/>
<polyline points="126.4,365.5 164.5,350.5 177.3,335.5 211.2,320.5 249.3,305.5 274.8,290.5 300.2,275.5 312.9,260.5 368.1,245.5 410.5,230.5 423.2,215.5 431.7,200.5 452.9,185.5 474.1,170.5 491.0,155.5 503.7,140.5 520.7,125.5 529.2,110.5 541.9,95.5 550.4,80.5"/>
<polyline points="126.4,365.5 160.3,350.5 185.7,335.5 215.4,320.5 240.9,305.5 266.3,290.5 279.0,275.5 296.0,260.5 351.1,245.5 385.0,230.5 410.5,215.5 427.4,200.5 448.6,185.5 474.1,170.5 491.0,155.5 508.0,140.5 524.9,125.5 529.2,110.5 541.9,95.5 554.6,80.5"/>
<polyline points="126.4,365.5 168.8,350.5 190.0,335.5 228.1,320.5 253.6,305.5 279.0,290.5 296.0,275.5 346.9,260.5 368.1,245.5 397.7,230.5 440.1,215.5 448.6,200.5 461.3,185.5 482.5,170.5 495.3,155.5 508.0,140.5 520.7,125.5 533.4,110.5 537.7,95.5 550.4,80.5"/>
<polyline points="126.4,365.5 164.5,350.5 181.5,335.5 219.7,320.5 253.6,305.5 262.1,290.5 291.7,275.5 321.4,260.5 368.1,245.5 406.2,230.5 427.4,215.5 444.4,200.5 461.3,185.5 482.5,170.5 491.0,155.5 508.0,140.5 524.9,125.5 529.2,110.5 537.7,95.5 550.4,80.5"/>
<polyline points="126.4,365.5 160.3,350.5 185.7,335.5 215.4,320.5 257.8,305.5 279.0,290.5 304.5,275.5 346.9,260.5 363.8,245.5 389.3,230.5 414.7,215.5 435.9,200.5 457.1,185.5 474.1,170.5 491.0,155.5 503.7,140.5 520.7,125.5 529.2,110.5 537.7,95.5 546.1,80.5"/>
<polyline points="126.4,365.5 156.1,350.5 177.3,335.5 206.9,320.5 249.3,305.5 270.5,290.5 312.9,275.5 355.3,260.5 376.5,245.5 410.5,230.5 435.9,215.5 444.4,200.5 461.3,185.5 474.1,170.5 491.0,155.5 503.7,140.5 524.9,125.5 533.4,110.5 541.9,95.5 554.6,80.5"/>
<polyline points="126.4,365.5 164.5,350.5 173.0,335.5 185.7,320.5 232.4,305.5 279.0,290.5 304.5,275.5 334.1,260.5 355.3,245.5 397.7,230.5 423.2,215.5 435.9,200.5 457.1,185.5 474.1,170.5 491.0,155.5 499.5,140.5 512.2,125.5 524.9,110.5 537.7,95.5 546.1,80.5"/>
<polyline points="126.4,365.5 160.3,350.5 181.5,335.5 215.4,320.5 262.1,305.5 274.8,290.5 304.5,275.5 329.9,260.5 372.3,245.5 418.9,230.5 423.2,215.5 440.1,200.5 461.3,185.5 474.1,170.5 499.5,155.5 512.2,140.5 529.2,125.5 533.4,110.5 546.1,95.5 558.9,80.5"/>
<polyline points="126.4,365.5 164.5,350.5 181.5,335.5 206.9,320.5 232.4,305.5 249.3,290.5 279.0,275.5 317.2,260.5 342.6,245.5 402.0,230.5 440.1,215.5 448.6,200.5 461.3,185.5 478.3,170.5 491.0,155.5 512.2,140.5 520.7,125.5 529.2,110.5 541.9,95.5 546.1,80.5"/>
<polyline points="126.4,365.5 156.1,350.5 181.5,335.5 215.4,320.5 262.1,305.5 291.7,290.5 317.2,275.5 338.4,260.5 355.3,245.5 389.3,230.5 414.7,215.5 435.9,200.5 452.9,185.5 474.1,170.5 486.8,155.5 499.5,140.5 516.5,125.5 529.2,110.5 537.7,95.5 541.9,80.5"/>
<polyline points="126.4,365.5 164.5,350.5 185.7,335.5 215.4,320.5 240.9,305.5 262.1,290.5 283.3,275.5 317.2,260.5 346.9,245.5 393.5,230.5 427.4,215.5 444.4,200.5 461.3,185.5 482.5,170.5 495.3,155.5 503.7,140.5 520.7,125.5 537.7,110.5 541.9,95.5 550.4,80.5"/>
<polyline points="126.4,365.5 160.3,350.5 173.0,335.5 211.2,320.5 245.1,305.5 270.5,290.5 300.2,275.5 334.1,260.5 359.6,245.5 402.0,230.5 423.2,215.5 444.4,200.5 461.3,185.5 474.1,170.5 499.5,155.5 508.0,140.5 516.5,125.5 529.2,110.5 541.9,95.5 550.4,80.5"/>
<polyline points="126.4,365.5 168.8,350.5 190.0,335.5 223.9,320.5 253.6,305.5 270.5,290.5 300.2,275.5 342.6,260.5 363.8,245.5 397.7,230.5 423.2,215.5 440.1,200.5 457.1,185.5 478.3,170.5 491.0,155.5 503.7,140.5 520.7,125.5 529.2,110.5 533.4,95.5 546.1,80.5"/>
<polyline points="126.4,365.5 164.5,350.5 181.5,335.5 219.7,320.5 257.8,305.5 279.0,290.5 312.9,275.5 338.4,260.5 376.5,245.5 410.5,230.5 440.1,215.5 457.1,200.5 469.8,185.5 478.3,170.5 499.5,155.5 503.7,140.5 520.7,125.5 529.2,110.5 533.4,95.5 546.1,80.5"/>
<polyline points="126.4,365.5 156.1,350.5 181.5,335.5 206.9,320.5 245.1,305.5 266.3,290.5 304.5,275.5 329.9,260.5 363.8,245.5 410.5,230.5 427.4,215.5 452.9,200.5 469.8,185.5 482.5,170.5 495.3,155.5 503.7,140.5 520.7,125.5 533.4,110.5 537.7,95.5 550.4,80.5"/>
<polyline points="126.4,365.5 173.0,350.5 194.2,335.5 223.9,320.5 257.8,305.5 274.8,290.5 300.2,275.5 317.2,260.5 368.1,245.5 393.5,230.5 414.7,215.5 440.1,200.5 465.6,185.5 478.3,170.5 499.5,155.5 503.7,140.5 520.7,125.5 533.4,110.5 541.9,95.5 550.4,80.5"/>
<polyline points="126.4,365.5 160.3,350.5 177.3,335.5 215.4,320.5 253.6,305.5 279.0,290.5 308.7,275.5 351.1,260.5 359.6,245.5 397.7,230.5 414.7,215.5 444.4,200.5 465.6,185.5 482.5,170.5 491.0,155.5 503.7,140.5 516.5,125.5 529.2,110.5 537.7,95.5 550.4,80.5"/>
<polyline points="126.4,365.5 168.8,350.5 185.7,335.5 223.9,320.5 245.1,305.5 279.0,290.5 325.7,275.5 342.6,260.5 372.3,245.5 402.0,230.5 431.7,215.5 440.1,200.5 452.9,185.5 478.3,170.5 491.0,155.5 508.0,140.5 512.2,125.5 520.7,110.5 529.2,95.5 541.9,80.5"/>
<polyline points="126.4,365.5 164.5,350.5 185.7,335.5 223.9,320.5 249.3,305.5 262.1,290.5 296.0,275.5 325.7,260.5 359.6,245.5 385.0,230.5 418.9,215.5 452.9,200.5 465.6,185.5 478.3,170.5 495.3,155.5 508.0,140.5 516.5,125.5 529.2,110.5 541.9,95.5 546.1,80.5"/>
<polyline points="126.4,365.5 160.3,350.5 173.0,335.5 202.7,320.5 236.6,305.5 270.5,290.5 312.9,275.5 334.1,260.5 355.3,245.5 389.3,230.5 423.2,215.5 448.6,200.5 465.6,185.5 486.8,170.5 503.7,155.5 516.5,140.5 524.9,125.5 533.4,110.5 541.9,95.5 550.4,80.5"/>
<polyline points="126.4,365.5 160.3,350.5 181.5,335.5 223.9,320.5 257.8,305.5 279.0,290.5 296.0,275.5 325.7,260.5 351.1,245.5 402.0,230.5 414.7,215.5 444.4,200.5 469.8,185.5 486.8,170.5 495.3,155.5 512.2,140.5 520.7,125.5 533.4,110.5 537.7,95.5 550.4,80.5"/>
<polyline points="126.4,365.5 168.8,350.5 190.0,335.5 223.9,320.5 257.8,305.5 287.5,290.5 317.2,275.5 346.9,260.5 359.6,245.5 406.2,230.5 435.9,215.5 452.9,200.5 469.8,185.5 482.5,170.5 503.7,155.5 512.2,140.5 520.7,125.5 529.2,110.5 541.9,95.5 550.4,80.5"/>
<polyline points="126.4,365.5 168.8,350.5 177.3,335.5 206.9,320.5 249.3,305.5 266.3,290.5 296.0,275.5 321.4,260.5 355.3,245.5 406.2,230.5 418.9,215.5 435.9,200.5 457.1,185.5 478.3,170.5 495.3,155.5 499.5,140.5 516.5,125.5 529.2,110.5 537.7,95.5 550.4,80.5"/>
<polyline points="126.4,365.5 168.8,350.5 177.3,335.5 215.4,320.5 266.3,305.5 300.2,290.5 325.7,275.5 346.9,260.5 380.8,245.5 427.4,230.5 427.4,215.5 440.1,200.5 461.3,185.5 482.5,170.5 495.3,155.5 503.7,140.5 516.5,125.5 524.9,110.5 537.7,95.5 550.4,80.5"/>
<polyline points="126.4,365.5 160.3,350.5 173.0,335.5 211.2,320.5 253.6,305.5 300.2,290.5 317.2,275.5 342.6,260.5 368.1,245.5 423.2,230.5 435.9,215.5 452.9,200.5 457.1,185.5 482.5,170.5 491.0,155.5 512.2,140.5 524.9,125.5 533.4,110.5 541.9,95.5 554.6,80.5"/>
<polyline points="126.4,365.5 164.5,350.5 185.7,335.5 219.7,320.5 236.6,305.5 266.3,290.5 300.2,275.5 338.4,260.5 368.1,245.5 397.7,230.5 431.7,215.5 457.1,200.5 465.6,185.5 486.8,170.5 495.3,155.5 512.2,140.5 524.9,125.5 529.2,110.5 541.9,95.5 550.4,80.5"/>
<polyline points="126.4,365.5 168.8,350.5 185.7,335.5 223.9,320.5 249.3,305.5 266.3,290.5 312.9,275.5 346.9,260.5 363.8,245.5 406.2,230.5 423.2,215.5 444.4,200.5 474.1,185.5 482.5,170.5 499.5,155.5 508.0,140.5 524.9,125.5 533.4,110.5 546.1,95.5 550.4,80.5"/>
<polyline points="126.4,365.5 164.5,350.5 190.0,335.5 202.7,320.5 245.1,305.5 262.1,290.5 300.2,275.5 334.1,260.5 368.1,245.5 406.2,230.5 440.1,215.5 457.1,200.5 469.8,185.5 474.1,170.5 486.8,155.5 503.7,140.5 516.5,125.5 524.9,110.5 537.7,95.5 550.4,80.5"/>
<polyline points="126.4,365.5 173.0,350.5 194.2,335.5 219.7,320.5 262.1,305.5 266.3,290.5 300.2,275.5 329.9,260.5 355.3,245.5 402.0,230.5 427.4,215.5 435.9,200.5 461.3,185.5 478.3,170.5 495.3,155.5 503.7,140.5 516.5,125.5 533.4,110.5 546.1,95.5 554.6,80.5"/>
<polyline points="126.4,365.5 160.3,350.5 177.3,335.5 211.2,320.5 240.9,305.5 270.5,290.5 296.0,275.5 338.4,260.5 359.6,245.5 389.3,230.5 414.7,215.5 435.9,200.5 457.1,185.5 482.5,170.5 499.5,155.5 508.0,140.5 516.5,125.5 529.2,110.5 541.9,95.5 550.4,80.5"/>
<polyline points="126.4,365.5 160.3,350.5 177.3,335.5 223.9,320.5 257.8,305.5 262.1,290.5 274.8,275.5 321.4,260.5 355.3,245.5 397.7,230.5 423.2,215.5 440.1,200.5 469.8,185.5 486.8,170.5 499.5,155.5 508.0,140.5 520.7,125.5 529.2,110.5 537.7,95.5 550.4,80.5"/>
<polyline points="126.4,365.5 164.5,350.5 194.2,335.5 228.1,320.5 245.1,305.5 262.1,290.5 291.7,275.5 321.4,260.5 363.8,245.5 406.2,230.5 423.2,215.5 440.1,200.5 452.9,185.5 482.5,170.5 495.3,155.5 508.0,140.5 520.7,125.5 529.2,110.5 537.7,95.5 546.1,80.5"/>
<polyline points="126.4,365.5 173.0,350.5 198.5,335.5 228.1,320.5 266.3,305.5 279.0,290.5 317.2,275.5 351.1,260.5 380.8,245.5 414.7,230.5 431.7,215.5 440.1,200.5 465.6,185.5 478.3,170.5 491.0,155.5 508.0,140.5 516.5,125.5 529.2,110.5 537.7,95.5 550.4,80.5"/>
<polyline points="126.4,365.5 168.8,350.5 181.5,335.5 215.4,320.5 249.3,305.5 274.8,290.5 300.2,275.5 325.7,260.5 351.1,245.5 402.0,230.5 418.9,215.5 435.9,200.5 461.3,185.5 478.3,170.5 495.3,155.5 508.0,140.5 524.9,125.5 529.2,110.5 546.1,95.5 550.4,80.5"/>
<polyline points="126.4,365.5 164.5,350.5 177.3,335.5 215.4,320.5 245.1,305.5 270.5,290.5 300.2,275.5 338.4,260.5 359.6,245.5 410.5,230.5 435.9,215.5 444.4,200.5 465.6,185.5 482.5,170.5 495.3,155.5 503.7,140.5 516.5,125.5 524.9,110.5 533.4,95.5 546.1,80.5"/>
<polyline points="126.4,365.5 168.8,350.5 194.2,335.5 223.9,320.5 245.1,305.5 279.0,290.5 317.2,275.5 372.3,260.5 393.5,245.5 414.7,230.5 440.1,215.5 457.1,200.5 478.3,185.5 491.0,170.5 503.7,155.5 516.5,140.5 520.7,125.5 533.4,110.5 541.9,95.5 546.1,80.5"/>
<polyline points="126.4,365.5 164.5,350.5 190.0,335.5 219.7,320.5 236.6,305.5 266.3,290.5 317.2,275.5 342.6,260.5 376.5,245.5 397.7,230.5 423.2,215.5 448.6,200.5 461.3,185.5 482.5,170.5 499.5,155.5 512.2,140.5 520.7,125.5 533.4,110.5 546.1,95.5 554.6,80.5"/>
<polyline points="126.4,365.5 160.3,350.5 194.2,335.5 232.4,320.5 270.5,305.5 279.0,290.5 325.7,275.5 346.9,260.5 372.3,245.5 406.2,230.5 431.7,215.5 461.3,200.5 474.1,185.5 482.5,170.5 491.0,155.5 499.5,140.5 516.5,125.5 529.2,110.5 537.7,95.5 546.1,80.5"/>
<polyline points="126.4,365.5 168.8,350.5 190.0,335.5 228.1,320.5 257.8,305.5 274.8,290.5 291.7,275.5 334.1,260.5 363.8,245.5 402.0,230.5 435.9,215.5 444.4,200.5 469.8,185.5 482.5,170.5 499.5,155.5 508.0,140.5 520.7,125.5 529.2,110.5 537.7,95.5 546.1,80.5"/>
<polyline points="126.4,365.5 168.8,350.5 181.5,335.5 215.4,320.5 245.1,305.5 253.6,290.5 304.5,275.5 342.6,260.5 368.1,245.5 397.7,230.5 410.5,215.5 444.4,200.5 465.6,185.5 482.5,170.5 495.3,155.5 512.2,140.5 524.9,125.5 533.4,110.5 541.9,95.5 550.4,80.5"/>
<polyline points="126.4,365.5 168.8,350.5 185.7,335.5 236.6,320.5 262.1,305.5 287.5,290.5 338.4,275.5 363.8,260.5 385.0,245.5 423.2,230.5 440.1,215.5 448.6,200.5 469.8,185.5 478.3,170.5 499.5,155.5 512.2,140.5 520.7,125.5 529.2,110.5 541.9,95.5 550.4,80.5"/>
<polyline points="126.4,365.5 164.5,350.5 185.7,335.5 219.7,320.5 249.3,305.5 283.3,290.5 312.9,275.5 321.4,260.5 351.1,245.5 406.2,230.5 435.9,215.5 444.4,200.5 469.8,185.5 482.5,170.5 499.5,155.5 512.2,140.5 529.2,125.5 537.7,110.5 546.1,95.5 554.6,80.5"/>
<polyline points="126.4,365.5 164.5,350.5 181.5,335.5 215.4,320.5 257.8,305.5 291.7,290.5 325.7,275.5 342.6,260.5 380.8,245.5 414.7,230.5 435.9,215.5 448.6,200.5 465.6,185.5 474.1,170.5 499.5,155.5 512.2,140.5 524.9,125.5 533.4,110.5 541.9,95.5 554.6,80.5"/>
<polyline points="126.4,365.5 160.3,350.5 181.5,335.5 223.9,320.5 257.8,305.5 266.3,290.5 296.0,275.5 325.7,260.5 359.6,245.5 397.7,230.5 418.9,215.5 440.1,200.5 474.1,185.5 495.3,170.5 495.3,155.5 512.2,140.5 520.7,125.5 533.4,110.5 546.1,95.5 550.4,80.5"/>
<polyline points="126.4,365.5 168.8,350.5 194.2,335.5 219.7,320.5 257.8,305.5 270.5,290.5 291.7,275.5 338.4,260.5 372.3,245.5 423.2,230.5 431.7,215.5 440.1,200.5 461.3,185.5 478.3,170.5 495.3,155.5 512.2,140.5 520.7,125.5 533.4,110.5 546.1,95.5 554.6,80.5"/>
<polyline points="126.4,365.5 177.3,350.5 190.0,335.5 232.4,320.5 257.8,305.5 270.5,290.5 317.2,275.5 346.9,260.5 363.8,245.5 402.0,230.5 431.7,215.5 452.9,200.5 465.6,185.5 486.8,170.5 503.7,155.5 503.7,140.5 520.7,125.5 529.2,110.5 533.4,95.5 546.1,80.5"/>
<polyline points="126.4,365.5 164.5,350.5 185.7,335.5 215.4,320.5 249.3,305.5 279.0,290.5 304.5,275.5 325.7,260.5 368.1,245.5 410.5,230.5 427.4,215.5 448.6,200.5 469.8,185.5 491.0,170.5 503.7,155.5 512.2,140.5 524.9,125.5 533.4,110.5 546.1,95.5 554.6,80.5"/>
<polyline points="126.4,365.5 173.0,350.5 194.2,335.5 223.9,320.5 262.1,305.5 274.8,290.5 321.4,275.5 342.6,260.5 380.8,245.5 418.9,230.5 440.1,215.5 448.6,200.5 469.8,185.5 482.5,170.5 499.5,155.5 503.7,140.5 516.5,125.5 529.2,110.5 533.4,95.5 546.1,80.5"/>
<polyline points="126.4,365.5 164.5,350.5 181.5,335.5 223.9,320.5 262.1,305.5 274.8,290.5 312.9,275.5 342.6,260.5 376.5,245.5 410.5,230.5 427.4,215.5 440.1,200.5 465.6,185.5 486.8,170.5 499.5,155.5 512.2,140.5 529.2,125.5 537.7,110.5 541.9,95.5 550.4,80.5"/>
<polyline points="126.4,365.5 173.0,350.5 185.7,335.5 219.7,320.5 262.1,305.5 296.0,290.5 317.2,275.5 334.1,260.5 355.3,245.5 402.0,230.5 418.9,215.5 452.9,200.5 478.3,185.5 486.8,170.5 499.5,155.5 512.2,140.5 520.7,125.5 533.4,110.5 537.7,95.5 546.1,80.5"/>
<polyline points="126.4,365.5 164.5,350.5 185.7,335.5 219.7,320.5 240.9,305.5 274.8,290.5 304.5,275.5 342.6,260.5 380.8,245.5 410.5,230.5 427.4,215.5 461.3,200.5 478.3,185.5 495.3,170.5 508.0,155.5 516.5,140.5 524.9,125.5 537.7,110.5 546.1,95.5 554.6,80.5"/>
<polyline points="126.4,365.5 164.5,350.5 185.7,335.5 211.2,320.5 257.8,305.5 279.0,290.5 308.7,275.5 342.6,260.5 351.1,245.5 397.7,230.5 423.2,215.5 435.9,200.5 457.1,185.5 478.3,170.5 491.0,155.5 508.0,140.5 520.7,125.5 533.4,110.5 541.9,95.5 554.6,80.5"/>
<polyline points="126.4,365.5 173.0,350.5 190.0,335.5 228.1,320.5 274.8,305.5 300.2,290.5 325.7,275.5 338.4,260.5 363.8,245.5 397.7,230.5 431.7,215.5 440.1,200.5 465.6,185.5 478.3,170.5 491.0,155.5 503.7,140.5 516.5,125.5 524.9,110.5 533.4,95.5 546.1,80.5"/>
<polyline points="126.4,365.5 168.8,350.5 190.0,335.5 215.4,320.5 262.1,305.5 291.7,290.5 308.7,275.5 346.9,260.5 368.1,245.5 402.0,230.5 431.7,215.5 448.6,200.5 469.8,185.5 486.8,170.5 495.3,155.5 508.0,140.5 520.7,125.5 533.4,110.5 541.9,95.5 550.4,80.5"/>
<polyline points="126.4,365.5 173.0,350.5 190.0,335.5 236.6,320.5 270.5,305.5 279.0,290.5 321.4,275.5 346.9,260.5 389.3,245.5 418.9,230.5 444.4,215.5 452.9,200.5 469.8,185.5 486.8,170.5 495.3,155.5 508.0,140.5 520.7,125.5 529.2,110.5 541.9,95.5 554.6,80.5"/>
<polyline points="130.6,365.5 168.8,350.5 194.2,335.5 245.1,320.5 257.8,305.5 283.3,290.5 317.2,275.5 342.6,260.5 363.8,245.5 402.0,230.5 444.4,215.5 452.9,200.5 469.8,185.5 495.3,170.5 503.7,155.5 512.2,140.5 520.7,125.5 533.4,110.5 537.7,95.5 550.4,80.5"/>
<polyline points="126.4,365.5 168.8,350.5 185.7,335.5 228.1,320.5 279.0,305.5 312.9,290.5 329.9,275.5 355.3,260.5 376.5,245.5 410.5,230.5 431.7,215.5 444.4,200.5 469.8,185.5 486.8,170.5 499.5,155.5 516.5,140.5 529.2,125.5 537.7,110.5 546.1,95.5 554.6,80.5"/>
<polyline points="126.4,365.5 168.8,350.5 190.0,335.5 223.9,320.5 266.3,305.5 283.3,290.5 312.9,275.5 342.6,260.5 359.6,245.5 389.3,230.5 431.7,215.5 448.6,200.5 469.8,185.5 486.8,170.5 495.3,155.5 512.2,140.5 524.9,125.5 529.2,110.5 541.9,95.5 550.4,80.5"/>
<polyline points="126.4,365.5 168.8,350.5 190.0,335.5 236.6,320.5 262.1,305.5 279.0,290.5 308.7,275.5 329.9,260.5 368.1,245.5 410.5,230.5 427.4,215.5 457.1,200.5 465.6,185.5 486.8,170.5 495.3,155.5 508.0,140.5 520.7,125.5 537.7,110.5 541.9,95.5 550.4,80.5"/>
<polyline points="126.4,365.5 168.8,350.5 202.7,335.5 232.4,320.5 270.5,305.5 287.5,290.5 325.7,275.5 346.9,260.5 376.5,245.5 402.0,230.5 444.4,215.5 452.9,200.5 474.1,185.5 486.8,170.5 495.3,155.5 508.0,140.5 520.7,125.5 529.2,110.5 541.9,95.5 546.1,80.5"/>
<polyline points="126.4,365.5 160.3,350.5 177.3,335.5 219.7,320.5 262.1,305.5 274.8,290.5 296.0,275.5 346.9,260.5 376.5,245.5 418.9,230.5 435.9,215.5 448.6,200.5 482.5,185.5 491.0,170.5 503.7,155.5 520.7,140.5 533.4,125.5 537.7,110.5 546.1,95.5 554.6,80.5"/>
<polyline points="126.4,365.5 173.0,350.5 194.2,335.5 223.9,320.5 257.8,305.5 279.0,290.5 312.9,275.5 346.9,260.5 372.3,245.5 423.2,230.5 444.4,215.5 457.1,200.5 474.1,185.5 482.5,170.5 499.5,155.5 512.2,140.5 524.9,125.5 529.2,110.5 537.7,95.5 550.4,80.5"/>
<polyline points="126.4,365.5 164.5,350.5 177.3,335.5 211.2,320.5 249.3,305.5 274.8,290.5 283.3,275.5 342.6,260.5 368.1,245.5 406.2,230.5 435.9,215.5 452.9,200.5 469.8,185.5 486.8,170.5 503.7,155.5 516.5,140.5 520.7,125.5 533.4,110.5 541.9,95.5 550.4,80.5"/>
<polyline points="126.4,365.5 177.3,350.5 194.2,335.5 232.4,320.5 270.5,305.5 300.2,290.5 321.4,275.5 355.3,260.5 380.8,245.5 406.2,230.5 423.2,215.5 440.1,200.5 465.6,185.5 486.8,170.5 499.5,155.5 512.2,140.5 524.9,125.5 529.2,110.5 546.1,95.5 554.6,80.5"/>
<polyline points="126.4,365.5 168.8,350.5 185.7,335.5 219.7,320.5 253.6,305.5 270.5,290.5 308.7,275.5 355.3,260.5 380.8,245.5 427.4,230.5 435.9,215.5 452.9,200.5 469.8,185.5 486.8,170.5 503.7,155.5 516.5,140.5 529.2,125.5 537.7,110.5 546.1,95.5 554.6,80.5"/>
<polyline points="126.4,365.5 168.8,350.5 190.0,335.5 219.7,320.5 253.6,305.5 287.5,290.5 300.2,275.5 338.4,260.5 372.3,245.5 414.7,230.5 440.1,215.5 448.6,200.5 474.1,185.5 486.8,170.5 503.7,155.5 512.2,140.5 520.7,125.5 533.4,110.5 537.7,95.5 550.4,80.5"/>
<polyline points="126.4,365.5 168.8,350.5 194.2,335.5 228.1,320.5 262.1,305.5 291.7,290.5 317.2,275.5 338.4,260.5 351.1,245.5 406.2,230.5 435.9,215.5 452.9,200.5 469.8,185.5 486.8,170.5 499.5,155.5 516.5,140.5 524.9,125.5 533.4,110.5 541.9,95.5 550.4,80.5"/>
<polyline points="126.4,365.5 164.5,350.5 185.7,335.5 202.7,320.5 253.6,305.5 266.3,290.5 296.0,275.5 346.9,260.5 372.3,245.5 418.9,230.5 448.6,215.5 457.1,200.5 482.5,185.5 499.5,170.5 503.7,155.5 516.5,140.5 529.2,125.5 541.9,110.5 546.1,95.5 554.6,80.5"/>
<polyline points="126.4,365.5 168.8,350.5 190.0,335.5 232.4,320.5 270.5,305.5 296.0,290.5 329.9,275.5 351.1,260.5 376.5,245.5 427.4,230.5 440.1,215.5 461.3,200.5 469.8,185.5 482.5,170.5 499.5,155.5 512.2,140.5 520.7,125.5 529.2,110.5 546.1,95.5 550.4,80.5"/>
<polyline points="126.4,365.5 168.8,350.5 185.7,335.5 211.2,320.5 257.8,305.5 291.7,290.5 321.4,275.5 359.6,260.5 385.0,245.5 414.7,230.5 435.9,215.5 461.3,200.5 478.3,185.5 491.0,170.5 503.7,155.5 512.2,140.5 529.2,125.5 537.7,110.5 546.1,95.5 554.6,80.5"/>
<polyline points="126.4,365.5 168.8,350.5 198.5,335.5 223.9,320.5 262.1,305.5 279.0,290.5 296.0,275.5 334.1,260.5 363.8,245.5 406.2,230.5 431.7,215.5 452.9,200.5 474.1,185.5 491.0,170.5 499.5,155.5 508.0,140.5 524.9,125.5 529.2,110.5 541.9,95.5 550.4,80.5"/>
<polyline points="126.4,365.5 173.0,350.5 185.7,335.5 223.9,320.5 257.8,305.5 287.5,290.5 312.9,275.5 351.1,260.5 393.5,245.5 427.4,230.5 444.4,215.5 457.1,200.5 478.3,185.5 495.3,170.5 508.0,155.5 516.5,140.5 529.2,125.5 537.7,110.5 546.1,95.5 554.6,80.5"/>
<polyline points="126.4,365.5 164.5,350.5 190.0,335.5 236.6,320.5 274.8,305.5 291.7,290.5 300.2,275.5 342.6,260.5 385.0,245.5 418.9,230.5 435.9,215.5 452.9,200.5 465.6,185.5 482.5,170.5 503.7,155.5 516.5,140.5 529.2,125.5 541.9,110.5 546.1,95.5 554.6,80.5"/>
<polyline points="126.4,365.5 164.5,350.5 177.3,335.5 202.7,320.5 253.6,305.5 274.8,290.5 296.0,275.5 334.1,260.5 359.6,245.5 389.3,230.5 423.2,215.5 444.4,200.5 469.8,185.5 486.8,170.5 499.5,155.5 516.5,140.5 529.2,125.5 537.7,110.5 550.4,95.5 558.9,80.5"/>
<polyline points="126.4,365.5 168.8,350.5 190.0,335.5 228.1,320.5 262.1,305.5 274.8,290.5 325.7,275.5 355.3,260.5 376.5,245.5 414.7,230.5 440.1,215.5 461.3,200.5 478.3,185.5 486.8,170.5 503.7,155.5 520.7,140.5 529.2,125.5 541.9,110.5 546.1,95.5 554.6,80.5"/>
<polyline points="126.4,365.5 164.5,350.5 181.5,335.5 232.4,320.5 283.3,305.5 308.7,290.5 325.7,275.5 359.6,260.5 380.8,245.5 414.7,230.5 423.2,215.5 444.4,200.5 469.8,185.5 491.0,170.5 508.0,155.5 512.2,140.5 524.9,125.5 533.4,110.5 537.7,95.5 550.4,80.5"/>
<polyline points="126.4,365.5 168.8,350.5 190.0,335.5 232.4,320.5 270.5,305.5 304.5,290.5 321.4,275.5 351.1,260.5 372.3,245.5 410.5,230.5 431.7,215.5 448.6,200.5 461.3,185.5 486.8,170.5 495.3,155.5 508.0,140.5 520.7,125.5 533.4,110.5 537.7,95.5 546.1,80.5"/>
<polyline points="126.4,365.5 173.0,350.5 194.2,335.5 236.6,320.5 270.5,305.5 291.7,290.5 325.7,275.5 355.3,260.5 368.1,245.5 431.7,230.5 452.9,215.5 461.3,200.5 469.8,185.5 478.3,170.5 499.5,155.5 512.2,140.5 529.2,125.5 541.9,110.5 546.1,95.5 550.4,80.5"/>
<polyline points="126.4,365.5 164.5,350.5 181.5,335.5 219.7,320.5 253.6,305.5 270.5,290.5 325.7,275.5 338.4,260.5 368.1,245.5 410.5,230.5 440.1,215.5 452.9,200.5 469.8,185.5 491.0,170.5 508.0,155.5 516.5,140.5 529.2,125.5 537.7,110.5 546.1,95.5 554.6,80.5"/>
<polyline points="126.4,365.5 164.5,350.5 194.2,335.5 228.1,320.5 270.5,305.5 291.7,290.5 308.7,275.5 334.1,260.5 372.3,245.5 410.5,230.5 440.1,215.5 457.1,200.5 478.3,185.5 491.0,170.5 503.7,155.5 520.7,140.5 533.4,125.5 541.9,110.5 546.1,95.5 554.6,80.5"/>
<polyline points="130.6,365.5 177.3,350.5 194.2,335.5 236.6,320.5 270.5,305.5 287.5,290.5 312.9,275.5 342.6,260.5 363.8,245.5 414.7,230.5 418.9,215.5 448.6,200.5 465.6,185.5 482.5,170.5 499.5,155.5 512.2,140.5 524.9,125.5 533.4,110.5 546.1,95.5 550.4,80.5"/>
<polyline points="126.4,365.5 164.5,350.5 190.0,335.5 215.4,320.5 245.1,305.5 262.1,290.5 304.5,275.5 321.4,260.5 359.6,245.5 402.0,230.5 431.7,215.5 457.1,200.5 474.1,185.5 491.0,170.5 503.7,155.5 520.7,140.5 533.4,125.5 541.9,110.5 546.1,95.5 558.9,80.5"/>
<polyline points="126.4,365.5 164.5,350.5 194.2,335.5 236.6,320.5 274.8,305.5 317.2,290.5 329.9,275.5 351.1,260.5 385.0,245.5 435.9,230.5 457.1,215.5 465.6,200.5 474.1,185.5 482.5,170.5 503.7,155.5 520.7,140.5 529.2,125.5 533.4,110.5 541.9,95.5 550.4,80.5"/>
<polyline points="126.4,365.5 164.5,350.5 185.7,335.5 215.4,320.5 253.6,305.5 283.3,290.5 291.7,275.5 334.1,260.5 372.3,245.5 410.5,230.5 435.9,215.5 452.9,200.5 469.8,185.5 491.0,170.5 503.7,155.5 520.7,140.5 533.4,125.5 541.9,110.5 550.4,95.5 558.9,80.5"/>
<polyline points="126.4,365.5 173.0,350.5 194.2,335.5 228.1,320.5 253.6,305.5 274.8,290.5 300.2,275.5 325.7,260.5 355.3,245.5 410.5,230.5 440.1,215.5 457.1,200.5 474.1,185.5 486.8,170.5 499.5,155.5 516.5,140.5 529.2,125.5 537.7,110.5 546.1,95.5 554.6,80.5"/>
<polyline points="130.6,365.5 177.3,350.5 198.5,335.5 236.6,320.5 266.3,305.5 287.5,290.5 321.4,275.5 342.6,260.5 376.5,245.5 414.7,230.5 440.1,215.5 448.6,200.5 474.1,185.5 495.3,170.5 512.2,155.5 520.7,140.5 529.2,125.5 537.7,110.5 537.7,95.5 550.4,80.5"/>
<polyline points="126.4,365.5 168.8,350.5 198.5,335.5 228.1,320.5 253.6,305.5 270.5,290.5 334.1,275.5 363.8,260.5 385.0,245.5 427.4,230.5 444.4,215.5 452.9,200.5 465.6,185.5 486.8,170.5 503.7,155.5 512.2,140.5 520.7,125.5 529.2,110.5 546.1,95.5 558.9,80.5"/>
<polyline points="126.4,365.5 173.0,350.5 202.7,335.5 240.9,320.5 262.1,305.5 291.7,290.5 317.2,275.5 334.1,260.5 363.8,245.5 402.0,230.5 440.1,215.5 457.1,200.5 474.1,185.5 495.3,170.5 508.0,155.5 520.7,140.5 524.9,125.5 537.7,110.5 546.1,95.5 554.6,80.5"/>
<polyline points="126.4,365.5 177.3,350.5 206.9,335.5 249.3,320.5 274.8,305.5 300.2,290.5 329.9,275.5 363.8,260.5 376.5,245.5 423.2,230.5 444.4,215.5 461.3,200.5 482.5,185.5 495.3,170.5 516.5,155.5 520.7,140.5 529.2,125.5 537.7,110.5 546.1,95.5 554.6,80.5"/>
<polyline points="126.4,365.5 156.1,350.5 185.7,335.5 228.1,320.5 253.6,305.5 279.0,290.5 317.2,275.5 342.6,260.5 376.5,245.5 427.4,230.5 444.4,215.5 457.1,200.5 478.3,185.5 499.5,170.5 520.7,155.5 529.2,140.5 537.7,125.5 550.4,110.5 554.6,95.5 563.1,80.5"/>
<polyline points="126.4,365.5 164.5,350.5 181.5,335.5 219.7,320.5 257.8,305.5 274.8,290.5 300.2,275.5 325.7,260.5 363.8,245.5 389.3,230.5 418.9,215.5 435.9,200.5 461.3,185.5 482.5,170.5 508.0,155.5 516.5,140.5 529.2,125.5 537.7,110.5 546.1,95.5 554.6,80.5"/>
<polyline points="130.6,365.5 177.3,350.5 206.9,335.5 253.6,320.5 279.0,305.5 283.3,290.5 321.4,275.5 351.1,260.5 385.0,245.5 393.5,230.5 431.7,215.5 457.1,200.5 478.3,185.5 491.0,170.5 503.7,155.5 516.5,140.5 524.9,125.5 529.2,110.5 541.9,95.5 550.4,80.5"/>
<polyline points="126.4,365.5 173.0,350.5 194.2,335.5 232.4,320.5 270.5,305.5 291.7,290.5 321.4,275.5 355.3,260.5 372.3,245.5 406.2,230.5 431.7,215.5 452.9,200.5 474.1,185.5 495.3,170.5 508.0,155.5 516.5,140.5 524.9,125.5 533.4,110.5 541.9,95.5 554.6,80.5"/>
<polyline points="126.4,365.5 168.8,350.5 185.7,335.5 215.4,320.5 257.8,305.5 279.0,290.5 317.2,275.5 351.1,260.5 380.8,245.5 423.2,230.5 448.6,215.5 465.6,200.5 482.5,185.5 495.3,170.5 508.0,155.5 524.9,140.5 533.4,125.5 541.9,110.5 550.4,95.5 563.1,80.5"/>
<polyline points="126.4,365.5 160.3,350.5 185.7,335.5 219.7,320.5 249.3,305.5 274.8,290.5 321.4,275.5 334.1,260.5 376.5,245.5 423.2,230.5 452.9,215.5 474.1,200.5 482.5,185.5 495.3,170.5 508.0,155.5 520.7,140.5 533.4,125.5 541.9,110.5 550.4,95.5 558.9,80.5"/>
<polyline points="126.4,365.5 164.5,350.5 198.5,335.5 228.1,320.5 249.3,305.5 283.3,290.5 325.7,275.5 372.3,260.5 393.5,245.5 427.4,230.5 448.6,215.5 461.3,200.5 469.8,185.5 491.0,170.5 512.2,155.5 516.5,140.5 524.9,125.5 537.7,110.5 546.1,95.5 550.4,80.5"/>
<polyline points="126.4,365.5 181.5,350.5 206.9,335.5 249.3,320.5 279.0,305.5 300.2,290.5 342.6,275.5 376.5,260.5 389.3,245.5 414.7,230.5 444.4,215.5 452.9,200.5 465.6,185.5 486.8,170.5 503.7,155.5 508.0,140.5 520.7,125.5 529.2,110.5 537.7,95.5 550.4,80.5"/>
<polyline points="126.4,365.5 173.0,350.5 190.0,335.5 232.4,320.5 279.0,305.5 296.0,290.5 308.7,275.5 351.1,260.5 372.3,245.5 423.2,230.5 440.1,215.5 448.6,200.5 469.8,185.5 491.0,170.5 503.7,155.5 503.7,140.5 520.7,125.5 533.4,110.5 546.1,95.5 554.6,80.5"/>
<polyline points="130.6,365.5 168.8,350.5 202.7,335.5 236.6,320.5 274.8,305.5 304.5,290.5 329.9,275.5 346.9,260.5 385.0,245.5 431.7,230.5 444.4,215.5 457.1,200.5 474.1,185.5 495.3,170.5 508.0,155.5 516.5,140.5 529.2,125.5 537.7,110.5 541.9,95.5 554.6,80.5"/>
<polyline points="126.4,365.5 168.8,350.5 202.7,335.5 253.6,320.5 279.0,305.5 317.2,290.5 317.2,275.5 346.9,260.5 380.8,245.5 427.4,230.5 448.6,215.5 465.6,200.5 482.5,185.5 495.3,170.5 503.7,155.5 520.7,140.5 533.4,125.5 537.7,110.5 546.1,95.5 550.4,80.5"/>
<polyline points="126.4,365.5 173.0,350.5 202.7,335.5 240.9,320.5 274.8,305.5 300.2,290.5 325.7,275.5 368.1,260.5 389.3,245.5 414.7,230.5 452.9,215.5 461.3,200.5 482.5,185.5 486.8,170.5 499.5,155.5 516.5,140.5 529.2,125.5 533.4,110.5 546.1,95.5 558.9,80.5"/>
<polyline points="126.4,365.5 168.8,350.5 181.5,335.5 223.9,320.5 270.5,305.5 279.0,290.5 317.2,275.5 317.2,260.5 359.6,245.5 410.5,230.5 444.4,215.5 474.1,200.5 486.8,185.5 503.7,170.5 516.5,155.5 520.7,140.5 533.4,125.5 541.9,110.5 550.4,95.5 558.9,80.5"/>
<polyline points="130.6,365.5 181.5,350.5 206.9,335.5 245.1,320.5 274.8,305.5 296.0,290.5 338.4,275.5 355.3,260.5 368.1,245.5 410.5,230.5 444.4,215.5 457.1,200.5 469.8,185.5 486.8,170.5 499.5,155.5 508.0,140.5 524.9,125.5 533.4,110.5 541.9,95.5 550.4,80.5"/>
<polyline points="126.4,365.5 168.8,350.5 202.7,335.5 240.9,320.5 274.8,305.5 296.0,290.5 317.2,275.5 342.6,260.5 376.5,245.5 410.5,230.5 435.9,215.5 457.1,200.5 478.3,185.5 491.0,170.5 508.0,155.5 516.5,140.5 533.4,125.5 537.7,110.5 541.9,95.5 554.6,80.5"/>
<polyline points="130.6,365.5 177.3,350.5 198.5,335.5 232.4,320.5 274.8,305.5 300.2,290.5 317.2,275.5 355.3,260.5 376.5,245.5 427.4,230.5 457.1,215.5 478.3,200.5 486.8,185.5 491.0,170.5 503.7,155.5 516.5,140.5 529.2,125.5 541.9,110.5 546.1,95.5 554.6,80.5"/>
<polyline points="126.4,365.5 168.8,350.5 194.2,335.5 232.4,320.5 266.3,305.5 308.7,290.5 338.4,275.5 355.3,260.5 368.1,245.5 402.0,230.5 431.7,215.5 461.3,200.5 478.3,185.5 495.3,170.5 512.2,155.5 520.7,140.5 529.2,125.5 537.7,110.5 546.1,95.5 558.9,80.5"/>
<polyline points="126.4,365.5 173.0,350.5 190.0,335.5 228.1,320.5 262.1,305.5 291.7,290.5 321.4,275.5 368.1,260.5 389.3,245.5 427.4,230.5 448.6,215.5 461.3,200.5 474.1,185.5 491.0,170.5 508.0,155.5 516.5,140.5 524.9,125.5 533.4,110.5 541.9,95.5 550.4,80.5"/>
<polyline points="126.4,365.5 177.3,350.5 194.2,335.5 232.4,320.5 266.3,305.5 300.2,290.5 329.9,275.5 355.3,260.5 376.5,245.5 410.5,230.5 435.9,215.5 457.1,200.5 474.1,185.5 495.3,170.5 512.2,155.5 524.9,140.5 524.9,125.5 537.7,110.5 550.4,95.5 558.9,80.5"/>
<polyline points="126.4,365.5 173.0,350.5 185.7,335.5 223.9,320.5 257.8,305.5 287.5,290.5 312.9,275.5 342.6,260.5 380.8,245.5 418.9,230.5 427.4,215.5 457.1,200.5 482.5,185.5 499.5,170.5 512.2,155.5 520.7,140.5 533.4,125.5 541.9,110.5 550.4,95.5 558.9,80.5"/>
<polyline points="126.4,365.5 168.8,350.5 190.0,335.5 215.4,320.5 249.3,305.5 279.0,290.5 287.5,275.5 329.9,260.5 363.8,245.5 410.5,230.5 435.9,215.5 444.4,200.5 469.8,185.5 491.0,170.5 503.7,155.5 512.2,140.5 524.9,125.5 533.4,110.5 546.1,95.5 554.6,80.5"/>
<polyline points="130.6,365.5 177.3,350.5 202.7,335.5 236.6,320.5 283.3,305.5 296.0,290.5 325.7,275.5 342.6,260.5 368.1,245.5 410.5,230.5 435.9,215.5 452.9,200.5 465.6,185.5 486.8,170.5 503.7,155.5 516.5,140.5 520.7,125.5 533.4,110.5 541.9,95.5 550.4,80.5"/>
<polyline points="130.6,365.5 177.3,350.5 202.7,335.5 232.4,320.5 266.3,305.5 304.5,290.5 325.7,275.5 351.1,260.5 380.8,245.5 423.2,230.5 465.6,215.5 478.3,200.5 486.8,185.5 503.7,170.5 512.2,155.5 524.9,140.5 537.7,125.5 541.9,110.5 550.4,95.5 558.9,80.5"/>
<polyline points="126.4,365.5 173.0,350.5 194.2,335.5 223.9,320.5 266.3,305.5 296.0,290.5 329.9,275.5 359.6,260.5 393.5,245.5 423.2,230.5 435.9,215.5 457.1,200.5 474.1,185.5 491.0,170.5 508.0,155.5 520.7,140.5 524.9,125.5 537.7,110.5 550.4,95.5 558.9,80.5"/>
<polyline points="126.4,365.5 173.0,350.5 194.2,335.5 232.4,320.5 266.3,305.5 291.7,290.5 334.1,275.5 363.8,260.5 397.7,245.5 427.4,230.5 440.1,215.5 457.1,200.5 474.1,185.5 499.5,170.5 512.2,155.5 524.9,140.5 537.7,125.5 541.9,110.5 550.4,95.5 554.6,80.5"/>
<polyline points="126.4,365.5 168.8,350.5 198.5,335.5 236.6,320.5 279.0,305.5 291.7,290.5 321.4,275.5 359.6,260.5 385.0,245.5 414.7,230.5 448.6,215.5 465.6,200.5 482.5,185.5 495.3,170.5 503.7,155.5 520.7,140.5 537.7,125.5 541.9,110.5 550.4,95.5 554.6,80.5"/>
<polyline points="126.4,365.5 164.5,350.5 194.2,335.5 223.9,320.5 279.0,305.5 296.0,290.5 334.1,275.5 355.3,260.5 385.0,245.5 418.9,230.5 440.1,215.5 474.1,200.5 486.8,185.5 499.5,170.5 512.2,155.5 524.9,140.5 533.4,125.5 541.9,110.5 550.4,95.5 558.9,80.5"/>
<polyline points="126.4,365.5 173.0,350.5 194.2,335.5 232.4,320.5 262.1,305.5 279.0,290.5 321.4,275.5 355.3,260.5 372.3,245.5 423.2,230.5 444.4,215.5 461.3,200.5 482.5,185.5 499.5,170.5 508.0,155.5 520.7,140.5 529.2,125.5 537.7,110.5 546.1,95.5 558.9,80.5"/>
<polyline points="126.4,365.5 168.8,350.5 194.2,335.5 232.4,320.5 270.5,305.5 291.7,290.5 312.9,275.5 338.4,260.5 368.1,245.5 414.7,230.5 444.4,215.5 457.1,200.5 478.3,185.5 495.3,170.5 508.0,155.5 520.7,140.5 533.4,125.5 541.9,110.5 550.4,95.5 558.9,80.5"/>
<polyline points="126.4,365.5 177.3,350.5 202.7,335.5 236.6,320.5 279.0,305.5 304.5,290.5 329.9,275.5 355.3,260.5 368.1,245.5 418.9,230.5 448.6,215.5 452.9,200.5 469.8,185.5 491.0,170.5 503.7,155.5 520.7,140.5 533.4,125.5 537.7,110.5 550.4,95.5 558.9,80.5"/>
<polyline points="126.4,365.5 168.8,350.5 185.7,335.5 206.9,320.5 240.9,305.5 270.5,290.5 300.2,275.5 338.4,260.5 372.3,245.5 423.2,230.5 435.9,215.5 465.6,200.5 478.3,185.5 495.3,170.5 512.2,155.5 520.7,140.5 533.4,125.5 541.9,110.5 550.4,95.5 563.1,80.5"/>
<polyline points="126.4,365.5 168.8,350.5 194.2,335.5 232.4,320.5 266.3,305.5 287.5,290.5 321.4,275.5 334.1,260.5 368.1,245.5 418.9,230.5 431.7,215.5 457.1,200.5 469.8,185.5 486.8,170.5 503.7,155.5 520.7,140.5 524.9,125.5 537.7,110.5 546.1,95.5 550.4,80.5"/>
<polyline points="126.4,365.5 164.5,350.5 194.2,335.5 228.1,320.5 270.5,305.5 308.7,290.5 338.4,275.5 363.8,260.5 376.5,245.5 414.7,230.5 435.9,215.5 452.9,200.5 482.5,185.5 495.3,170.5 508.0,155.5 520.7,140.5 533.4,125.5 541.9,110.5 554.6,95.5 563.1,80.5"/>
<polyline points="130.6,365.5 168.8,350.5 198.5,335.5 240.9,320.5 262.1,305.5 296.0,290.5 334.1,275.5 368.1,260.5 376.5,245.5 414.7,230.5 452.9,215.5 469.8,200.5 486.8,185.5 491.0,170.5 503.7,155.5 516.5,140.5 529.2,125.5 537.7,110.5 546.1,95.5 554.6,80.5"/>
<polyline points="126.4,365.5 177.3,350.5 202.7,335.5 236.6,320.5 270.5,305.5 279.0,290.5 325.7,275.5 334.1,260.5 363.8,245.5 414.7,230.5 444.4,215.5 457.1,200.5 478.3,185.5 495.3,170.5 508.0,155.5 520.7,140.5 529.2,125.5 533.4,110.5 541.9,95.5 554.6,80.5"/>
<polyline points="130.6,365.5 173.0,350.5 202.7,335.5 240.9,320.5 274.8,305.5 300.2,290.5 334.1,275.5 368.1,260.5 389.3,245.5 431.7,230.5 444.4,215.5 457.1,200.5 469.8,185.5 491.0,170.5 508.0,155.5 516.5,140.5 533.4,125.5 541.9,110.5 546.1,95.5 554.6,80.5"/>
<polyline points="126.4,365.5 168.8,350.5 190.0,335.5 228.1,320.5 257.8,305.5 317.2,290.5 325.7,275.5 342.6,260.5 380.8,245.5 414.7,230.5 440.1,215.5 465.6,200.5 478.3,185.5 491.0,170.5 503.7,155.5 512.2,140.5 533.4,125.5 537.7,110.5 546.1,95.5 558.9,80.5"/>
<polyline points="126.4,365.5 164.5,350.5 190.0,335.5 253.6,320.5 279.0,305.5 296.0,290.5 308.7,275.5 334.1,260.5 380.8,245.5 431.7,230.5 452.9,215.5 461.3,200.5 486.8,185.5 499.5,170.5 512.2,155.5 524.9,140.5 537.7,125.5 546.1,110.5 550.4,95.5 558.9,80.5"/>
<polyline points="130.6,365.5 181.5,350.5 202.7,335.5 240.9,320.5 266.3,305.5 287.5,290.5 321.4,275.5 355.3,260.5 363.8,245.5 402.0,230.5 423.2,215.5 452.9,200.5 478.3,185.5 495.3,170.5 503.7,155.5 516.5,140.5 520.7,125.5 537.7,110.5 546.1,95.5 550.4,80.5"/>
<polyline points="126.4,365.5 173.0,350.5 185.7,335.5 236.6,320.5 262.1,305.5 283.3,290.5 329.9,275.5 355.3,260.5 368.1,245.5 418.9,230.5 457.1,215.5 465.6,200.5 482.5,185.5 499.5,170.5 512.2,155.5 524.9,140.5 529.2,125.5 541.9,110.5 550.4,95.5 558.9,80.5"/>
<polyline points="130.6,365.5 177.3,350.5 206.9,335.5 240.9,320.5 283.3,305.5 308.7,290.5 346.9,275.5 359.6,260.5 376.5,245.5 406.2,230.5 440.1,215.5 457.1,200.5 474.1,185.5 491.0,170.5 499.5,155.5 512.2,140.5 520.7,125.5 533.4,110.5 541.9,95.5 554.6,80.5"/>
<polyline points="126.4,365.5 177.3,350.5 202.7,335.5 240.9,320.5 266.3,305.5 308.7,290.5 325.7,275.5 346.9,260.5 363.8,245.5 406.2,230.5 431.7,215.5 448.6,200.5 469.8,185.5 491.0,170.5 508.0,155.5 520.7,140.5 533.4,125.5 546.1,110.5 554.6,95.5 563.1,80.5"/>
<polyline points="126.4,365.5 177.3,350.5 194.2,335.5 240.9,320.5 291.7,305.5 317.2,290.5 351.1,275.5 372.3,260.5 389.3,245.5 418.9,230.5 444.4,215.5 452.9,200.5 474.1,185.5 486.8,170.5 499.5,155.5 516.5,140.5 529.2,125.5 541.9,110.5 550.4,95.5 554.6,80.5"/>
<polyline points="126.4,365.5 177.3,350.5 202.7,335.5 236.6,320.5 262.1,305.5 291.7,290.5 321.4,275.5 338.4,260.5 376.5,245.5 410.5,230.5 448.6,215.5 469.8,200.5 478.3,185.5 499.5,170.5 512.2,155.5 524.9,140.5 537.7,125.5 546.1,110.5 550.4,95.5 558.9,80.5"/>
<polyline points="126.4,365.5 168.8,350.5 190.0,335.5 219.7,320.5 249.3,305.5 279.0,290.5 291.7,275.5 342.6,260.5 389.3,245.5 423.2,230.5 457.1,215.5 469.8,200.5 486.8,185.5 508.0,170.5 520.7,155.5 533.4,140.5 541.9,125.5 546.1,110.5 554.6,95.5 563.1,80.5"/>
<polyline points="126.4,365.5 168.8,350.5 190.0,335.5 240.9,320.5 287.5,305.5 291.7,290.5 321.4,275.5 355.3,260.5 389.3,245.5 418.9,230.5 431.7,215.5 448.6,200.5 469.8,185.5 491.0,170.5 503.7,155.5 516.5,140.5 533.4,125.5 541.9,110.5 550.4,95.5 558.9,80.5"/>
<polyline points="130.6,365.5 177.3,350.5 198.5,335.5 223.9,320.5 257.8,305.5 287.5,290.5 325.7,275.5 363.8,260.5 402.0,245.5 418.9,230.5 448.6,215.5 465.6,200.5 482.5,185.5 499.5,170.5 508.0,155.5 520.7,140.5 529.2,125.5 537.7,110.5 541.9,95.5 554.6,80.5"/>
<polyline points="126.4,365.5 164.5,350.5 185.7,335.5 219.7,320.5 249.3,305.5 283.3,290.5 338.4,275.5 372.3,260.5 385.0,245.5 418.9,230.5 444.4,215.5 474.1,200.5 486.8,185.5 499.5,170.5 508.0,155.5 520.7,140.5 529.2,125.5 541.9,110.5 550.4,95.5 558.9,80.5"/>
<polyline points="130.6,365.5 181.5,350.5 202.7,335.5 245.1,320.5 291.7,305.5 317.2,290.5 338.4,275.5 368.1,260.5 397.7,245.5 440.1,230.5 465.6,215.5 482.5,200.5 486.8,185.5 499.5,170.5 508.0,155.5 520.7,140.5 533.4,125.5 541.9,110.5 550.4,95.5 558.9,80.5"/>
<polyline points="126.4,365.5 168.8,350.5 198.5,335.5 232.4,320.5 274.8,305.5 300.2,290.5 329.9,275.5 346.9,260.5 380.8,245.5 414.7,230.5 452.9,215.5 461.3,200.5 474.1,185.5 495.3,170.5 508.0,155.5 524.9,140.5 537.7,125.5 541.9,110.5 550.4,95.5 563.1,80.5"/>
<polyline points="126.4,365.5 173.0,350.5 198.5,335.5 236.6,320.5 262.1,305.5 291.7,290.5 312.9,275.5 342.6,260.5 376.5,245.5 418.9,230.5 452.9,215.5 457.1,200.5 474.1,185.5 495.3,170.5 508.0,155.5 520.7,140.5 537.7,125.5 546.1,110.5 550.4,95.5 563.1,80.5"/>
<polyline points="126.4,365.5 177.3,350.5 190.0,335.5 228.1,320.5 266.3,305.5 291.7,290.5 325.7,275.5 359.6,260.5 393.5,245.5 440.1,230.5 465.6,215.5 478.3,200.5 486.8,185.5 503.7,170.5 512.2,155.5 520.7,140.5 529.2,125.5 546.1,110.5 554.6,95.5 563.1,80.5"/>
<polyline points="126.4,365.5 173.0,350.5 202.7,335.5 245.1,320.5 274.8,305.5 312.9,290.5 334.1,275.5 363.8,260.5 397.7,245.5 440.1,230.5 457.1,215.5 461.3,200.5 478.3,185.5 491.0,170.5 512.2,155.5 529.2,140.5 537.7,125.5 550.4,110.5 554.6,95.5 563.1,80.5"/>
<polyline points="126.4,365.5 168.8,350.5 194.2,335.5 236.6,320.5 274.8,305.5 312.9,290.5 338.4,275.5 355.3,260.5 389.3,245.5 431.7,230.5 444.4,215.5 474.1,200.5 482.5,185.5 495.3,170.5 508.0,155.5 524.9,140.5 537.7,125.5 546.1,110.5 554.6,95.5 563.1,80.5"/>
<polyline points="126.4,365.5 177.3,350.5 194.2,335.5 245.1,320.5 283.3,305.5 296.0,290.5 334.1,275.5 359.6,260.5 380.8,245.5 414.7,230.5 435.9,215.5 452.9,200.5 482.5,185.5 495.3,170.5 516.5,155.5 524.9,140.5 537.7,125.5 550.4,110.5 554.6,95.5 554.6,80.5"/>
<polyline points="126.4,365.5 168.8,350.5 190.0,335.5 223.9,320.5 262.1,305.5 300.2,290.5 334.1,275.5 368.1,260.5 380.8,245.5 427.4,230.5 457.1,215.5 465.6,200.5 482.5,185.5 503.7,170.5 520.7,155.5 524.9,140.5 537.7,125.5 546.1,110.5 550.4,95.5 563.1,80.5"/>
<polyline points="126.4,365.5 173.0,350.5 198.5,335.5 236.6,320.5 274.8,305.5 291.7,290.5 325.7,275.5 351.1,260.5 380.8,245.5 410.5,230.5 444.4,215.5 452.9,200.5 474.1,185.5 495.3,170.5 503.7,155.5 516.5,140.5 533.4,125.5 537.7,110.5 546.1,95.5 558.9,80.5"/>
<polyline points="126.4,365.5 173.0,350.5 198.5,335.5 232.4,320.5 283.3,305.5 317.2,290.5 351.1,275.5 355.3,260.5 397.7,245.5 431.7,230.5 452.9,215.5 469.8,200.5 482.5,185.5 503.7,170.5 512.2,155.5 529.2,140.5 537.7,125.5 541.9,110.5 550.4,95.5 563.1,80.5"/>
<polyline points="130.6,365.5 181.5,350.5 206.9,335.5 236.6,320.5 274.8,305.5 291.7,290.5 329.9,275.5 359.6,260.5 376.5,245.5 414.7,230.5 435.9,215.5 452.9,200.5 482.5,185.5 499.5,170.5 508.0,155.5 520.7,140.5 533.4,125.5 541.9,110.5 550.4,95.5 554.6,80.5"/>
<polyline points="126.4,365.5 168.8,350.5 198.5,335.5 240.9,320.5 283.3,305.5 300.2,290.5 329.9,275.5 359.6,260.5 372.3,245.5 423.2,230.5 444.4,215.5 469.8,200.5 491.0,185.5 503.7,170.5 516.5,155.5 520.7,140.5 533.4,125.5 541.9,110.5 550.4,95.5 558.9,80.5"/>
<polyline points="126.4,365.5 168.8,350.5 190.0,335.5 236.6,320.5 283.3,305.5 312.9,290.5 334.1,275.5 355.3,260.5 380.8,245.5 431.7,230.5 448.6,215.5 465.6,200.5 474.1,185.5 495.3,170.5 512.2,155.5 529.2,140.5 546.1,125.5 550.4,110.5 558.9,95.5 567.3,80.5"/>
<polyline points="130.6,365.5 177.3,350.5 194.2,335.5 240.9,320.5 262.1,305.5 287.5,290.5 329.9,275.5 346.9,260.5 376.5,245.5 423.2,230.5 452.9,215.5 452.9,200.5 478.3,185.5 499.5,170.5 512.2,155.5 520.7,140.5 533.4,125.5 541.9,110.5 550.4,95.5 558.9,80.5"/>
<polyline points="130.6,365.5 177.3,350.5 202.7,335.5 236.6,320.5 262.1,305.5 291.7,290.5 334.1,275.5 351.1,260.5 372.3,245.5 423.2,230.5 461.3,215.5 474.1,200.5 491.0,185.5 503.7,170.5 520.7,155.5 524.9,140.5 537.7,125.5 537.7,110.5 546.1,95.5 554.6,80.5"/>
<polyline points="126.4,365.5 168.8,350.5 190.0,335.5 228.1,320.5 266.3,305.5 296.0,290.5 321.4,275.5 368.1,260.5 393.5,245.5 435.9,230.5 457.1,215.5 461.3,200.5 486.8,185.5 499.5,170.5 512.2,155.5 524.9,140.5 533.4,125.5 541.9,110.5 550.4,95.5 558.9,80.5"/>
<polyline points="126.4,365.5 173.0,350.5 194.2,335.5 240.9,320.5 266.3,305.5 300.2,290.5 317.2,275.5 355.3,260.5 385.0,245.5 427.4,230.5 461.3,215.5 478.3,200.5 486.8,185.5 503.7,170.5 512.2,155.5 529.2,140.5 537.7,125.5 541.9,110.5 550.4,95.5 563.1,80.5"/>
<polyline points="130.6,365.5 181.5,350.5 206.9,335.5 240.9,320.5 266.3,305.5 308.7,290.5 325.7,275.5 359.6,260.5 389.3,245.5 440.1,230.5 465.6,215.5 482.5,200.5 491.0,185.5 499.5,170.5 520.7,155.5 529.2,140.5 537.7,125.5 550.4,110.5 554.6,95.5 563.1,80.5"/>
<polyline points="126.4,365.5 168.8,350.5 198.5,335.5 249.3,320.5 270.5,305.5 317.2,290.5 342.6,275.5 376.5,260.5 389.3,245.5 427.4,230.5 435.9,215.5 457.1,200.5 486.8,185.5 499.5,170.5 520.7,155.5 529.2,140.5 541.9,125.5 546.1,110.5 554.6,95.5 563.1,80.5"/>
<polyline points="126.4,365.5 173.0,350.5 194.2,335.5 236.6,320.5 266.3,305.5 296.0,290.5 329.9,275.5 355.3,260.5 376.5,245.5 423.2,230.5 457.1,215.5 461.3,200.5 482.5,185.5 495.3,170.5 508.0,155.5 524.9,140.5 537.7,125.5 546.1,110.5 550.4,95.5 563.1,80.5"/>
<polyline points="126.4,365.5 168.8,350.5 185.7,335.5 232.4,320.5 262.1,305.5 283.3,290.5 329.9,275.5 376.5,260.5 385.0,245.5 423.2,230.5 440.1,215.5 457.1,200.5 478.3,185.5 495.3,170.5 516.5,155.5 524.9,140.5 537.7,125.5 550.4,110.5 558.9,95.5 563.1,80.5"/>
<polyline points="130.6,365.5 168.8,350.5 198.5,335.5 236.6,320.5 262.1,305.5 296.0,290.5 329.9,275.5 342.6,260.5 376.5,245.5 410.5,230.5 444.4,215.5 469.8,200.5 482.5,185.5 491.0,170.5 512.2,155.5 520.7,140.5 529.2,125.5 537.7,110.5 546.1,95.5 554.6,80.5"/>
<polyline points="130.6,365.5 181.5,350.5 206.9,335.5 253.6,320.5 291.7,305.5 317.2,290.5 342.6,275.5 372.3,260.5 402.0,245.5 440.1,230.5 461.3,215.5 478.3,200.5 486.8,185.5 503.7,170.5 512.2,155.5 520.7,140.5 533.4,125.5 546.1,110.5 550.4,95.5 558.9,80.5"/>
<polyline points="126.4,365.5 173.0,350.5 194.2,335.5 236.6,320.5 291.7,305.5 300.2,290.5 351.1,275.5 363.8,260.5 385.0,245.5 427.4,230.5 452.9,215.5 469.8,200.5 482.5,185.5 499.5,170.5 512.2,155.5 524.9,140.5 533.4,125.5 541.9,110.5 550.4,95.5 554.6,80.5"/>
<polyline points="130.6,365.5 177.3,350.5 206.9,335.5 236.6,320.5 274.8,305.5 308.7,290.5 338.4,275.5 368.1,260.5 389.3,245.5 431.7,230.5 461.3,215.5 469.8,200.5 486.8,185.5 499.5,170.5 508.0,155.5 524.9,140.5 533.4,125.5 541.9,110.5 550.4,95.5 558.9,80.5"/>
<polyline points="130.6,365.5 177.3,350.5 202.7,335.5 240.9,320.5 287.5,305.5 296.0,290.5 329.9,275.5 363.8,260.5 389.3,245.5 423.2,230.5 461.3,215.5 482.5,200.5 491.0,185.5 508.0,170.5 516.5,155.5 524.9,140.5 537.7,125.5 546.1,110.5 550.4,95.5 554.6,80.5"/>
<polyline points="130.6,365.5 173.0,350.5 198.5,335.5 236.6,320.5 279.0,305.5 304.5,290.5 325.7,275.5 359.6,260.5 385.0,245.5 427.4,230.5 444.4,215.5 465.6,200.5 486.8,185.5 503.7,170.5 516.5,155.5 529.2,140.5 537.7,125.5 541.9,110.5 546.1,95.5 558.9,80.5"/>
<polyline points="130.6,365.5 181.5,350.5 198.5,335.5 228.1,320.5 279.0,305.5 312.9,290.5 351.1,275.5 368.1,260.5 385.0,245.5 440.1,230.5 465.6,215.5 482.5,200.5 491.0,185.5 508.0,170.5 512.2,155.5 520.7,140.5 533.4,125.5 546.1,110.5 554.6,95.5 563.1,80.5"/>
<polyline points="126.4,365.5 173.0,350.5 185.7,335.5 223.9,320.5 266.3,305.5 300.2,290.5 334.1,275.5 351.1,260.5 389.3,245.5 418.9,230.5 448.6,215.5 469.8,200.5 491.0,185.5 508.0,170.5 520.7,155.5 529.2,140.5 537.7,125.5 546.1,110.5 550.4,95.5 558.9,80.5"/>
<polyline points="130.6,365.5 177.3,350.5 194.2,335.5 228.1,320.5 262.1,305.5 296.0,290.5 329.9,275.5 363.8,260.5 402.0,245.5 440.1,230.5 465.6,215.5 482.5,200.5 495.3,185.5 499.5,170.5 512.2,155.5 520.7,140.5 533.4,125.5 541.9,110.5 554.6,95.5 563.1,80.5"/>
<polyline points="130.6,365.5 181.5,350.5 202.7,335.5 245.1,320.5 279.0,305.5 304.5,290.5 317.2,275.5 351.1,260.5 376.5,245.5 414.7,230.5 448.6,215.5 461.3,200.5 482.5,185.5 499.5,170.5 516.5,155.5 524.9,140.5 537.7,125.5 541.9,110.5 550.4,95.5 558.9,80.5"/>
<polyline points="130.6,365.5 181.5,350.5 202.7,335.5 253.6,320.5 291.7,305.5 304.5,290.5 342.6,275.5 376.5,260.5 397.7,245.5 418.9,230.5 452.9,215.5 465.6,200.5 482.5,185.5 499.5,170.5 508.0,155.5 524.9,140.5 529.2,125.5 537.7,110.5 546.1,95.5 550.4,80.5"/>
<polyline points="130.6,365.5 177.3,350.5 202.7,335.5 245.1,320.5 279.0,305.5 308.7,290.5 329.9,275.5 363.8,260.5 393.5,245.5 440.1,230.5 461.3,215.5 478.3,200.5 486.8,185.5 508.0,170.5 516.5,155.5 533.4,140.5 541.9,125.5 546.1,110.5 554.6,95.5 563.1,80.5"/>
<polyline points="130.6,365.5 177.3,350.5 194.2,335.5 240.9,320.5 279.0,305.5 300.2,290.5 342.6,275.5 351.1,260.5 376.5,245.5 418.9,230.5 427.4,215.5 448.6,200.5 478.3,185.5 499.5,170.5 516.5,155.5 520.7,140.5 529.2,125.5 541.9,110.5 546.1,95.5 558.9,80.5"/>
<polyline points="130.6,365.5 181.5,350.5 206.9,335.5 249.3,320.5 287.5,305.5 300.2,290.5 338.4,275.5 359.6,260.5 385.0,245.5 414.7,230.5 435.9,215.5 457.1,200.5 478.3,185.5 499.5,170.5 516.5,155.5 524.9,140.5 537.7,125.5 541.9,110.5 550.4,95.5 558.9,80.5"/>
<polyline points="130.6,365.5 181.5,350.5 198.5,335.5 245.1,320.5 279.0,305.5 317.2,290.5 342.6,275.5 368.1,260.5 385.0,245.5 423.2,230.5 448.6,215.5 469.8,200.5 486.8,185.5 499.5,170.5 508.0,155.5 529.2,140.5 537.7,125.5 546.1,110.5 550.4,95.5 558.9,80.5"/>
<polyline points="130.6,365.5 181.5,350.5 198.5,335.5 240.9,320.5 262.1,305.5 291.7,290.5 346.9,275.5 363.8,260.5 385.0,245.5 423.2,230.5 452.9,215.5 474.1,200.5 486.8,185.5 499.5,170.5 512.2,155.5 524.9,140.5 533.4,125.5 546.1,110.5 554.6,95.5 558.9,80.5"/>
<polyline points="130.6,365.5 177.3,350.5 202.7,335.5 253.6,320.5 287.5,305.5 312.9,290.5 334.1,275.5 355.3,260.5 389.3,245.5 423.2,230.5 452.9,215.5 474.1,200.5 486.8,185.5 491.0,170.5 508.0,155.5 520.7,140.5 533.4,125.5 541.9,110.5 554.6,95.5 558.9,80.5"/>
<polyline points="130.6,365.5 181.5,350.5 198.5,335.5 236.6,320.5 274.8,305.5 304.5,290.5 329.9,275.5 376.5,260.5 402.0,245.5 440.1,230.5 461.3,215.5 478.3,200.5 482.5,185.5 499.5,170.5 516.5,155.5 529.2,140.5 537.7,125.5 546.1,110.5 550.4,95.5 558.9,80.5"/>
<polyline points="130.6,365.5 177.3,350.5 202.7,335.5 240.9,320.5 266.3,305.5 296.0,290.5 325.7,275.5 351.1,260.5 393.5,245.5 440.1,230.5 461.3,215.5 478.3,200.5 486.8,185.5 499.5,170.5 516.5,155.5 529.2,140.5 541.9,125.5 546.1,110.5 558.9,95.5 563.1,80.5"/>
<polyline points="126.4,365.5 181.5,350.5 202.7,335.5 228.1,320.5 253.6,305.5 287.5,290.5 321.4,275.5 359.6,260.5 389.3,245.5 427.4,230.5 444.4,215.5 465.6,200.5 491.0,185.5 503.7,170.5 520.7,155.5 529.2,140.5 541.9,125.5 550.4,110.5 558.9,95.5 567.3,80.5"/>
<polyline points="130.6,365.5 177.3,350.5 202.7,335.5 240.9,320.5 274.8,305.5 312.9,290.5 346.9,275.5 376.5,260.5 402.0,245.5 440.1,230.5 452.9,215.5 465.6,200.5 491.0,185.5 508.0,170.5 516.5,155.5 529.2,140.5 537.7,125.5 550.4,110.5 558.9,95.5 563.1,80.5"/>
<polyline points="126.4,365.5 173.0,350.5 190.0,335.5 223.9,320.5 279.0,305.5 304.5,290.5 334.1,275.5 363.8,260.5 389.3,245.5 440.1,230.5 452.9,215.5 478.3,200.5 486.8,185.5 508.0,170.5 524.9,155.5 529.2,140.5 541.9,125.5 554.6,110.5 558.9,95.5 567.3,80.5"/>
<polyline points="126.4,365.5 168.8,350.5 194.2,335.5 228.1,320.5 274.8,305.5 304.5,290.5 342.6,275.5 363.8,260.5 402.0,245.5 435.9,230.5 465.6,215.5 465.6,200.5 491.0,185.5 503.7,170.5 520.7,155.5 529.2,140.5 541.9,125.5 550.4,110.5 554.6,95.5 563.1,80.5"/>
<polyline points="130.6,365.5 177.3,350.5 194.2,335.5 232.4,320.5 279.0,305.5 317.2,290.5 351.1,275.5 376.5,260.5 397.7,245.5 440.1,230.5 452.9,215.5 474.1,200.5 491.0,185.5 512.2,170.5 524.9,155.5 533.4,140.5 541.9,125.5 554.6,110.5 558.9,95.5 563.1,80.5"/>
<polyline points="130.6,365.5 181.5,350.5 198.5,335.5 236.6,320.5 279.0,305.5 317.2,290.5 351.1,275.5 376.5,260.5 397.7,245.5 435.9,230.5 444.4,215.5 474.1,200.5 486.8,185.5 503.7,170.5 516.5,155.5 524.9,140.5 537.7,125.5 546.1,110.5 554.6,95.5 567.3,80.5"/>
<polyline points="130.6,365.5 177.3,350.5 202.7,335.5 249.3,320.5 287.5,305.5 304.5,290.5 329.9,275.5 355.3,260.5 397.7,245.5 435.9,230.5 457.1,215.5 465.6,200.5 495.3,185.5 512.2,170.5 520.7,155.5 533.4,140.5 546.1,125.5 550.4,110.5 558.9,95.5 567.3,80.5"/>
<polyline points="130.6,365.5 181.5,350.5 194.2,335.5 240.9,320.5 283.3,305.5 300.2,290.5 346.9,275.5 376.5,260.5 402.0,245.5 440.1,230.5 465.6,215.5 482.5,200.5 495.3,185.5 512.2,170.5 524.9,155.5 533.4,140.5 546.1,125.5 554.6,110.5 558.9,95.5 567.3,80.5"/>
<polyline points="130.6,365.5 177.3,350.5 202.7,335.5 249.3,320.5 270.5,305.5 312.9,290.5 334.1,275.5 363.8,260.5 389.3,245.5 427.4,230.5 461.3,215.5 465.6,200.5 482.5,185.5 503.7,170.5 520.7,155.5 533.4,140.5 541.9,125.5 550.4,110.5 554.6,95.5 563.1,80.5"/>
<polyline points="130.6,365.5 177.3,350.5 206.9,335.5 249.3,320.5 283.3,305.5 304.5,290.5 338.4,275.5 363.8,260.5 389.3,245.5 414.7,230.5 448.6,215.5 469.8,200.5 491.0,185.5 508.0,170.5 516.5,155.5 529.2,140.5 537.7,125.5 546.1,110.5 554.6,95.5 563.1,80.5"/>
<polyline points="130.6,365.5 181.5,350.5 206.9,335.5 249.3,320.5 291.7,305.5 317.2,290.5 351.1,275.5 368.1,260.5 397.7,245.5 435.9,230.5 461.3,215.5 478.3,200.5 486.8,185.5 503.7,170.5 516.5,155.5 529.2,140.5 537.7,125.5 550.4,110.5 558.9,95.5 567.3,80.5"/>
<polyline points="126.4,365.5 177.3,350.5 198.5,335.5 236.6,320.5 291.7,305.5 312.9,290.5 329.9,275.5 376.5,260.5 402.0,245.5 440.1,230.5 465.6,215.5 482.5,200.5 499.5,185.5 512.2,170.5 524.9,155.5 533.4,140.5 541.9,125.5 546.1,110.5 554.6,95.5 558.9,80.5"/>
<polyline points="130.6,365.5 181.5,350.5 206.9,335.5 253.6,320.5 274.8,305.5 312.9,290.5 334.1,275.5 376.5,260.5 402.0,245.5 440.1,230.5 465.6,215.5 482.5,200.5 495.3,185.5 512.2,170.5 520.7,155.5 529.2,140.5 537.7,125.5 550.4,110.5 554.6,95.5 558.9,80.5"/>
<polyline points="130.6,365.5 181.5,350.5 206.9,335.5 245.1,320.5 287.5,305.5 317.2,290.5 351.1,275.5 359.6,260.5 380.8,245.5 423.2,230.5 440.1,215.5 457.1,200.5 482.5,185.5 503.7,170.5 516.5,155.5 524.9,140.5 537.7,125.5 550.4,110.5 554.6,95.5 567.3,80.5"/>
<polyline points="130.6,365.5 181.5,350.5 206.9,335.5 240.9,320.5 283.3,305.5 312.9,290.5 351.1,275.5 376.5,260.5 402.0,245.5 440.1,230.5 465.6,215.5 482.5,200.5 499.5,185.5 508.0,170.5 524.9,155.5 533.4,140.5 546.1,125.5 554.6,110.5 558.9,95.5 567.3,80.5"/>
<polyline points="130.6,365.5 181.5,350.5 202.7,335.5 249.3,320.5 291.7,305.5 317.2,290.5 351.1,275.5 376.5,260.5 397.7,245.5 431.7,230.5 465.6,215.5 482.5,200.5 495.3,185.5 512.2,170.5 524.9,155.5 533.4,140.5 546.1,125.5 550.4,110.5 558.9,95.5 567.3,80.5"/>
<polyline points="130.6,365.5 177.3,350.5 198.5,335.5 245.1,320.5 291.7,305.5 308.7,290.5 338.4,275.5 363.8,260.5 402.0,245.5 431.7,230.5 461.3,215.5 474.1,200.5 495.3,185.5 512.2,170.5 516.5,155.5 529.2,140.5 546.1,125.5 554.6,110.5 558.9,95.5 567.3,80.5"/>
<polyline points="117.9,365.5 126.4,350.5 134.9,335.5 143.3,320.5 164.5,305.5 181.5,290.5 211.2,275.5 249.3,260.5 283.3,245.5 321.4,230.5 351.1,215.5 368.1,200.5 402.0,185.5 418.9,170.5 435.9,155.5 461.3,140.5 474.1,125.5 486.8,110.5 499.5,95.5 512.2,80.5"/>
<polyline points="117.9,365.5 134.9,350.5 143.3,335.5 151.8,320.5 177.3,305.5 194.2,290.5 219.7,275.5 253.6,260.5 287.5,245.5 317.2,230.5 346.9,215.5 363.8,200.5 397.7,185.5 418.9,170.5 435.9,155.5 452.9,140.5 469.8,125.5 486.8,110.5 503.7,95.5 516.5,80.5"/>
<polyline points="117.9,365.5 130.6,350.5 139.1,335.5 151.8,320.5 177.3,305.5 190.0,290.5 211.2,275.5 253.6,260.5 291.7,245.5 317.2,230.5 346.9,215.5 363.8,200.5 389.3,185.5 410.5,170.5 427.4,155.5 452.9,140.5 465.6,125.5 482.5,110.5 503.7,95.5 512.2,80.5"/>
<polyline points="117.9,365.5 126.4,350.5 134.9,335.5 147.6,320.5 173.0,305.5 185.7,290.5 215.4,275.5 245.1,260.5 279.0,245.5 317.2,230.5 342.6,215.5 359.6,200.5 389.3,185.5 410.5,170.5 431.7,155.5 448.6,140.5 469.8,125.5 486.8,110.5 503.7,95.5 512.2,80.5"/>
<polyline points="117.9,365.5 126.4,350.5 134.9,335.5 143.3,320.5 164.5,305.5 185.7,290.5 206.9,275.5 240.9,260.5 279.0,245.5 308.7,230.5 329.9,215.5 346.9,200.5 372.3,185.5 397.7,170.5 423.2,155.5 440.1,140.5 461.3,125.5 474.1,110.5 491.0,95.5 499.5,80.5"/>
<polyline points="113.7,365.5 122.1,350.5 130.6,335.5 143.3,320.5 164.5,305.5 173.0,290.5 194.2,275.5 240.9,260.5 279.0,245.5 312.9,230.5 338.4,215.5 355.3,200.5 385.0,185.5 406.2,170.5 423.2,155.5 444.4,140.5 461.3,125.5 474.1,110.5 491.0,95.5 508.0,80.5"/>
<polyline points="117.9,365.5 122.1,350.5 130.6,335.5 139.1,320.5 168.8,305.5 185.7,290.5 206.9,275.5 236.6,260.5 274.8,245.5 296.0,230.5 321.4,215.5 334.1,200.5 359.6,185.5 385.0,170.5 406.2,155.5 431.7,140.5 448.6,125.5 465.6,110.5 486.8,95.5 503.7,80.5"/>
<polyline points="113.7,365.5 122.1,350.5 130.6,335.5 143.3,320.5 168.8,305.5 177.3,290.5 198.5,275.5 236.6,260.5 274.8,245.5 312.9,230.5 329.9,215.5 342.6,200.5 368.1,185.5 393.5,170.5 414.7,155.5 435.9,140.5 452.9,125.5 474.1,110.5 486.8,95.5 503.7,80.5"/>
<polyline points="113.7,365.5 113.7,350.5 117.9,335.5 122.1,320.5 147.6,305.5 160.3,290.5 185.7,275.5 219.7,260.5 266.3,245.5 296.0,230.5 321.4,215.5 342.6,200.5 372.3,185.5 393.5,170.5 414.7,155.5 435.9,140.5 452.9,125.5 474.1,110.5 486.8,95.5 508.0,80.5"/>
<polyline points="113.7,365.5 122.1,350.5 130.6,335.5 139.1,320.5 160.3,305.5 173.0,290.5 194.2,275.5 223.9,260.5 266.3,245.5 300.2,230.5 317.2,215.5 329.9,200.5 359.6,185.5 389.3,170.5 406.2,155.5 431.7,140.5 448.6,125.5 465.6,110.5 482.5,95.5 499.5,80.5"/>
<polyline points="113.7,365.5 122.1,350.5 126.4,335.5 134.9,320.5 164.5,305.5 173.0,290.5 190.0,275.5 219.7,260.5 262.1,245.5 296.0,230.5 312.9,215.5 329.9,200.5 359.6,185.5 385.0,170.5 402.0,155.5 423.2,140.5 444.4,125.5 461.3,110.5 482.5,95.5 495.3,80.5"/>
<polyline points="113.7,365.5 122.1,350.5 126.4,335.5 134.9,320.5 151.8,305.5 164.5,290.5 177.3,275.5 215.4,260.5 257.8,245.5 291.7,230.5 317.2,215.5 325.7,200.5 359.6,185.5 389.3,170.5 406.2,155.5 427.4,140.5 444.4,125.5 461.3,110.5 478.3,95.5 491.0,80.5"/>
<polyline points="96.7,365.5 105.2,350.5 113.7,335.5 117.9,320.5 130.6,305.5 139.1,290.5 147.6,275.5 156.1,260.5 164.5,245.5 173.0,230.5 177.3,215.5 181.5,200.5 190.0,185.5 202.7,170.5 211.2,155.5 223.9,140.5 240.9,125.5 253.6,110.5 253.6,95.5 270.5,80.5"/>
<polyline points="113.7,365.5 126.4,350.5 134.9,335.5 143.3,320.5 156.1,305.5 164.5,290.5 168.8,275.5 177.3,260.5 181.5,245.5 185.7,230.5 198.5,215.5 202.7,200.5 211.2,185.5 215.4,170.5 228.1,155.5 236.6,140.5 245.1,125.5 253.6,110.5 262.1,95.5 270.5,80.5"/>
<polyline points="117.9,365.5 139.1,350.5 147.6,335.5 156.1,320.5 164.5,305.5 168.8,290.5 173.0,275.5 177.3,260.5 190.0,245.5 194.2,230.5 194.2,215.5 198.5,200.5 206.9,185.5 219.7,170.5 223.9,155.5 236.6,140.5 249.3,125.5 257.8,110.5 266.3,95.5 274.8,80.5"/>
<polyline points="96.7,365.5 109.4,350.5 109.4,335.5 117.9,320.5 134.9,305.5 134.9,290.5 147.6,275.5 164.5,260.5 177.3,245.5 181.5,230.5 185.7,215.5 185.7,200.5 194.2,185.5 202.7,170.5 215.4,155.5 228.1,140.5 245.1,125.5 262.1,110.5 270.5,95.5 283.3,80.5"/>
<polyline points="109.4,365.5 126.4,350.5 134.9,335.5 143.3,320.5 160.3,305.5 164.5,290.5 173.0,275.5 177.3,260.5 181.5,245.5 190.0,230.5 202.7,215.5 206.9,200.5 219.7,185.5 223.9,170.5 223.9,155.5 236.6,140.5 249.3,125.5 262.1,110.5 274.8,95.5 287.5,80.5"/>
<polyline points="113.7,365.5 117.9,350.5 126.4,335.5 130.6,320.5 134.9,305.5 143.3,290.5 151.8,275.5 160.3,260.5 173.0,245.5 181.5,230.5 185.7,215.5 190.0,200.5 202.7,185.5 215.4,170.5 219.7,155.5 236.6,140.5 249.3,125.5 266.3,110.5 279.0,95.5 291.7,80.5"/>
<polyline points="100.9,365.5 113.7,350.5 122.1,335.5 134.9,320.5 143.3,305.5 151.8,290.5 156.1,275.5 173.0,260.5 185.7,245.5 194.2,230.5 211.2,215.5 211.2,200.5 223.9,185.5 236.6,170.5 245.1,155.5 253.6,140.5 262.1,125.5 274.8,110.5 283.3,95.5 296.0,80.5"/>
<polyline points="113.7,365.5 126.4,350.5 134.9,335.5 139.1,320.5 147.6,305.5 156.1,290.5 164.5,275.5 177.3,260.5 177.3,245.5 177.3,230.5 181.5,215.5 194.2,200.5 202.7,185.5 215.4,170.5 228.1,155.5 240.9,140.5 253.6,125.5 266.3,110.5 283.3,95.5 296.0,80.5"/>
<polyline points="113.7,365.5 126.4,350.5 139.1,335.5 143.3,320.5 143.3,305.5 151.8,290.5 160.3,275.5 168.8,260.5 185.7,245.5 190.0,230.5 194.2,215.5 198.5,200.5 206.9,185.5 223.9,170.5 240.9,155.5 253.6,140.5 262.1,125.5 274.8,110.5 287.5,95.5 300.2,80.5"/>
<polyline points="117.9,365.5 134.9,350.5 143.3,335.5 147.6,320.5 156.1,305.5 160.3,290.5 177.3,275.5 185.7,260.5 194.2,245.5 202.7,230.5 206.9,215.5 215.4,200.5 223.9,185.5 223.9,170.5 236.6,155.5 253.6,140.5 266.3,125.5 274.8,110.5 287.5,95.5 300.2,80.5"/>
<polyline points="117.9,365.5 130.6,350.5 147.6,335.5 151.8,320.5 190.0,305.5 194.2,290.5 202.7,275.5 202.7,260.5 206.9,245.5 219.7,230.5 223.9,215.5 228.1,200.5 236.6,185.5 245.1,170.5 249.3,155.5 257.8,140.5 274.8,125.5 287.5,110.5 296.0,95.5 304.5,80.5"/>
<polyline points="117.9,365.5 139.1,350.5 147.6,335.5 164.5,320.5 177.3,305.5 185.7,290.5 190.0,275.5 202.7,260.5 206.9,245.5 211.2,230.5 215.4,215.5 219.7,200.5 228.1,185.5 240.9,170.5 245.1,155.5 257.8,140.5 270.5,125.5 283.3,110.5 296.0,95.5 304.5,80.5"/>
<polyline points="105.2,365.5 117.9,350.5 126.4,335.5 130.6,320.5 143.3,305.5 156.1,290.5 168.8,275.5 194.2,260.5 194.2,245.5 215.4,230.5 215.4,215.5 215.4,200.5 215.4,185.5 236.6,170.5 249.3,155.5 262.1,140.5 274.8,125.5 279.0,110.5 300.2,95.5 308.7,80.5"/>
<polyline points="105.2,365.5 117.9,350.5 126.4,335.5 130.6,320.5 151.8,305.5 156.1,290.5 160.3,275.5 168.8,260.5 177.3,245.5 190.0,230.5 198.5,215.5 206.9,200.5 219.7,185.5 232.4,170.5 236.6,155.5 249.3,140.5 270.5,125.5 287.5,110.5 296.0,95.5 312.9,80.5"/>
<polyline points="113.7,365.5 126.4,350.5 130.6,335.5 139.1,320.5 160.3,305.5 181.5,290.5 202.7,275.5 215.4,260.5 223.9,245.5 228.1,230.5 228.1,215.5 232.4,200.5 245.1,185.5 249.3,170.5 257.8,155.5 270.5,140.5 279.0,125.5 291.7,110.5 304.5,95.5 317.2,80.5"/>
<polyline points="105.2,365.5 117.9,350.5 130.6,335.5 143.3,320.5 168.8,305.5 173.0,290.5 181.5,275.5 190.0,260.5 202.7,245.5 202.7,230.5 215.4,215.5 219.7,200.5 232.4,185.5 245.1,170.5 257.8,155.5 270.5,140.5 283.3,125.5 296.0,110.5 304.5,95.5 317.2,80.5"/>
<polyline points="105.2,365.5 113.7,350.5 117.9,335.5 126.4,320.5 134.9,305.5 156.1,290.5 164.5,275.5 177.3,260.5 190.0,245.5 198.5,230.5 206.9,215.5 206.9,200.5 215.4,185.5 228.1,170.5 240.9,155.5 253.6,140.5 274.8,125.5 291.7,110.5 291.7,95.5 291.7,80.5"/>
<polyline points="122.1,365.5 130.6,350.5 143.3,335.5 151.8,320.5 198.5,305.5 211.2,290.5 211.2,275.5 219.7,260.5 223.9,245.5 228.1,230.5 232.4,215.5 240.9,200.5 245.1,185.5 249.3,170.5 262.1,155.5 274.8,140.5 287.5,125.5 300.2,110.5 308.7,95.5 321.4,80.5"/>
<polyline points="105.2,365.5 117.9,350.5 126.4,335.5 139.1,320.5 151.8,305.5 168.8,290.5 177.3,275.5 190.0,260.5 198.5,245.5 198.5,230.5 202.7,215.5 211.2,200.5 219.7,185.5 236.6,170.5 253.6,155.5 270.5,140.5 287.5,125.5 300.2,110.5 312.9,95.5 325.7,80.5"/>
<polyline points="105.2,365.5 113.7,350.5 122.1,335.5 134.9,320.5 147.6,305.5 156.1,290.5 177.3,275.5 194.2,260.5 206.9,245.5 211.2,230.5 219.7,215.5 232.4,200.5 240.9,185.5 245.1,170.5 245.1,155.5 262.1,140.5 279.0,125.5 296.0,110.5 308.7,95.5 325.7,80.5"/>
<polyline points="113.7,365.5 126.4,350.5 130.6,335.5 143.3,320.5 164.5,305.5 168.8,290.5 185.7,275.5 194.2,260.5 202.7,245.5 206.9,230.5 219.7,215.5 223.9,200.5 232.4,185.5 249.3,170.5 257.8,155.5 270.5,140.5 287.5,125.5 304.5,110.5 312.9,95.5 325.7,80.5"/>
<polyline points="117.9,365.5 139.1,350.5 151.8,335.5 156.1,320.5 168.8,305.5 168.8,290.5 177.3,275.5 185.7,260.5 202.7,245.5 206.9,230.5 219.7,215.5 228.1,200.5 245.1,185.5 245.1,170.5 262.1,155.5 274.8,140.5 291.7,125.5 304.5,110.5 317.2,95.5 329.9,80.5"/>
<polyline points="96.7,365.5 109.4,350.5 122.1,335.5 130.6,320.5 143.3,305.5 164.5,290.5 190.0,275.5 219.7,260.5 240.9,245.5 249.3,230.5 253.6,215.5 253.6,200.5 257.8,185.5 270.5,170.5 274.8,155.5 283.3,140.5 296.0,125.5 308.7,110.5 317.2,95.5 334.1,80.5"/>
<polyline points="100.9,365.5 113.7,350.5 122.1,335.5 126.4,320.5 143.3,305.5 156.1,290.5 168.8,275.5 185.7,260.5 185.7,245.5 219.7,230.5 228.1,215.5 236.6,200.5 240.9,185.5 245.1,170.5 266.3,155.5 283.3,140.5 296.0,125.5 312.9,110.5 321.4,95.5 334.1,80.5"/>
<polyline points="117.9,365.5 139.1,350.5 143.3,335.5 147.6,320.5 160.3,305.5 177.3,290.5 181.5,275.5 190.0,260.5 198.5,245.5 206.9,230.5 215.4,215.5 215.4,200.5 228.1,185.5 245.1,170.5 257.8,155.5 274.8,140.5 296.0,125.5 312.9,110.5 321.4,95.5 338.4,80.5"/>
<polyline points="105.2,365.5 117.9,350.5 126.4,335.5 130.6,320.5 147.6,305.5 173.0,290.5 185.7,275.5 194.2,260.5 198.5,245.5 206.9,230.5 219.7,215.5 228.1,200.5 232.4,185.5 240.9,170.5 257.8,155.5 274.8,140.5 291.7,125.5 304.5,110.5 321.4,95.5 338.4,80.5"/>
<polyline points="100.9,365.5 109.4,350.5 117.9,335.5 130.6,320.5 151.8,305.5 168.8,290.5 181.5,275.5 190.0,260.5 194.2,245.5 202.7,230.5 211.2,215.5 215.4,200.5 236.6,185.5 240.9,170.5 257.8,155.5 279.0,140.5 296.0,125.5 308.7,110.5 321.4,95.5 338.4,80.5"/>
<polyline points="100.9,365.5 109.4,350.5 117.9,335.5 126.4,320.5 143.3,305.5 160.3,290.5 185.7,275.5 219.7,260.5 228.1,245.5 236.6,230.5 240.9,215.5 245.1,200.5 249.3,185.5 266.3,170.5 279.0,155.5 291.7,140.5 304.5,125.5 317.2,110.5 329.9,95.5 342.6,80.5"/>
<polyline points="113.7,365.5 126.4,350.5 134.9,335.5 151.8,320.5 168.8,305.5 181.5,290.5 198.5,275.5 228.1,260.5 249.3,245.5 253.6,230.5 257.8,215.5 262.1,200.5 266.3,185.5 270.5,170.5 283.3,155.5 296.0,140.5 308.7,125.5 321.4,110.5 334.1,95.5 342.6,80.5"/>
<polyline points="117.9,365.5 134.9,350.5 147.6,335.5 156.1,320.5 190.0,305.5 223.9,290.5 249.3,275.5 253.6,260.5 257.8,245.5 262.1,230.5 266.3,215.5 266.3,200.5 274.8,185.5 283.3,170.5 296.0,155.5 308.7,140.5 317.2,125.5 329.9,110.5 334.1,95.5 346.9,80.5"/>
<polyline points="117.9,365.5 134.9,350.5 139.1,335.5 156.1,320.5 177.3,305.5 202.7,290.5 236.6,275.5 257.8,260.5 262.1,245.5 262.1,230.5 266.3,215.5 270.5,200.5 279.0,185.5 291.7,170.5 300.2,155.5 308.7,140.5 321.4,125.5 329.9,110.5 338.4,95.5 346.9,80.5"/>
<polyline points="117.9,365.5 139.1,350.5 139.1,335.5 151.8,320.5 177.3,305.5 190.0,290.5 206.9,275.5 232.4,260.5 232.4,245.5 240.9,230.5 245.1,215.5 253.6,200.5 257.8,185.5 274.8,170.5 283.3,155.5 296.0,140.5 308.7,125.5 325.7,110.5 334.1,95.5 346.9,80.5"/>
<polyline points="109.4,365.5 126.4,350.5 139.1,335.5 151.8,320.5 181.5,305.5 194.2,290.5 198.5,275.5 211.2,260.5 219.7,245.5 236.6,230.5 245.1,215.5 257.8,200.5 262.1,185.5 270.5,170.5 274.8,155.5 291.7,140.5 308.7,125.5 325.7,110.5 338.4,95.5 351.1,80.5"/>
<polyline points="109.4,365.5 117.9,350.5 126.4,335.5 143.3,320.5 160.3,305.5 168.8,290.5 190.0,275.5 219.7,260.5 228.1,245.5 236.6,230.5 245.1,215.5 249.3,200.5 257.8,185.5 279.0,170.5 287.5,155.5 300.2,140.5 312.9,125.5 329.9,110.5 338.4,95.5 351.1,80.5"/>
<polyline points="117.9,365.5 134.9,350.5 143.3,335.5 173.0,320.5 185.7,305.5 194.2,290.5 211.2,275.5 219.7,260.5 228.1,245.5 236.6,230.5 245.1,215.5 249.3,200.5 257.8,185.5 274.8,170.5 283.3,155.5 296.0,140.5 312.9,125.5 325.7,110.5 338.4,95.5 355.3,80.5"/>
<polyline points="117.9,365.5 134.9,350.5 134.9,335.5 147.6,320.5 160.3,305.5 173.0,290.5 185.7,275.5 190.0,260.5 194.2,245.5 202.7,230.5 215.4,215.5 223.9,200.5 240.9,185.5 257.8,170.5 270.5,155.5 287.5,140.5 308.7,125.5 325.7,110.5 338.4,95.5 355.3,80.5"/>
<polyline points="96.7,365.5 105.2,350.5 109.4,335.5 117.9,320.5 126.4,305.5 134.9,290.5 143.3,275.5 151.8,260.5 160.3,245.5 173.0,230.5 185.7,215.5 211.2,200.5 223.9,185.5 236.6,170.5 245.1,155.5 279.0,140.5 334.1,125.5 334.1,110.5 334.1,95.5 342.6,80.5"/>
<polyline points="113.7,365.5 130.6,350.5 139.1,335.5 147.6,320.5 160.3,305.5 177.3,290.5 198.5,275.5 211.2,260.5 219.7,245.5 232.4,230.5 240.9,215.5 240.9,200.5 245.1,185.5 266.3,170.5 283.3,155.5 296.0,140.5 312.9,125.5 329.9,110.5 346.9,95.5 359.6,80.5"/>
<polyline points="105.2,365.5 117.9,350.5 130.6,335.5 143.3,320.5 164.5,305.5 181.5,290.5 198.5,275.5 211.2,260.5 228.1,245.5 232.4,230.5 236.6,215.5 249.3,200.5 262.1,185.5 274.8,170.5 283.3,155.5 300.2,140.5 321.4,125.5 334.1,110.5 346.9,95.5 363.8,80.5"/>
<polyline points="117.9,365.5 134.9,350.5 151.8,335.5 177.3,320.5 206.9,305.5 211.2,290.5 215.4,275.5 219.7,260.5 232.4,245.5 240.9,230.5 249.3,215.5 253.6,200.5 262.1,185.5 274.8,170.5 296.0,155.5 308.7,140.5 325.7,125.5 338.4,110.5 351.1,95.5 363.8,80.5"/>
<polyline points="113.7,365.5 122.1,350.5 130.6,335.5 139.1,320.5 168.8,305.5 190.0,290.5 211.2,275.5 223.9,260.5 240.9,245.5 249.3,230.5 270.5,215.5 279.0,200.5 287.5,185.5 300.2,170.5 300.2,155.5 317.2,140.5 329.9,125.5 342.6,110.5 351.1,95.5 363.8,80.5"/>
<polyline points="117.9,365.5 139.1,350.5 151.8,335.5 168.8,320.5 177.3,305.5 181.5,290.5 190.0,275.5 206.9,260.5 215.4,245.5 215.4,230.5 228.1,215.5 240.9,200.5 253.6,185.5 270.5,170.5 287.5,155.5 304.5,140.5 321.4,125.5 338.4,110.5 351.1,95.5 368.1,80.5"/>
<polyline points="96.7,365.5 105.2,350.5 117.9,335.5 122.1,320.5 134.9,305.5 143.3,290.5 156.1,275.5 164.5,260.5 177.3,245.5 181.5,230.5 185.7,215.5 190.0,200.5 198.5,185.5 211.2,170.5 219.7,155.5 249.3,140.5 262.1,125.5 262.1,110.5 266.3,95.5 287.5,80.5"/>
<polyline points="105.2,365.5 117.9,350.5 126.4,335.5 139.1,320.5 151.8,305.5 156.1,290.5 173.0,275.5 185.7,260.5 206.9,245.5 215.4,230.5 232.4,215.5 262.1,200.5 283.3,185.5 283.3,170.5 317.2,155.5 329.9,140.5 342.6,125.5 342.6,110.5 342.6,95.5 363.8,80.5"/>
<polyline points="117.9,365.5 134.9,350.5 147.6,335.5 160.3,320.5 177.3,305.5 190.0,290.5 245.1,275.5 266.3,260.5 270.5,245.5 279.0,230.5 287.5,215.5 291.7,200.5 300.2,185.5 300.2,170.5 312.9,155.5 325.7,140.5 334.1,125.5 346.9,110.5 359.6,95.5 372.3,80.5"/>
<polyline points="113.7,365.5 122.1,350.5 134.9,335.5 147.6,320.5 168.8,305.5 185.7,290.5 202.7,275.5 240.9,260.5 257.8,245.5 266.3,230.5 274.8,215.5 279.0,200.5 291.7,185.5 300.2,170.5 304.5,155.5 321.4,140.5 334.1,125.5 346.9,110.5 359.6,95.5 372.3,80.5"/>
<polyline points="100.9,365.5 113.7,350.5 126.4,335.5 143.3,320.5 168.8,305.5 190.0,290.5 236.6,275.5 249.3,260.5 257.8,245.5 262.1,230.5 266.3,215.5 274.8,200.5 283.3,185.5 287.5,170.5 304.5,155.5 321.4,140.5 338.4,125.5 351.1,110.5 359.6,95.5 372.3,80.5"/>
<polyline points="100.9,365.5 109.4,350.5 122.1,335.5 139.1,320.5 164.5,305.5 185.7,290.5 236.6,275.5 253.6,260.5 266.3,245.5 270.5,230.5 274.8,215.5 279.0,200.5 291.7,185.5 304.5,170.5 312.9,155.5 329.9,140.5 342.6,125.5 355.3,110.5 363.8,95.5 376.5,80.5"/>
<polyline points="117.9,365.5 134.9,350.5 147.6,335.5 164.5,320.5 198.5,305.5 206.9,290.5 232.4,275.5 266.3,260.5 279.0,245.5 287.5,230.5 291.7,215.5 296.0,200.5 308.7,185.5 308.7,170.5 317.2,155.5 329.9,140.5 342.6,125.5 355.3,110.5 368.1,95.5 376.5,80.5"/>
<polyline points="117.9,365.5 126.4,350.5 139.1,335.5 156.1,320.5 181.5,305.5 194.2,290.5 215.4,275.5 236.6,260.5 291.7,245.5 304.5,230.5 312.9,215.5 317.2,200.5 317.2,185.5 321.4,170.5 329.9,155.5 338.4,140.5 346.9,125.5 359.6,110.5 368.1,95.5 376.5,80.5"/>
<polyline points="117.9,365.5 143.3,350.5 156.1,335.5 160.3,320.5 177.3,305.5 211.2,290.5 236.6,275.5 270.5,260.5 291.7,245.5 296.0,230.5 300.2,215.5 304.5,200.5 308.7,185.5 317.2,170.5 329.9,155.5 338.4,140.5 351.1,125.5 363.8,110.5 372.3,95.5 380.8,80.5"/>
<polyline points="100.9,365.5 105.2,350.5 113.7,335.5 122.1,320.5 134.9,305.5 147.6,290.5 151.8,275.5 160.3,260.5 181.5,245.5 194.2,230.5 206.9,215.5 236.6,200.5 249.3,185.5 266.3,170.5 270.5,155.5 270.5,140.5 308.7,125.5 321.4,110.5 321.4,95.5 321.4,80.5"/>
<polyline points="122.1,365.5 147.6,350.5 168.8,335.5 177.3,320.5 190.0,305.5 202.7,290.5 219.7,275.5 279.0,260.5 291.7,245.5 300.2,230.5 308.7,215.5 308.7,200.5 312.9,185.5 321.4,170.5 334.1,155.5 342.6,140.5 351.1,125.5 363.8,110.5 372.3,95.5 380.8,80.5"/>
<polyline points="117.9,365.5 134.9,350.5 151.8,335.5 164.5,320.5 198.5,305.5 215.4,290.5 249.3,275.5 257.8,260.5 266.3,245.5 270.5,230.5 274.8,215.5 283.3,200.5 291.7,185.5 308.7,170.5 312.9,155.5 325.7,140.5 342.6,125.5 359.6,110.5 368.1,95.5 385.0,80.5"/>
<polyline points="117.9,365.5 139.1,350.5 139.1,335.5 156.1,320.5 190.0,305.5 202.7,290.5 240.9,275.5 274.8,260.5 300.2,245.5 304.5,230.5 308.7,215.5 312.9,200.5 321.4,185.5 325.7,170.5 342.6,155.5 351.1,140.5 359.6,125.5 368.1,110.5 376.5,95.5 385.0,80.5"/>
<polyline points="105.2,365.5 117.9,350.5 126.4,335.5 134.9,320.5 156.1,305.5 164.5,290.5 181.5,275.5 206.9,260.5 253.6,245.5 270.5,230.5 291.7,215.5 291.7,200.5 312.9,185.5 312.9,170.5 325.7,155.5 334.1,140.5 334.1,125.5 334.1,110.5 342.6,95.5 368.1,80.5"/>
<polyline points="105.2,365.5 113.7,350.5 117.9,335.5 130.6,320.5 151.8,305.5 164.5,290.5 177.3,275.5 194.2,260.5 245.1,245.5 257.8,230.5 291.7,215.5 296.0,200.5 300.2,185.5 312.9,170.5 325.7,155.5 338.4,140.5 351.1,125.5 363.8,110.5 372.3,95.5 389.3,80.5"/>
<polyline points="109.4,365.5 122.1,350.5 134.9,335.5 151.8,320.5 177.3,305.5 219.7,290.5 232.4,275.5 257.8,260.5 279.0,245.5 291.7,230.5 312.9,215.5 317.2,200.5 321.4,185.5 325.7,170.5 338.4,155.5 346.9,140.5 359.6,125.5 372.3,110.5 380.8,95.5 389.3,80.5"/>
<polyline points="100.9,365.5 113.7,350.5 122.1,335.5 134.9,320.5 156.1,305.5 177.3,290.5 206.9,275.5 253.6,260.5 266.3,245.5 270.5,230.5 274.8,215.5 283.3,200.5 291.7,185.5 300.2,170.5 317.2,155.5 334.1,140.5 351.1,125.5 363.8,110.5 372.3,95.5 389.3,80.5"/>
<polyline points="96.7,365.5 109.4,350.5 122.1,335.5 130.6,320.5 156.1,305.5 168.8,290.5 211.2,275.5 232.4,260.5 274.8,245.5 287.5,230.5 300.2,215.5 308.7,200.5 317.2,185.5 325.7,170.5 329.9,155.5 342.6,140.5 355.3,125.5 368.1,110.5 376.5,95.5 393.5,80.5"/>
<polyline points="109.4,365.5 122.1,350.5 134.9,335.5 147.6,320.5 164.5,305.5 181.5,290.5 198.5,275.5 232.4,260.5 262.1,245.5 287.5,230.5 312.9,215.5 312.9,200.5 321.4,185.5 321.4,170.5 325.7,155.5 342.6,140.5 355.3,125.5 368.1,110.5 380.8,95.5 393.5,80.5"/>
<polyline points="100.9,365.5 109.4,350.5 117.9,335.5 134.9,320.5 160.3,305.5 173.0,290.5 185.7,275.5 206.9,260.5 253.6,245.5 283.3,230.5 291.7,215.5 296.0,200.5 312.9,185.5 325.7,170.5 334.1,155.5 346.9,140.5 363.8,125.5 372.3,110.5 385.0,95.5 393.5,80.5"/>
<polyline points="105.2,365.5 109.4,350.5 126.4,335.5 139.1,320.5 160.3,305.5 177.3,290.5 198.5,275.5 223.9,260.5 249.3,245.5 283.3,230.5 296.0,215.5 300.2,200.5 300.2,185.5 308.7,170.5 325.7,155.5 342.6,140.5 359.6,125.5 372.3,110.5 385.0,95.5 393.5,80.5"/>
<polyline points="100.9,365.5 113.7,350.5 126.4,335.5 139.1,320.5 164.5,305.5 185.7,290.5 219.7,275.5 228.1,260.5 240.9,245.5 249.3,230.5 257.8,215.5 270.5,200.5 283.3,185.5 304.5,170.5 321.4,155.5 334.1,140.5 351.1,125.5 368.1,110.5 380.8,95.5 397.7,80.5"/>
<polyline points="105.2,365.5 113.7,350.5 126.4,335.5 134.9,320.5 156.1,305.5 173.0,290.5 194.2,275.5 206.9,260.5 223.9,245.5 253.6,230.5 253.6,215.5 262.1,200.5 262.1,185.5 262.1,170.5 274.8,155.5 274.8,140.5 312.9,125.5 334.1,110.5 359.6,95.5 385.0,80.5"/>
<polyline points="117.9,365.5 143.3,350.5 147.6,335.5 173.0,320.5 202.7,305.5 211.2,290.5 228.1,275.5 245.1,260.5 253.6,245.5 257.8,230.5 262.1,215.5 274.8,200.5 291.7,185.5 308.7,170.5 321.4,155.5 338.4,140.5 355.3,125.5 372.3,110.5 385.0,95.5 397.7,80.5"/>
<polyline points="113.7,365.5 126.4,350.5 134.9,335.5 151.8,320.5 177.3,305.5 190.0,290.5 206.9,275.5 253.6,260.5 274.8,245.5 312.9,230.5 317.2,215.5 321.4,200.5 325.7,185.5 338.4,170.5 342.6,155.5 355.3,140.5 372.3,125.5 380.8,110.5 389.3,95.5 402.0,80.5"/>
<polyline points="113.7,365.5 130.6,350.5 139.1,335.5 160.3,320.5 185.7,305.5 223.9,290.5 262.1,275.5 283.3,260.5 296.0,245.5 296.0,230.5 300.2,215.5 308.7,200.5 321.4,185.5 334.1,170.5 338.4,155.5 355.3,140.5 368.1,125.5 380.8,110.5 393.5,95.5 406.2,80.5"/>
<polyline points="100.9,365.5 113.7,350.5 126.4,335.5 139.1,320.5 168.8,305.5 198.5,290.5 228.1,275.5 274.8,260.5 287.5,245.5 296.0,230.5 308.7,215.5 317.2,200.5 325.7,185.5 338.4,170.5 342.6,155.5 355.3,140.5 372.3,125.5 385.0,110.5 397.7,95.5 414.7,80.5"/>
<polyline points="109.4,365.5 126.4,350.5 134.9,335.5 151.8,320.5 173.0,305.5 198.5,290.5 236.6,275.5 266.3,260.5 274.8,245.5 283.3,230.5 287.5,215.5 296.0,200.5 304.5,185.5 321.4,170.5 338.4,155.5 351.1,140.5 376.5,125.5 385.0,110.5 402.0,95.5 418.9,80.5"/>
<polyline points="113.7,365.5 130.6,350.5 139.1,335.5 151.8,320.5 185.7,305.5 206.9,290.5 249.3,275.5 274.8,260.5 317.2,245.5 325.7,230.5 329.9,215.5 338.4,200.5 342.6,185.5 355.3,170.5 363.8,155.5 376.5,140.5 389.3,125.5 402.0,110.5 414.7,95.5 427.4,80.5"/>
<polyline points="105.2,365.5 117.9,350.5 130.6,335.5 143.3,320.5 173.0,305.5 194.2,290.5 236.6,275.5 296.0,260.5 325.7,245.5 351.1,230.5 355.3,215.5 355.3,200.5 359.6,185.5 368.1,170.5 380.8,155.5 389.3,140.5 402.0,125.5 410.5,110.5 418.9,95.5 427.4,80.5"/>
<polyline points="113.7,365.5 126.4,350.5 134.9,335.5 147.6,320.5 173.0,305.5 181.5,290.5 211.2,275.5 249.3,260.5 291.7,245.5 325.7,230.5 325.7,215.5 334.1,200.5 342.6,185.5 359.6,170.5 363.8,155.5 376.5,140.5 393.5,125.5 410.5,110.5 418.9,95.5 435.9,80.5"/>
<polyline points="109.4,365.5 126.4,350.5 134.9,335.5 147.6,320.5 173.0,305.5 177.3,290.5 202.7,275.5 240.9,260.5 274.8,245.5 300.2,230.5 329.9,215.5 355.3,200.5 372.3,185.5 380.8,170.5 393.5,155.5 402.0,140.5 414.7,125.5 423.2,110.5 431.7,95.5 444.4,80.5"/>
<polyline points="109.4,365.5 122.1,350.5 130.6,335.5 143.3,320.5 164.5,305.5 181.5,290.5 228.1,275.5 270.5,260.5 312.9,245.5 346.9,230.5 363.8,215.5 363.8,200.5 368.1,185.5 376.5,170.5 385.0,155.5 397.7,140.5 414.7,125.5 427.4,110.5 435.9,95.5 448.6,80.5"/>
<polyline points="105.2,365.5 117.9,350.5 126.4,335.5 139.1,320.5 156.1,305.5 168.8,290.5 185.7,275.5 219.7,260.5 274.8,245.5 342.6,230.5 346.9,215.5 376.5,200.5 380.8,185.5 385.0,170.5 397.7,155.5 410.5,140.5 423.2,125.5 435.9,110.5 444.4,95.5 452.9,80.5"/>
<polyline points="113.7,365.5 130.6,350.5 143.3,335.5 160.3,320.5 185.7,305.5 194.2,290.5 228.1,275.5 262.1,260.5 312.9,245.5 342.6,230.5 380.8,215.5 380.8,200.5 380.8,185.5 397.7,170.5 406.2,155.5 414.7,140.5 431.7,125.5 440.1,110.5 448.6,95.5 461.3,80.5"/>
<polyline points="105.2,365.5 117.9,350.5 122.1,335.5 134.9,320.5 160.3,305.5 181.5,290.5 206.9,275.5 249.3,260.5 287.5,245.5 321.4,230.5 351.1,215.5 385.0,200.5 389.3,185.5 397.7,170.5 410.5,155.5 423.2,140.5 431.7,125.5 448.6,110.5 461.3,95.5 474.1,80.5"/>
<polyline points="109.4,365.5 122.1,350.5 130.6,335.5 151.8,320.5 164.5,305.5 185.7,290.5 215.4,275.5 262.1,260.5 308.7,245.5 355.3,230.5 376.5,215.5 385.0,200.5 389.3,185.5 397.7,170.5 410.5,155.5 427.4,140.5 440.1,125.5 452.9,110.5 465.6,95.5 474.1,80.5"/>
<polyline points="117.9,365.5 126.4,350.5 151.8,335.5 168.8,320.5 202.7,305.5 223.9,290.5 240.9,275.5 266.3,260.5 312.9,245.5 359.6,230.5 385.0,215.5 410.5,200.5 414.7,185.5 423.2,170.5 435.9,155.5 448.6,140.5 457.1,125.5 465.6,110.5 474.1,95.5 478.3,80.5"/>
<polyline points="117.9,365.5 130.6,350.5 143.3,335.5 164.5,320.5 202.7,305.5 206.9,290.5 240.9,275.5 283.3,260.5 312.9,245.5 351.1,230.5 376.5,215.5 389.3,200.5 414.7,185.5 431.7,170.5 448.6,155.5 457.1,140.5 465.6,125.5 474.1,110.5 478.3,95.5 486.8,80.5"/>
<polyline points="117.9,365.5 134.9,350.5 164.5,335.5 177.3,320.5 190.0,305.5 194.2,290.5 219.7,275.5 266.3,260.5 308.7,245.5 351.1,230.5 385.0,215.5 402.0,200.5 410.5,185.5 418.9,170.5 431.7,155.5 444.4,140.5 457.1,125.5 465.6,110.5 474.1,95.5 486.8,80.5"/>
<polyline points="113.7,365.5 122.1,350.5 130.6,335.5 147.6,320.5 168.8,305.5 173.0,290.5 198.5,275.5 232.4,260.5 262.1,245.5 317.2,230.5 342.6,215.5 359.6,200.5 393.5,185.5 418.9,170.5 440.1,155.5 457.1,140.5 465.6,125.5 478.3,110.5 482.5,95.5 491.0,80.5"/>
<polyline points="113.7,365.5 130.6,350.5 139.1,335.5 164.5,320.5 185.7,305.5 206.9,290.5 240.9,275.5 274.8,260.5 291.7,245.5 321.4,230.5 346.9,215.5 385.0,200.5 414.7,185.5 444.4,170.5 452.9,155.5 461.3,140.5 474.1,125.5 482.5,110.5 486.8,95.5 495.3,80.5"/>
<polyline points="113.7,365.5 126.4,350.5 139.1,335.5 151.8,320.5 190.0,305.5 211.2,290.5 245.1,275.5 274.8,260.5 308.7,245.5 329.9,230.5 359.6,215.5 406.2,200.5 418.9,185.5 435.9,170.5 444.4,155.5 461.3,140.5 474.1,125.5 478.3,110.5 486.8,95.5 499.5,80.5"/>
<polyline points="105.2,365.5 122.1,350.5 134.9,335.5 151.8,320.5 190.0,305.5 194.2,290.5 228.1,275.5 253.6,260.5 300.2,245.5 355.3,230.5 376.5,215.5 406.2,200.5 431.7,185.5 440.1,170.5 448.6,155.5 461.3,140.5 469.8,125.5 482.5,110.5 491.0,95.5 499.5,80.5"/>
<polyline points="109.4,365.5 122.1,350.5 134.9,335.5 151.8,320.5 181.5,305.5 219.7,290.5 266.3,275.5 300.2,260.5 321.4,245.5 355.3,230.5 376.5,215.5 402.0,200.5 410.5,185.5 431.7,170.5 444.4,155.5 457.1,140.5 474.1,125.5 486.8,110.5 495.3,95.5 503.7,80.5"/>
<polyline points="113.7,365.5 130.6,350.5 139.1,335.5 151.8,320.5 185.7,305.5 194.2,290.5 215.4,275.5 245.1,260.5 291.7,245.5 325.7,230.5 359.6,215.5 380.8,200.5 402.0,185.5 418.9,170.5 444.4,155.5 457.1,140.5 474.1,125.5 486.8,110.5 495.3,95.5 508.0,80.5"/>
<polyline points="109.4,365.5 126.4,350.5 139.1,335.5 151.8,320.5 181.5,305.5 211.2,290.5 249.3,275.5 274.8,260.5 308.7,245.5 338.4,230.5 368.1,215.5 376.5,200.5 406.2,185.5 431.7,170.5 448.6,155.5 465.6,140.5 482.5,125.5 491.0,110.5 503.7,95.5 512.2,80.5"/>
<polyline points="109.4,365.5 117.9,350.5 130.6,335.5 139.1,320.5 160.3,305.5 181.5,290.5 211.2,275.5 215.4,260.5 215.4,245.5 223.9,230.5 228.1,215.5 236.6,200.5 245.1,185.5 253.6,170.5 266.3,155.5 279.0,140.5 287.5,125.5 304.5,110.5 312.9,95.5 321.4,80.5"/>
<polyline points="100.9,365.5 109.4,350.5 117.9,335.5 130.6,320.5 156.1,305.5 164.5,290.5 181.5,275.5 181.5,260.5 185.7,245.5 190.0,230.5 194.2,215.5 206.9,200.5 223.9,185.5 236.6,170.5 257.8,155.5 270.5,140.5 287.5,125.5 300.2,110.5 312.9,95.5 325.7,80.5"/>
<polyline points="109.4,365.5 122.1,350.5 134.9,335.5 139.1,320.5 164.5,305.5 173.0,290.5 185.7,275.5 194.2,260.5 206.9,245.5 206.9,230.5 215.4,215.5 223.9,200.5 232.4,185.5 245.1,170.5 253.6,155.5 270.5,140.5 287.5,125.5 300.2,110.5 312.9,95.5 329.9,80.5"/>
<polyline points="109.4,365.5 122.1,350.5 126.4,335.5 143.3,320.5 168.8,305.5 185.7,290.5 202.7,275.5 236.6,260.5 236.6,245.5 240.9,230.5 240.9,215.5 249.3,200.5 253.6,185.5 257.8,170.5 274.8,155.5 287.5,140.5 300.2,125.5 312.9,110.5 321.4,95.5 329.9,80.5"/>
<polyline points="96.7,365.5 109.4,350.5 122.1,335.5 139.1,320.5 160.3,305.5 177.3,290.5 185.7,275.5 198.5,260.5 202.7,245.5 211.2,230.5 219.7,215.5 228.1,200.5 232.4,185.5 240.9,170.5 253.6,155.5 270.5,140.5 287.5,125.5 304.5,110.5 321.4,95.5 334.1,80.5"/>
<polyline points="100.9,365.5 113.7,350.5 126.4,335.5 139.1,320.5 151.8,305.5 173.0,290.5 202.7,275.5 211.2,260.5 219.7,245.5 223.9,230.5 223.9,215.5 232.4,200.5 240.9,185.5 249.3,170.5 266.3,155.5 283.3,140.5 296.0,125.5 308.7,110.5 321.4,95.5 338.4,80.5"/>
<polyline points="105.2,365.5 113.7,350.5 122.1,335.5 139.1,320.5 160.3,305.5 173.0,290.5 190.0,275.5 223.9,260.5 240.9,245.5 245.1,230.5 253.6,215.5 262.1,200.5 266.3,185.5 270.5,170.5 279.0,155.5 291.7,140.5 308.7,125.5 317.2,110.5 329.9,95.5 342.6,80.5"/>
<polyline points="105.2,365.5 117.9,350.5 126.4,335.5 139.1,320.5 160.3,305.5 177.3,290.5 202.7,275.5 219.7,260.5 223.9,245.5 228.1,230.5 236.6,215.5 245.1,200.5 249.3,185.5 262.1,170.5 274.8,155.5 287.5,140.5 304.5,125.5 317.2,110.5 329.9,95.5 342.6,80.5"/>
<polyline points="100.9,365.5 109.4,350.5 122.1,335.5 134.9,320.5 156.1,305.5 181.5,290.5 206.9,275.5 228.1,260.5 253.6,245.5 253.6,230.5 257.8,215.5 262.1,200.5 274.8,185.5 279.0,170.5 287.5,155.5 296.0,140.5 312.9,125.5 325.7,110.5 334.1,95.5 346.9,80.5"/>
<polyline points="109.4,365.5 122.1,350.5 130.6,335.5 139.1,320.5 160.3,305.5 173.0,290.5 211.2,275.5 249.3,260.5 253.6,245.5 262.1,230.5 266.3,215.5 266.3,200.5 270.5,185.5 287.5,170.5 296.0,155.5 304.5,140.5 321.4,125.5 329.9,110.5 338.4,95.5 351.1,80.5"/>
<polyline points="117.9,365.5 126.4,350.5 134.9,335.5 147.6,320.5 164.5,305.5 181.5,290.5 206.9,275.5 245.1,260.5 266.3,245.5 266.3,230.5 266.3,215.5 270.5,200.5 279.0,185.5 291.7,170.5 300.2,155.5 312.9,140.5 325.7,125.5 334.1,110.5 342.6,95.5 351.1,80.5"/>
<polyline points="100.9,365.5 109.4,350.5 122.1,335.5 134.9,320.5 151.8,305.5 177.3,290.5 202.7,275.5 245.1,260.5 270.5,245.5 274.8,230.5 279.0,215.5 283.3,200.5 287.5,185.5 296.0,170.5 304.5,155.5 312.9,140.5 325.7,125.5 334.1,110.5 346.9,95.5 355.3,80.5"/>
<polyline points="105.2,365.5 117.9,350.5 126.4,335.5 147.6,320.5 173.0,305.5 177.3,290.5 202.7,275.5 245.1,260.5 262.1,245.5 270.5,230.5 274.8,215.5 279.0,200.5 279.0,185.5 283.3,170.5 296.0,155.5 308.7,140.5 321.4,125.5 338.4,110.5 346.9,95.5 359.6,80.5"/>
<polyline points="100.9,365.5 117.9,350.5 122.1,335.5 134.9,320.5 160.3,305.5 177.3,290.5 202.7,275.5 232.4,260.5 253.6,245.5 262.1,230.5 266.3,215.5 270.5,200.5 279.0,185.5 291.7,170.5 308.7,155.5 317.2,140.5 329.9,125.5 338.4,110.5 351.1,95.5 359.6,80.5"/>
<polyline points="100.9,365.5 113.7,350.5 117.9,335.5 134.9,320.5 164.5,305.5 177.3,290.5 211.2,275.5 232.4,260.5 245.1,245.5 253.6,230.5 262.1,215.5 270.5,200.5 279.0,185.5 287.5,170.5 300.2,155.5 312.9,140.5 329.9,125.5 342.6,110.5 351.1,95.5 363.8,80.5"/>
<polyline points="105.2,365.5 113.7,350.5 126.4,335.5 130.6,320.5 151.8,305.5 168.8,290.5 190.0,275.5 228.1,260.5 257.8,245.5 270.5,230.5 274.8,215.5 279.0,200.5 283.3,185.5 296.0,170.5 296.0,155.5 308.7,140.5 325.7,125.5 338.4,110.5 351.1,95.5 368.1,80.5"/>
<polyline points="109.4,365.5 122.1,350.5 134.9,335.5 143.3,320.5 168.8,305.5 185.7,290.5 206.9,275.5 211.2,260.5 223.9,245.5 236.6,230.5 245.1,215.5 249.3,200.5 262.1,185.5 283.3,170.5 296.0,155.5 312.9,140.5 329.9,125.5 342.6,110.5 355.3,95.5 368.1,80.5"/>
<polyline points="100.9,365.5 113.7,350.5 122.1,335.5 130.6,320.5 156.1,305.5 173.0,290.5 194.2,275.5 228.1,260.5 253.6,245.5 262.1,230.5 266.3,215.5 270.5,200.5 283.3,185.5 296.0,170.5 312.9,155.5 325.7,140.5 338.4,125.5 351.1,110.5 359.6,95.5 372.3,80.5"/>
<polyline points="100.9,365.5 117.9,350.5 130.6,335.5 139.1,320.5 164.5,305.5 190.0,290.5 215.4,275.5 257.8,260.5 283.3,245.5 291.7,230.5 296.0,215.5 300.2,200.5 304.5,185.5 317.2,170.5 325.7,155.5 338.4,140.5 346.9,125.5 355.3,110.5 363.8,95.5 376.5,80.5"/>
<polyline points="100.9,365.5 109.4,350.5 117.9,335.5 126.4,320.5 143.3,305.5 164.5,290.5 190.0,275.5 232.4,260.5 257.8,245.5 287.5,230.5 291.7,215.5 296.0,200.5 304.5,185.5 312.9,170.5 325.7,155.5 334.1,140.5 346.9,125.5 359.6,110.5 368.1,95.5 380.8,80.5"/>
<polyline points="109.4,365.5 126.4,350.5 139.1,335.5 151.8,320.5 177.3,305.5 185.7,290.5 211.2,275.5 236.6,260.5 283.3,245.5 300.2,230.5 308.7,215.5 312.9,200.5 321.4,185.5 329.9,170.5 334.1,155.5 346.9,140.5 355.3,125.5 368.1,110.5 376.5,95.5 385.0,80.5"/>
<polyline points="109.4,365.5 117.9,350.5 126.4,335.5 143.3,320.5 177.3,305.5 181.5,290.5 211.2,275.5 236.6,260.5 262.1,245.5 266.3,230.5 279.0,215.5 283.3,200.5 296.0,185.5 300.2,170.5 312.9,155.5 325.7,140.5 342.6,125.5 355.3,110.5 368.1,95.5 385.0,80.5"/>
<polyline points="96.7,365.5 105.2,350.5 117.9,335.5 126.4,320.5 143.3,305.5 156.1,290.5 185.7,275.5 228.1,260.5 253.6,245.5 279.0,230.5 287.5,215.5 287.5,200.5 291.7,185.5 317.2,170.5 321.4,155.5 334.1,140.5 351.1,125.5 363.8,110.5 376.5,95.5 389.3,80.5"/>
<polyline points="109.4,365.5 117.9,350.5 130.6,335.5 139.1,320.5 160.3,305.5 177.3,290.5 198.5,275.5 223.9,260.5 249.3,245.5 266.3,230.5 279.0,215.5 287.5,200.5 300.2,185.5 304.5,170.5 312.9,155.5 329.9,140.5 346.9,125.5 363.8,110.5 376.5,95.5 389.3,80.5"/>
<polyline points="100.9,365.5 109.4,350.5 122.1,335.5 134.9,320.5 156.1,305.5 173.0,290.5 198.5,275.5 249.3,260.5 291.7,245.5 312.9,230.5 312.9,215.5 317.2,200.5 325.7,185.5 338.4,170.5 351.1,155.5 359.6,140.5 368.1,125.5 380.8,110.5 389.3,95.5 393.5,80.5"/>
<polyline points="105.2,365.5 117.9,350.5 130.6,335.5 147.6,320.5 168.8,305.5 185.7,290.5 206.9,275.5 223.9,260.5 266.3,245.5 291.7,230.5 296.0,215.5 308.7,200.5 317.2,185.5 325.7,170.5 334.1,155.5 342.6,140.5 359.6,125.5 372.3,110.5 385.0,95.5 397.7,80.5"/>
<polyline points="105.2,365.5 122.1,350.5 130.6,335.5 139.1,320.5 160.3,305.5 177.3,290.5 198.5,275.5 228.1,260.5 262.1,245.5 279.0,230.5 300.2,215.5 300.2,200.5 308.7,185.5 317.2,170.5 329.9,155.5 342.6,140.5 359.6,125.5 372.3,110.5 380.8,95.5 397.7,80.5"/>
<polyline points="100.9,365.5 113.7,350.5 126.4,335.5 139.1,320.5 160.3,305.5 181.5,290.5 219.7,275.5 279.0,260.5 308.7,245.5 312.9,230.5 321.4,215.5 325.7,200.5 334.1,185.5 338.4,170.5 342.6,155.5 355.3,140.5 368.1,125.5 380.8,110.5 389.3,95.5 402.0,80.5"/>
<polyline points="105.2,365.5 117.9,350.5 130.6,335.5 147.6,320.5 168.8,305.5 190.0,290.5 211.2,275.5 245.1,260.5 274.8,245.5 304.5,230.5 304.5,215.5 312.9,200.5 317.2,185.5 329.9,170.5 351.1,155.5 363.8,140.5 376.5,125.5 385.0,110.5 393.5,95.5 406.2,80.5"/>
<polyline points="109.4,365.5 122.1,350.5 130.6,335.5 139.1,320.5 168.8,305.5 185.7,290.5 202.7,275.5 236.6,260.5 274.8,245.5 317.2,230.5 321.4,215.5 325.7,200.5 325.7,185.5 342.6,170.5 351.1,155.5 359.6,140.5 376.5,125.5 385.0,110.5 397.7,95.5 406.2,80.5"/>
<polyline points="109.4,365.5 126.4,350.5 130.6,335.5 147.6,320.5 168.8,305.5 181.5,290.5 198.5,275.5 236.6,260.5 283.3,245.5 291.7,230.5 300.2,215.5 308.7,200.5 321.4,185.5 338.4,170.5 338.4,155.5 355.3,140.5 372.3,125.5 389.3,110.5 397.7,95.5 414.7,80.5"/>
<polyline points="105.2,365.5 117.9,350.5 122.1,335.5 134.9,320.5 160.3,305.5 185.7,290.5 206.9,275.5 236.6,260.5 287.5,245.5 321.4,230.5 329.9,215.5 338.4,200.5 342.6,185.5 355.3,170.5 359.6,155.5 368.1,140.5 380.8,125.5 397.7,110.5 406.2,95.5 414.7,80.5"/>
<polyline points="109.4,365.5 122.1,350.5 130.6,335.5 139.1,320.5 164.5,305.5 181.5,290.5 206.9,275.5 232.4,260.5 262.1,245.5 325.7,230.5 338.4,215.5 342.6,200.5 346.9,185.5 355.3,170.5 363.8,155.5 372.3,140.5 385.0,125.5 397.7,110.5 406.2,95.5 418.9,80.5"/>
<polyline points="96.7,365.5 109.4,350.5 117.9,335.5 126.4,320.5 143.3,305.5 156.1,290.5 185.7,275.5 223.9,260.5 249.3,245.5 287.5,230.5 300.2,215.5 342.6,200.5 351.1,185.5 363.8,170.5 372.3,155.5 385.0,140.5 393.5,125.5 402.0,110.5 410.5,95.5 418.9,80.5"/>
<polyline points="105.2,365.5 113.7,350.5 126.4,335.5 139.1,320.5 160.3,305.5 168.8,290.5 194.2,275.5 236.6,260.5 287.5,245.5 329.9,230.5 342.6,215.5 346.9,200.5 355.3,185.5 355.3,170.5 363.8,155.5 376.5,140.5 393.5,125.5 406.2,110.5 414.7,95.5 423.2,80.5"/>
<polyline points="100.9,365.5 109.4,350.5 122.1,335.5 134.9,320.5 151.8,305.5 168.8,290.5 185.7,275.5 211.2,260.5 245.1,245.5 300.2,230.5 304.5,215.5 308.7,200.5 321.4,185.5 338.4,170.5 359.6,155.5 376.5,140.5 389.3,125.5 402.0,110.5 410.5,95.5 427.4,80.5"/>
<polyline points="105.2,365.5 117.9,350.5 130.6,335.5 143.3,320.5 173.0,305.5 185.7,290.5 202.7,275.5 249.3,260.5 274.8,245.5 334.1,230.5 363.8,215.5 368.1,200.5 376.5,185.5 376.5,170.5 385.0,155.5 393.5,140.5 406.2,125.5 414.7,110.5 423.2,95.5 431.7,80.5"/>
<polyline points="96.7,365.5 105.2,350.5 113.7,335.5 130.6,320.5 147.6,305.5 160.3,290.5 185.7,275.5 228.1,260.5 270.5,245.5 325.7,230.5 338.4,215.5 342.6,200.5 342.6,185.5 355.3,170.5 363.8,155.5 376.5,140.5 397.7,125.5 414.7,110.5 423.2,95.5 435.9,80.5"/>
<polyline points="100.9,365.5 113.7,350.5 122.1,335.5 130.6,320.5 151.8,305.5 168.8,290.5 190.0,275.5 223.9,260.5 270.5,245.5 308.7,230.5 338.4,215.5 351.1,200.5 359.6,185.5 368.1,170.5 376.5,155.5 389.3,140.5 402.0,125.5 414.7,110.5 427.4,95.5 435.9,80.5"/>
<polyline points="109.4,365.5 126.4,350.5 134.9,335.5 147.6,320.5 177.3,305.5 198.5,290.5 232.4,275.5 270.5,260.5 312.9,245.5 329.9,230.5 338.4,215.5 346.9,200.5 359.6,185.5 363.8,170.5 376.5,155.5 389.3,140.5 406.2,125.5 418.9,110.5 427.4,95.5 440.1,80.5"/>
<polyline points="113.7,365.5 126.4,350.5 139.1,335.5 164.5,320.5 173.0,305.5 177.3,290.5 185.7,275.5 190.0,260.5 198.5,245.5 206.9,230.5 211.2,215.5 219.7,200.5 232.4,185.5 236.6,170.5 253.6,155.5 266.3,140.5 279.0,125.5 291.7,110.5 304.5,95.5 317.2,80.5"/>
<polyline points="105.2,365.5 105.2,350.5 113.7,335.5 126.4,320.5 134.9,305.5 143.3,290.5 156.1,275.5 173.0,260.5 177.3,245.5 194.2,230.5 206.9,215.5 215.4,200.5 219.7,185.5 223.9,170.5 245.1,155.5 257.8,140.5 274.8,125.5 291.7,110.5 304.5,95.5 321.4,80.5"/>
<polyline points="105.2,365.5 113.7,350.5 122.1,335.5 126.4,320.5 143.3,305.5 160.3,290.5 181.5,275.5 185.7,260.5 194.2,245.5 198.5,230.5 206.9,215.5 211.2,200.5 223.9,185.5 236.6,170.5 257.8,155.5 270.5,140.5 283.3,125.5 296.0,110.5 308.7,95.5 321.4,80.5"/>
<polyline points="105.2,365.5 113.7,350.5 122.1,335.5 130.6,320.5 143.3,305.5 160.3,290.5 177.3,275.5 194.2,260.5 206.9,245.5 215.4,230.5 219.7,215.5 223.9,200.5 228.1,185.5 245.1,170.5 253.6,155.5 270.5,140.5 287.5,125.5 300.2,110.5 308.7,95.5 321.4,80.5"/>
<polyline points="109.4,365.5 126.4,350.5 134.9,335.5 143.3,320.5 164.5,305.5 177.3,290.5 194.2,275.5 202.7,260.5 211.2,245.5 211.2,230.5 219.7,215.5 223.9,200.5 236.6,185.5 249.3,170.5 262.1,155.5 274.8,140.5 287.5,125.5 300.2,110.5 312.9,95.5 325.7,80.5"/>
<polyline points="109.4,365.5 117.9,350.5 126.4,335.5 134.9,320.5 143.3,305.5 143.3,290.5 156.1,275.5 164.5,260.5 181.5,245.5 190.0,230.5 194.2,215.5 206.9,200.5 219.7,185.5 236.6,170.5 253.6,155.5 270.5,140.5 283.3,125.5 300.2,110.5 312.9,95.5 329.9,80.5"/>
<polyline points="113.7,365.5 126.4,350.5 134.9,335.5 147.6,320.5 168.8,305.5 185.7,290.5 206.9,275.5 219.7,260.5 228.1,245.5 228.1,230.5 236.6,215.5 240.9,200.5 245.1,185.5 257.8,170.5 274.8,155.5 287.5,140.5 300.2,125.5 308.7,110.5 321.4,95.5 329.9,80.5"/>
<polyline points="100.9,365.5 113.7,350.5 122.1,335.5 130.6,320.5 151.8,305.5 164.5,290.5 181.5,275.5 202.7,260.5 211.2,245.5 219.7,230.5 219.7,215.5 219.7,200.5 228.1,185.5 262.1,170.5 287.5,155.5 296.0,140.5 304.5,125.5 312.9,110.5 325.7,95.5 334.1,80.5"/>
<polyline points="105.2,365.5 122.1,350.5 130.6,335.5 143.3,320.5 164.5,305.5 177.3,290.5 202.7,275.5 232.4,260.5 245.1,245.5 249.3,230.5 253.6,215.5 253.6,200.5 262.1,185.5 266.3,170.5 274.8,155.5 287.5,140.5 300.2,125.5 317.2,110.5 321.4,95.5 334.1,80.5"/>
<polyline points="100.9,365.5 109.4,350.5 122.1,335.5 130.6,320.5 151.8,305.5 156.1,290.5 164.5,275.5 181.5,260.5 198.5,245.5 232.4,230.5 232.4,215.5 240.9,200.5 253.6,185.5 262.1,170.5 279.0,155.5 291.7,140.5 304.5,125.5 317.2,110.5 329.9,95.5 338.4,80.5"/>
<polyline points="113.7,365.5 117.9,350.5 126.4,335.5 143.3,320.5 177.3,305.5 190.0,290.5 211.2,275.5 240.9,260.5 245.1,245.5 249.3,230.5 253.6,215.5 257.8,200.5 266.3,185.5 270.5,170.5 279.0,155.5 291.7,140.5 304.5,125.5 321.4,110.5 329.9,95.5 342.6,80.5"/>
<polyline points="100.9,365.5 109.4,350.5 117.9,335.5 130.6,320.5 147.6,305.5 168.8,290.5 194.2,275.5 215.4,260.5 236.6,245.5 236.6,230.5 236.6,215.5 266.3,200.5 279.0,185.5 287.5,170.5 287.5,155.5 304.5,140.5 317.2,125.5 325.7,110.5 334.1,95.5 342.6,80.5"/>
<polyline points="113.7,365.5 122.1,350.5 134.9,335.5 143.3,320.5 168.8,305.5 181.5,290.5 194.2,275.5 219.7,260.5 245.1,245.5 249.3,230.5 253.6,215.5 257.8,200.5 266.3,185.5 279.0,170.5 287.5,155.5 300.2,140.5 312.9,125.5 325.7,110.5 334.1,95.5 346.9,80.5"/>
<polyline points="113.7,365.5 122.1,350.5 130.6,335.5 143.3,320.5 164.5,305.5 177.3,290.5 202.7,275.5 232.4,260.5 245.1,245.5 266.3,230.5 274.8,215.5 279.0,200.5 287.5,185.5 291.7,170.5 296.0,155.5 308.7,140.5 317.2,125.5 329.9,110.5 338.4,95.5 346.9,80.5"/>
<polyline points="105.2,365.5 117.9,350.5 126.4,335.5 139.1,320.5 164.5,305.5 181.5,290.5 194.2,275.5 228.1,260.5 236.6,245.5 245.1,230.5 249.3,215.5 262.1,200.5 270.5,185.5 274.8,170.5 287.5,155.5 300.2,140.5 312.9,125.5 325.7,110.5 338.4,95.5 351.1,80.5"/>
<polyline points="113.7,365.5 126.4,350.5 134.9,335.5 147.6,320.5 177.3,305.5 190.0,290.5 219.7,275.5 240.9,260.5 249.3,245.5 262.1,230.5 270.5,215.5 274.8,200.5 274.8,185.5 279.0,170.5 283.3,155.5 296.0,140.5 312.9,125.5 325.7,110.5 338.4,95.5 355.3,80.5"/>
<polyline points="105.2,365.5 113.7,350.5 122.1,335.5 139.1,320.5 156.1,305.5 168.8,290.5 173.0,275.5 198.5,260.5 215.4,245.5 253.6,230.5 262.1,215.5 270.5,200.5 274.8,185.5 287.5,170.5 300.2,155.5 304.5,140.5 325.7,125.5 325.7,110.5 346.9,95.5 346.9,80.5"/>
<polyline points="109.4,365.5 122.1,350.5 130.6,335.5 147.6,320.5 168.8,305.5 185.7,290.5 219.7,275.5 249.3,260.5 283.3,245.5 287.5,230.5 291.7,215.5 291.7,200.5 296.0,185.5 304.5,170.5 304.5,155.5 317.2,140.5 329.9,125.5 338.4,110.5 346.9,95.5 355.3,80.5"/>
<polyline points="105.2,365.5 113.7,350.5 126.4,335.5 130.6,320.5 156.1,305.5 164.5,290.5 177.3,275.5 190.0,260.5 198.5,245.5 232.4,230.5 253.6,215.5 253.6,200.5 266.3,185.5 274.8,170.5 287.5,155.5 287.5,140.5 300.2,125.5 334.1,110.5 342.6,95.5 359.6,80.5"/>
<polyline points="113.7,365.5 122.1,350.5 130.6,335.5 147.6,320.5 164.5,305.5 181.5,290.5 198.5,275.5 232.4,260.5 266.3,245.5 283.3,230.5 287.5,215.5 291.7,200.5 300.2,185.5 308.7,170.5 312.9,155.5 321.4,140.5 334.1,125.5 342.6,110.5 351.1,95.5 359.6,80.5"/>
<polyline points="100.9,365.5 113.7,350.5 117.9,335.5 130.6,320.5 147.6,305.5 160.3,290.5 173.0,275.5 177.3,260.5 190.0,245.5 202.7,230.5 236.6,215.5 279.0,200.5 279.0,185.5 279.0,170.5 308.7,155.5 321.4,140.5 334.1,125.5 346.9,110.5 355.3,95.5 363.8,80.5"/>
<polyline points="105.2,365.5 113.7,350.5 117.9,335.5 130.6,320.5 151.8,305.5 164.5,290.5 177.3,275.5 206.9,260.5 219.7,245.5 266.3,230.5 270.5,215.5 279.0,200.5 283.3,185.5 300.2,170.5 300.2,155.5 300.2,140.5 312.9,125.5 334.1,110.5 334.1,95.5 342.6,80.5"/>
<polyline points="100.9,365.5 109.4,350.5 117.9,335.5 130.6,320.5 151.8,305.5 177.3,290.5 185.7,275.5 202.7,260.5 219.7,245.5 228.1,230.5 232.4,215.5 232.4,200.5 262.1,185.5 283.3,170.5 296.0,155.5 304.5,140.5 329.9,125.5 329.9,110.5 329.9,95.5 368.1,80.5"/>
<polyline points="117.9,365.5 126.4,350.5 134.9,335.5 147.6,320.5 177.3,305.5 190.0,290.5 215.4,275.5 240.9,260.5 253.6,245.5 266.3,230.5 270.5,215.5 274.8,200.5 291.7,185.5 296.0,170.5 312.9,155.5 325.7,140.5 338.4,125.5 351.1,110.5 359.6,95.5 372.3,80.5"/>
<polyline points="109.4,365.5 117.9,350.5 130.6,335.5 139.1,320.5 151.8,305.5 156.1,290.5 173.0,275.5 194.2,260.5 198.5,245.5 240.9,230.5 262.1,215.5 266.3,200.5 274.8,185.5 283.3,170.5 308.7,155.5 321.4,140.5 334.1,125.5 346.9,110.5 359.6,95.5 372.3,80.5"/>
<polyline points="100.9,365.5 113.7,350.5 122.1,335.5 134.9,320.5 156.1,305.5 156.1,290.5 190.0,275.5 215.4,260.5 219.7,245.5 236.6,230.5 274.8,215.5 274.8,200.5 300.2,185.5 308.7,170.5 325.7,155.5 334.1,140.5 334.1,125.5 346.9,110.5 359.6,95.5 376.5,80.5"/>
<polyline points="113.7,365.5 126.4,350.5 139.1,335.5 151.8,320.5 177.3,305.5 198.5,290.5 215.4,275.5 249.3,260.5 253.6,245.5 266.3,230.5 274.8,215.5 274.8,200.5 287.5,185.5 291.7,170.5 304.5,155.5 317.2,140.5 334.1,125.5 351.1,110.5 359.6,95.5 376.5,80.5"/>
<polyline points="100.9,365.5 109.4,350.5 117.9,335.5 126.4,320.5 139.1,305.5 147.6,290.5 160.3,275.5 168.8,260.5 168.8,245.5 168.8,230.5 198.5,215.5 223.9,200.5 223.9,185.5 253.6,170.5 274.8,155.5 296.0,140.5 308.7,125.5 312.9,110.5 312.9,95.5 321.4,80.5"/>
<polyline points="113.7,365.5 126.4,350.5 134.9,335.5 147.6,320.5 173.0,305.5 190.0,290.5 219.7,275.5 249.3,260.5 253.6,245.5 257.8,230.5 266.3,215.5 279.0,200.5 291.7,185.5 300.2,170.5 308.7,155.5 325.7,140.5 342.6,125.5 359.6,110.5 372.3,95.5 385.0,80.5"/>
<polyline points="113.7,365.5 122.1,350.5 139.1,335.5 147.6,320.5 164.5,305.5 177.3,290.5 198.5,275.5 232.4,260.5 245.1,245.5 287.5,230.5 287.5,215.5 296.0,200.5 304.5,185.5 312.9,170.5 321.4,155.5 334.1,140.5 346.9,125.5 363.8,110.5 372.3,95.5 385.0,80.5"/>
<polyline points="105.2,365.5 109.4,350.5 117.9,335.5 126.4,320.5 147.6,305.5 156.1,290.5 181.5,275.5 198.5,260.5 228.1,245.5 228.1,230.5 245.1,215.5 270.5,200.5 300.2,185.5 308.7,170.5 329.9,155.5 329.9,140.5 355.3,125.5 355.3,110.5 376.5,95.5 385.0,80.5"/>
<polyline points="100.9,365.5 113.7,350.5 122.1,335.5 126.4,320.5 139.1,305.5 151.8,290.5 164.5,275.5 173.0,260.5 190.0,245.5 232.4,230.5 253.6,215.5 283.3,200.5 283.3,185.5 304.5,170.5 338.4,155.5 342.6,140.5 363.8,125.5 363.8,110.5 372.3,95.5 385.0,80.5"/>
<polyline points="113.7,365.5 126.4,350.5 130.6,335.5 147.6,320.5 168.8,305.5 190.0,290.5 206.9,275.5 249.3,260.5 270.5,245.5 274.8,230.5 283.3,215.5 291.7,200.5 304.5,185.5 312.9,170.5 321.4,155.5 338.4,140.5 351.1,125.5 368.1,110.5 376.5,95.5 393.5,80.5"/>
<polyline points="105.2,365.5 113.7,350.5 126.4,335.5 130.6,320.5 143.3,305.5 156.1,290.5 164.5,275.5 173.0,260.5 185.7,245.5 190.0,230.5 198.5,215.5 211.2,200.5 236.6,185.5 300.2,170.5 329.9,155.5 342.6,140.5 342.6,125.5 363.8,110.5 363.8,95.5 363.8,80.5"/>
<polyline points="109.4,365.5 122.1,350.5 134.9,335.5 147.6,320.5 164.5,305.5 181.5,290.5 211.2,275.5 236.6,260.5 253.6,245.5 279.0,230.5 300.2,215.5 304.5,200.5 312.9,185.5 329.9,170.5 334.1,155.5 346.9,140.5 359.6,125.5 376.5,110.5 385.0,95.5 397.7,80.5"/>
<polyline points="105.2,365.5 113.7,350.5 122.1,335.5 130.6,320.5 147.6,305.5 151.8,290.5 173.0,275.5 202.7,260.5 211.2,245.5 236.6,230.5 236.6,215.5 249.3,200.5 266.3,185.5 321.4,170.5 329.9,155.5 329.9,140.5 346.9,125.5 346.9,110.5 355.3,95.5 372.3,80.5"/>
<polyline points="113.7,365.5 126.4,350.5 134.9,335.5 147.6,320.5 168.8,305.5 185.7,290.5 198.5,275.5 232.4,260.5 249.3,245.5 274.8,230.5 291.7,215.5 308.7,200.5 325.7,185.5 329.9,170.5 334.1,155.5 346.9,140.5 368.1,125.5 380.8,110.5 393.5,95.5 402.0,80.5"/>
<polyline points="113.7,365.5 126.4,350.5 134.9,335.5 147.6,320.5 173.0,305.5 185.7,290.5 206.9,275.5 236.6,260.5 270.5,245.5 279.0,230.5 287.5,215.5 296.0,200.5 300.2,185.5 312.9,170.5 329.9,155.5 346.9,140.5 363.8,125.5 380.8,110.5 393.5,95.5 406.2,80.5"/>
<polyline points="105.2,365.5 117.9,350.5 126.4,335.5 139.1,320.5 151.8,305.5 168.8,290.5 194.2,275.5 215.4,260.5 253.6,245.5 266.3,230.5 274.8,215.5 287.5,200.5 287.5,185.5 317.2,170.5 317.2,155.5 321.4,140.5 368.1,125.5 372.3,110.5 393.5,95.5 406.2,80.5"/>
<polyline points="100.9,365.5 113.7,350.5 117.9,335.5 126.4,320.5 147.6,305.5 160.3,290.5 168.8,275.5 198.5,260.5 219.7,245.5 245.1,230.5 245.1,215.5 245.1,200.5 266.3,185.5 279.0,170.5 283.3,155.5 296.0,140.5 342.6,125.5 342.6,110.5 342.6,95.5 363.8,80.5"/>
<polyline points="113.7,365.5 122.1,350.5 130.6,335.5 139.1,320.5 156.1,305.5 181.5,290.5 194.2,275.5 219.7,260.5 245.1,245.5 262.1,230.5 291.7,215.5 312.9,200.5 334.1,185.5 355.3,170.5 363.8,155.5 372.3,140.5 385.0,125.5 393.5,110.5 402.0,95.5 410.5,80.5"/>
<polyline points="113.7,365.5 126.4,350.5 130.6,335.5 147.6,320.5 177.3,305.5 185.7,290.5 190.0,275.5 223.9,260.5 266.3,245.5 279.0,230.5 308.7,215.5 317.2,200.5 334.1,185.5 342.6,170.5 351.1,155.5 363.8,140.5 380.8,125.5 393.5,110.5 402.0,95.5 414.7,80.5"/>
<polyline points="109.4,365.5 122.1,350.5 130.6,335.5 147.6,320.5 173.0,305.5 181.5,290.5 215.4,275.5 257.8,260.5 287.5,245.5 300.2,230.5 308.7,215.5 317.2,200.5 325.7,185.5 338.4,170.5 342.6,155.5 359.6,140.5 376.5,125.5 393.5,110.5 402.0,95.5 414.7,80.5"/>
<polyline points="113.7,365.5 130.6,350.5 134.9,335.5 147.6,320.5 173.0,305.5 185.7,290.5 211.2,275.5 245.1,260.5 279.0,245.5 300.2,230.5 317.2,215.5 329.9,200.5 334.1,185.5 342.6,170.5 359.6,155.5 372.3,140.5 385.0,125.5 397.7,110.5 410.5,95.5 418.9,80.5"/>
<polyline points="109.4,365.5 126.4,350.5 130.6,335.5 143.3,320.5 164.5,305.5 185.7,290.5 202.7,275.5 236.6,260.5 257.8,245.5 300.2,230.5 304.5,215.5 312.9,200.5 321.4,185.5 342.6,170.5 359.6,155.5 372.3,140.5 385.0,125.5 397.7,110.5 410.5,95.5 423.2,80.5"/>
<polyline points="109.4,365.5 122.1,350.5 130.6,335.5 139.1,320.5 168.8,305.5 181.5,290.5 211.2,275.5 236.6,260.5 245.1,245.5 270.5,230.5 300.2,215.5 300.2,200.5 312.9,185.5 346.9,170.5 368.1,155.5 376.5,140.5 389.3,125.5 402.0,110.5 410.5,95.5 423.2,80.5"/>
<polyline points="92.5,365.5 96.7,350.5 100.9,335.5 105.2,320.5 113.7,305.5 117.9,290.5 126.4,275.5 134.9,260.5 139.1,245.5 147.6,230.5 151.8,215.5 156.1,200.5 164.5,185.5 173.0,170.5 185.7,155.5 194.2,140.5 215.4,125.5 223.9,110.5 228.1,95.5 245.1,80.5"/>
<polyline points="92.5,365.5 100.9,350.5 109.4,335.5 113.7,320.5 122.1,305.5 126.4,290.5 139.1,275.5 147.6,260.5 151.8,245.5 160.3,230.5 164.5,215.5 168.8,200.5 177.3,185.5 190.0,170.5 198.5,155.5 211.2,140.5 228.1,125.5 240.9,110.5 245.1,95.5 266.3,80.5"/>
<polyline points="130.6,365.5 181.5,350.5 206.9,335.5 253.6,320.5 291.7,305.5 317.2,290.5 351.1,275.5 376.5,260.5 402.0,245.5 440.1,230.5 465.6,215.5 482.5,200.5 499.5,185.5 512.2,170.5 524.9,155.5 533.4,140.5 546.1,125.5 554.6,110.5 571.6,95.5 584.3,80.5"/>
</g><g fill="none" stroke="#000" stroke-width="1.8"><polyline points="109.2,365.5 127.8,350.5 138.7,335.5 142.6,320.5 166.0,305.5 187.1,290.5 207.8,275.5 227.7,260.5 241.0,245.5 244.0,230.5 253.5,215.5 257.3,200.5 265.3,185.5 277.8,170.5 291.1,155.5 300.0,140.5 314.9,125.5 333.0,110.5 347.3,95.5 359.4,80.5"/><polyline points="117.7,365.5 130.2,350.5 142.1,335.5 151.0,320.5 182.5,305.5 192.3,290.5 209.2,275.5 234.1,260.5 258.3,245.5 260.9,230.5 269.8,215.5 278.4,200.5 278.5,185.5 281.2,170.5 291.9,155.5 309.0,140.5 314.6,125.5 321.4,110.5 334.3,95.5 342.4,80.5"/><polyline points="117.7,365.5 130.2,350.5 142.1,335.5 151.0,320.5 182.5,305.5 192.3,290.5 209.2,275.5 234.1,260.5 265.2,245.5 292.0,230.5 302.3,215.5 314.9,200.5 324.5,185.5 333.2,170.5 337.6,155.5 344.0,140.5 354.1,125.5 363.5,110.5 377.2,95.5 388.5,80.5"/></g><g fill="none" stroke="#0000ff" stroke-width="1.8"><polyline points="117.7,365.5 130.2,350.5 140.2,335.5 148.2,320.5 178.5,305.5 190.8,290.5 209.2,275.5 234.4,260.5 277.9,245.5 291.2,230.5 302.3,215.5 314.9,200.5 324.5,185.5 333.2,170.5 337.6,155.5 343.0,140.5 350.5,125.5 363.5,110.5 376.4,95.5 397.8,80.5"/>
</g>
<g>
<rect x="65" y="65" width="551" height="1" fill="#000"/><rect x="65" y="375" width="551" height="1" fill="#000"/><rect x="65" y="65" width="1" height="311" fill="#000"/><rect x="615" y="65" width="1" height="311" fill="#000"/><rect x="128" y="370" width="1" height="6" fill="#000"/><rect x="128" y="65" width="1" height="6" fill="#000"/><rect x="181" y="365" width="1" height="11" fill="#000"/><rect x="181" y="65" width="1" height="11" fill="#000"/><rect x="234" y="370" width="1" height="6" fill="#000"/><rect x="234" y="65" width="1" height="6" fill="#000"/><rect x="287" y="365" width="1" height="11" fill="#000"/><rect x="287" y="65" width="1" height="11" fill="#000"/><rect x="340" y="370" width="1" height="6" fill="#000"/><rect x="340" y="65" width="1" height="6" fill="#000"/><rect x="393" y="365" width="1" height="11" fill="#000"/><rect x="393" y="65" width="1" height="11" fill="#000"/><rect x="446" y="370" width="1" height="6" fill="#000"/><rect x="446" y="65" width="1" height="6" fill="#000"/><rect x="499" y="365" width="1" height="11" fill="#000"/><rect x="499" y="65" width="1" height="11" fill="#000"/><rect x="552" y="370" width="1" height="6" fill="#000"/><rect x="552" y="65" width="1" height="6" fill="#000"/><rect x="605" y="365" width="1" height="11" fill="#000"/><rect x="605" y="65" width="1" height="11" fill="#000"/><rect x="65" y="336" width="6" height="1" fill="#000"/><rect x="610" y="336" width="6" height="1" fill="#000"/><rect x="65" y="307" width="6" height="1" fill="#000"/><rect x="610" y="307" width="6" height="1" fill="#000"/><rect x="65" y="278" width="6" height="1" fill="#000"/><rect x="610" y="278" width="6" height="1" fill="#000"/><rect x="65" y="249" width="6" height="1" fill="#000"/><rect x="610" y="249" width="6" height="1" fill="#000"/><rect x="65" y="220" width="11" height="1" fill="#000"/><rect x="605" y="220" width="11" height="1" fill="#000"/><rect x="65" y="191" width="6" height="1" fill="#000"/><rect x="610" y="191" width="6" height="1" fill="#000"/><rect x="65" y="162" width="6" height="1" fill="#000"/><rect x="610" y="162" width="6" height="1" fill="#000"/><rect x="65" y="133" width="6" height="1" fill="#000"/><rect x="610" y="133" width="6" height="1" fill="#000"/><rect x="65" y="104" width="6" height="1" fill="#000"/><rect x="610" y="104" width="6" height="1" fill="#000"/><rect x="65" y="75" width="11" height="1" fill="#000"/><rect x="605" y="75" width="11" height="1" fill="#000"/>
</g>
</svg>
<div class="t big c" style="left:348px;top:19px;">T1029-D1</div>
<div class="t big c" style="left:334px;top:409px;">Percent of Residues (CA)</div>
<div class="t big rot" style="left:20px;top:319px;">Distance Cutoff, A</div>
<div class="t big c" style="left:65px;top:384px;">0</div>
<div class="t big c" style="left:181px;top:384px;">20</div>
<div class="t big c" style="left:286px;top:384px;">40</div>
<div class="t big c" style="left:392px;top:384px;">60</div>
<div class="t big c" style="left:498px;top:384px;">80</div>
<div class="t big c" style="left:609px;top:384px;">100</div>
<div class="t big rot" style="left:44px;top:380px;">0</div>
<div class="t big rot" style="left:44px;top:225px;">5</div>
<div class="t big rot" style="left:44px;top:75px;">10</div>
</body></html>
